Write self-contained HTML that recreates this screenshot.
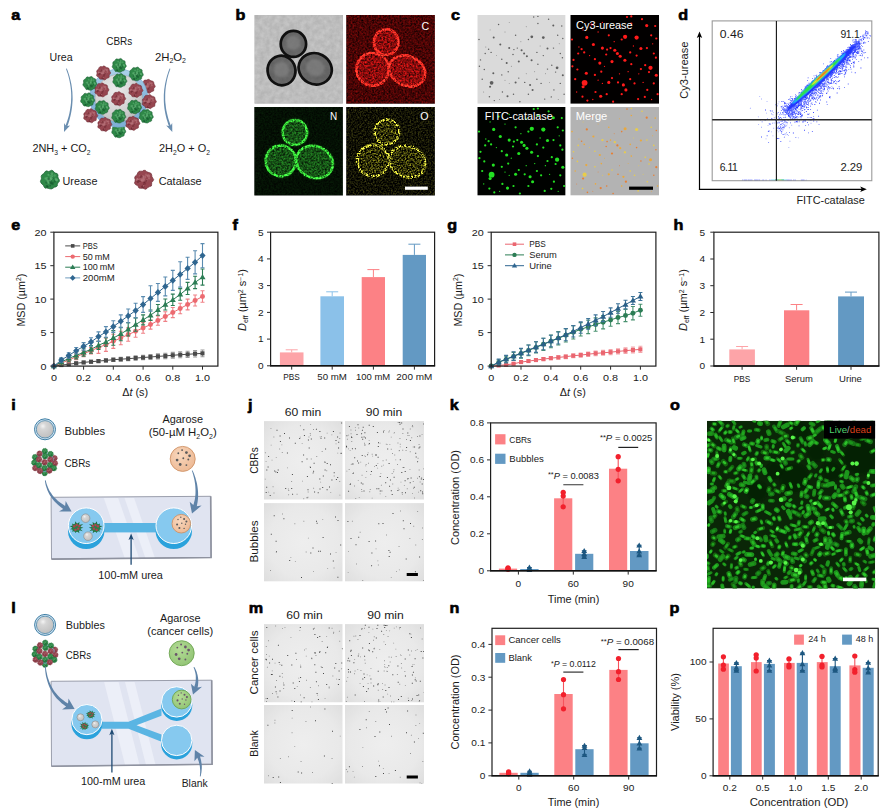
<!DOCTYPE html>
<html lang="en"><head><meta charset="utf-8"><title>Figure</title>
<style>
html,body{margin:0;padding:0;background:#fff}
svg{display:block}
text{font-family:'Liberation Sans', sans-serif}
</style></head>
<body>
<svg width="889" height="810" viewBox="0 0 889 810">
<defs><g id="ur"><path d="M9.7 0.0L9.8 1.7L8.5 3.1L7.7 4.5L7.6 6.4L6.2 7.4L4.5 7.8L3.2 8.7L1.7 9.5L0.0 9.4L-1.6 9.0L-3.1 8.5L-5.0 8.7L-6.1 7.2L-6.8 5.7L-8.0 4.6L-9.2 3.3L-9.8 1.7L-9.1 0.0L-8.7 -1.5L-9.0 -3.3L-8.4 -4.9L-7.0 -5.9L-5.8 -6.9L-4.9 -8.4L-3.3 -9.1L-1.5 -8.5L-0.0 -8.9L1.7 -9.7L3.3 -9.1L4.4 -7.6L5.7 -6.8L7.5 -6.3L8.4 -4.8L8.2 -3.0L8.7 -1.5Z" fill="#2f8848" stroke="#175a30" stroke-width="0.7" stroke-linejoin="round"/><circle cx="2.3" cy="-3.7" r="0.9" fill="#62b476" opacity="0.80"/><circle cx="0.6" cy="-0.7" r="1.4" fill="#62b476" opacity="0.70"/><circle cx="3.0" cy="-1.3" r="1.0" fill="#175a30" opacity="0.66"/><circle cx="4.9" cy="-4.4" r="1.3" fill="#62b476" opacity="0.46"/><circle cx="0.3" cy="6.2" r="0.9" fill="#175a30" opacity="0.64"/><circle cx="-1.5" cy="-5.0" r="1.1" fill="#62b476" opacity="0.63"/><circle cx="0.7" cy="-4.0" r="1.2" fill="#62b476" opacity="0.46"/><circle cx="5.3" cy="1.5" r="1.3" fill="#175a30" opacity="0.59"/><circle cx="1.9" cy="3.4" r="1.5" fill="#175a30" opacity="0.64"/><circle cx="1.2" cy="-1.4" r="1.7" fill="#62b476" opacity="0.65"/><circle cx="-2.0" cy="0.5" r="1.7" fill="#62b476" opacity="0.45"/><circle cx="1.3" cy="-6.3" r="1.5" fill="#175a30" opacity="0.63"/><circle cx="-3.1" cy="-1.2" r="1.6" fill="#62b476" opacity="0.65"/><circle cx="1.2" cy="3.7" r="1.1" fill="#175a30" opacity="0.57"/><circle cx="-4.7" cy="-1.2" r="1.2" fill="#62b476" opacity="0.46"/><circle cx="0.2" cy="1.4" r="1.6" fill="#175a30" opacity="0.73"/><circle cx="1.9" cy="-6.1" r="1.5" fill="#62b476" opacity="0.69"/><circle cx="0.1" cy="0.1" r="1.5" fill="#62b476" opacity="0.54"/><circle cx="3.8" cy="3.1" r="0.8" fill="#175a30" opacity="0.51"/><circle cx="-1.3" cy="-0.2" r="1.4" fill="#62b476" opacity="0.61"/><circle cx="-1.6" cy="3.3" r="1.1" fill="#62b476" opacity="0.60"/><circle cx="0.3" cy="0.8" r="0.9" fill="#175a30" opacity="0.66"/><circle cx="0.1" cy="-0.1" r="0.8" fill="#62b476" opacity="0.70"/><circle cx="2.9" cy="4.6" r="1.2" fill="#175a30" opacity="0.53"/><circle cx="6.1" cy="-1.0" r="0.9" fill="#62b476" opacity="0.68"/><circle cx="-3.5" cy="2.8" r="1.3" fill="#175a30" opacity="0.47"/><circle cx="-2.3" cy="7.2" r="1.0" fill="#175a30" opacity="0.75"/><circle cx="-2.7" cy="6.8" r="1.1" fill="#175a30" opacity="0.54"/><circle cx="6.8" cy="0.4" r="1.5" fill="#62b476" opacity="0.79"/><circle cx="-1.2" cy="-0.6" r="1.4" fill="#175a30" opacity="0.63"/><circle cx="-1.9" cy="1.9" r="1.4" fill="#62b476" opacity="0.60"/><circle cx="0.3" cy="0.8" r="1.0" fill="#62b476" opacity="0.62"/><circle cx="-3.1" cy="6.1" r="0.7" fill="#175a30" opacity="0.52"/><circle cx="-3.6" cy="6.8" r="1.0" fill="#175a30" opacity="0.52"/></g><g id="ca"><path d="M10.2 0.0L9.3 1.6L8.1 2.9L8.1 4.7L7.8 6.5L6.0 7.1L4.5 7.8L3.3 9.0L1.7 9.9L0.0 9.2L-1.5 8.8L-3.2 8.9L-5.0 8.6L-5.8 7.0L-6.9 5.8L-8.6 5.0L-9.6 3.5L-9.0 1.6L-8.8 0.0L-9.4 -1.7L-9.1 -3.3L-7.7 -4.4L-6.8 -5.7L-6.1 -7.3L-4.9 -8.6L-3.2 -8.8L-1.5 -8.7L-0.0 -9.7L1.7 -9.6L3.0 -8.3L4.4 -7.6L6.1 -7.2L7.6 -6.4L8.2 -4.7L8.4 -3.1L9.3 -1.6Z" fill="#964650" stroke="#6d2832" stroke-width="0.7" stroke-linejoin="round"/><circle cx="4.9" cy="-3.9" r="1.6" fill="#b8747b" opacity="0.72"/><circle cx="0.7" cy="-2.7" r="0.9" fill="#6d2832" opacity="0.71"/><circle cx="-0.8" cy="-3.5" r="1.2" fill="#b8747b" opacity="0.77"/><circle cx="-6.5" cy="-0.0" r="1.6" fill="#b8747b" opacity="0.76"/><circle cx="-4.3" cy="1.1" r="1.4" fill="#6d2832" opacity="0.62"/><circle cx="0.4" cy="2.5" r="0.9" fill="#6d2832" opacity="0.77"/><circle cx="-0.8" cy="7.1" r="1.7" fill="#6d2832" opacity="0.70"/><circle cx="-4.0" cy="-0.1" r="1.3" fill="#b8747b" opacity="0.56"/><circle cx="1.0" cy="3.9" r="1.3" fill="#6d2832" opacity="0.48"/><circle cx="2.4" cy="-5.1" r="1.4" fill="#b8747b" opacity="0.47"/><circle cx="-1.2" cy="-1.7" r="1.6" fill="#b8747b" opacity="0.49"/><circle cx="-6.6" cy="-0.9" r="0.9" fill="#b8747b" opacity="0.76"/><circle cx="-4.9" cy="2.6" r="1.1" fill="#b8747b" opacity="0.51"/><circle cx="-0.3" cy="-0.6" r="1.4" fill="#b8747b" opacity="0.46"/><circle cx="-0.2" cy="6.3" r="0.9" fill="#b8747b" opacity="0.69"/><circle cx="-0.3" cy="0.2" r="0.7" fill="#b8747b" opacity="0.57"/><circle cx="-4.3" cy="-3.8" r="1.0" fill="#b8747b" opacity="0.46"/><circle cx="-5.7" cy="1.9" r="1.6" fill="#6d2832" opacity="0.71"/><circle cx="3.6" cy="-4.2" r="0.9" fill="#b8747b" opacity="0.68"/><circle cx="-0.3" cy="0.7" r="1.6" fill="#b8747b" opacity="0.49"/><circle cx="-2.6" cy="-1.6" r="0.8" fill="#b8747b" opacity="0.79"/><circle cx="-0.3" cy="4.7" r="0.7" fill="#6d2832" opacity="0.65"/><circle cx="0.3" cy="0.3" r="0.9" fill="#b8747b" opacity="0.48"/><circle cx="-2.6" cy="-3.0" r="1.7" fill="#6d2832" opacity="0.53"/><circle cx="-1.8" cy="0.7" r="1.3" fill="#b8747b" opacity="0.73"/><circle cx="-0.5" cy="-1.9" r="1.2" fill="#b8747b" opacity="0.45"/><circle cx="3.1" cy="0.7" r="1.4" fill="#b8747b" opacity="0.53"/><circle cx="1.1" cy="0.8" r="0.9" fill="#b8747b" opacity="0.63"/><circle cx="-2.4" cy="0.5" r="0.9" fill="#b8747b" opacity="0.77"/><circle cx="5.5" cy="-1.3" r="1.2" fill="#b8747b" opacity="0.65"/><circle cx="3.1" cy="1.0" r="0.9" fill="#6d2832" opacity="0.48"/><circle cx="0.9" cy="-2.7" r="1.6" fill="#b8747b" opacity="0.66"/><circle cx="-1.9" cy="7.4" r="0.7" fill="#6d2832" opacity="0.69"/><circle cx="1.9" cy="1.4" r="1.4" fill="#6d2832" opacity="0.46"/></g><radialGradient id="gsph" cx="0.42" cy="0.35" r="0.7"><stop offset="0" stop-color="#ececec"/><stop offset="0.6" stop-color="#d2d2d2"/><stop offset="1" stop-color="#b4b4b4"/></radialGradient>
<radialGradient id="gbub" cx="0.38" cy="0.32" r="0.75"><stop offset="0" stop-color="#f4f4f4"/><stop offset="0.25" stop-color="#d6d6d6"/><stop offset="1" stop-color="#bdbdbd"/></radialGradient>
<linearGradient id="gring" x1="0" y1="0" x2="0" y2="1"><stop offset="0" stop-color="#a9cfe9"/><stop offset="0.5" stop-color="#86b6da"/><stop offset="1" stop-color="#7fb0d6"/></linearGradient>
<radialGradient id="gaga" cx="0.4" cy="0.35" r="0.75"><stop offset="0" stop-color="#f8d7bd"/><stop offset="1" stop-color="#ecb690"/></radialGradient>
<radialGradient id="ggrn" cx="0.4" cy="0.35" r="0.75"><stop offset="0" stop-color="#b4dc96"/><stop offset="1" stop-color="#8fc272"/></radialGradient>
<g id="cbr"><use href="#ca" transform="translate(29.3 -11.8) scale(0.92)"/><use href="#ur" transform="translate(0.0 32.8) scale(0.92)"/><circle cx="0" cy="0" r="26.4" fill="url(#gsph)" stroke="url(#gring)" stroke-width="5.4"/><circle cx="0" cy="0" r="29.1" fill="none" stroke="#6d9fc6" stroke-width="0.5"/><circle cx="0" cy="0" r="23.6" fill="none" stroke="#9a9a9a" stroke-width="0.6" opacity="0.7"/><use href="#ur" transform="translate(-28.8 -14.7) scale(0.92)"/><use href="#ur" transform="translate(-31.1 1.7) scale(0.92)"/><use href="#ca" transform="translate(-28.2 17.6) scale(0.92)"/><use href="#ur" transform="translate(0.5 -32.7) scale(0.92)"/><use href="#ca" transform="translate(-15.3 -25.2) scale(0.92)"/><use href="#ur" transform="translate(17.5 -24.1) scale(0.92)"/><use href="#ur" transform="translate(1.1 -17.6) scale(0.92)"/><use href="#ca" transform="translate(-17.0 -8.2) scale(0.92)"/><use href="#ca" transform="translate(17.0 -7.7) scale(0.92)"/><use href="#ca" transform="translate(-0.3 0.6) scale(0.92)"/><use href="#ca" transform="translate(30.4 3.5) scale(0.92)"/><use href="#ur" transform="translate(-16.5 9.3) scale(0.92)"/><use href="#ur" transform="translate(15.8 8.8) scale(0.92)"/><use href="#ur" transform="translate(0.0 18.1) scale(0.92)"/><use href="#ur" transform="translate(27.5 18.1) scale(0.92)"/><use href="#ca" transform="translate(-14.1 26.3) scale(0.92)"/><use href="#ca" transform="translate(14.0 25.2) scale(0.92)"/></g>
<g id="swim"><path d="M5.8 0.0L3.1 0.8L5.3 2.9L2.0 2.0L2.5 4.7L0.5 2.9L-0.8 4.5L-1.5 2.7L-3.5 3.4L-2.9 1.6L-5.2 1.3L-3.1 0.0L-5.7 -1.4L-3.2 -1.7L-3.6 -3.5L-1.4 -2.5L-0.9 -5.3L0.6 -3.3L2.6 -4.8L2.2 -2.2L5.7 -3.1L3.0 -0.7Z" fill="#1f6b3b"/><circle r="3.6" fill="#2c7e49"/><circle cx="-1.8" cy="-1.2" r="1.0" fill="#b0424e"/><circle cx="1.5" cy="0.8" r="1.0" fill="#b0424e"/><circle cx="0.2" cy="-2.3" r="1.0" fill="#b0424e"/><circle cx="-0.8" cy="1.8" r="1.0" fill="#b0424e"/><circle cx="2.4" cy="-1.4" r="1.0" fill="#b0424e"/></g>
<filter id="grain" x="0" y="0" width="1" height="1" color-interpolation-filters="sRGB">
<feTurbulence type="fractalNoise" baseFrequency="0.55" numOctaves="2" seed="4" result="n"/>
<feColorMatrix in="n" type="matrix" values="1 0 0 0 0  1 0 0 0 0  1 0 0 0 0  0 0 0 0 1" result="g"/>
<feComposite in="SourceGraphic" in2="g" operator="arithmetic" k1="2.4" k2="-0.2" k3="0" k4="0"/>
</filter>
<filter id="grainY" x="0" y="0" width="1" height="1" color-interpolation-filters="sRGB">
<feTurbulence type="fractalNoise" baseFrequency="0.6" numOctaves="2" seed="9" result="n"/>
<feColorMatrix in="n" type="matrix" values="1 0 0 0 0  1 0 0 0 0  1 0 0 0 0  0 0 0 0 1" result="g"/>
<feComposite in="SourceGraphic" in2="g" operator="arithmetic" k1="5.2" k2="-1.95" k3="0" k4="0"/>
</filter>
<filter id="mottle" x="0" y="0" width="1" height="1" color-interpolation-filters="sRGB">
<feTurbulence type="fractalNoise" baseFrequency="0.2" numOctaves="3" seed="2" result="n"/>
<feColorMatrix in="n" type="matrix" values="1 0 0 0 0  1 0 0 0 0  1 0 0 0 0  0 0 0 0 1" result="g"/>
<feComposite in="SourceGraphic" in2="g" operator="arithmetic" k1="0.16" k2="0.92" k3="0" k4="0"/>
</filter>
<filter id="b08"><feGaussianBlur stdDeviation="0.7"/></filter>
<radialGradient id="vig" cx="0.5" cy="0.5" r="0.75"><stop offset="0" stop-color="#eeeeee"/><stop offset="0.6" stop-color="#e9e9e9"/><stop offset="1" stop-color="#dcdcdc"/></radialGradient>
<filter id="b06"><feGaussianBlur stdDeviation="0.6"/></filter>
<filter id="b10"><feGaussianBlur stdDeviation="1.0"/></filter>
<filter id="b04"><feGaussianBlur stdDeviation="0.4"/></filter>
<filter id="b03"><feGaussianBlur stdDeviation="0.3"/></filter>
<clipPath id="cl0"><rect x="254.3" y="14.9" width="88.6" height="88.9"/></clipPath><clipPath id="cl1"><rect x="346.2" y="14.9" width="88.7" height="88.9"/></clipPath><clipPath id="cl2"><rect x="254.3" y="107.0" width="88.6" height="88.6"/></clipPath><clipPath id="cl3"><rect x="346.2" y="107.0" width="88.7" height="88.6"/></clipPath><clipPath id="cl4"><rect x="477.3" y="14.9" width="88.3" height="88.9"/></clipPath><clipPath id="cl5"><rect x="570.3" y="14.9" width="88.8" height="88.9"/></clipPath><clipPath id="cl6"><rect x="477.3" y="107.0" width="88.3" height="88.6"/></clipPath><clipPath id="cl7"><rect x="570.3" y="107.0" width="88.8" height="88.6"/></clipPath><clipPath id="cl8"><rect x="264.0" y="421.1" width="78.7" height="78.6"/></clipPath><clipPath id="cl9"><rect x="345.0" y="421.1" width="79.0" height="78.6"/></clipPath><clipPath id="cl10"><rect x="264.0" y="503.1" width="78.7" height="78.5"/></clipPath><clipPath id="cl11"><rect x="345.0" y="503.1" width="79.0" height="78.5"/></clipPath><clipPath id="cl12"><rect x="264.0" y="624.1" width="78.7" height="78.4"/></clipPath><clipPath id="cl13"><rect x="345.0" y="624.1" width="79.0" height="78.4"/></clipPath><clipPath id="cl14"><rect x="264.0" y="704.9" width="78.7" height="78.8"/></clipPath><clipPath id="cl15"><rect x="345.0" y="704.9" width="79.0" height="78.8"/></clipPath><clipPath id="cl16"><rect x="707.0" y="420.8" width="168.1" height="167.8"/></clipPath>
</defs>
<rect width="889" height="810" fill="#fff"/>
<g stroke="#000" stroke-width="0.6"><text x="11.2" y="19.7" font-size="15.3" textLength="9.0" lengthAdjust="spacingAndGlyphs" fill="#000" font-weight="bold">a</text>
<text x="235.4" y="19.7" font-size="15.3" textLength="9.9" lengthAdjust="spacingAndGlyphs" fill="#000" font-weight="bold">b</text>
<text x="451.1" y="19.7" font-size="15.3" textLength="9.0" lengthAdjust="spacingAndGlyphs" fill="#000" font-weight="bold">c</text>
<text x="678.2" y="19.7" font-size="15.3" textLength="9.9" lengthAdjust="spacingAndGlyphs" fill="#000" font-weight="bold">d</text>
<text x="11.2" y="229.6" font-size="15.3" textLength="9.0" lengthAdjust="spacingAndGlyphs" fill="#000" font-weight="bold">e</text>
<text x="232.4" y="229.6" font-size="15.3" textLength="5.4" lengthAdjust="spacingAndGlyphs" fill="#000" font-weight="bold">f</text>
<text x="447.3" y="229.6" font-size="15.3" textLength="9.9" lengthAdjust="spacingAndGlyphs" fill="#000" font-weight="bold">g</text>
<text x="673.4" y="229.6" font-size="15.3" textLength="9.9" lengthAdjust="spacingAndGlyphs" fill="#000" font-weight="bold">h</text>
<text x="11.2" y="410.0" font-size="15.3" textLength="4.5" lengthAdjust="spacingAndGlyphs" fill="#000" font-weight="bold">i</text>
<text x="248.1" y="410.0" font-size="15.3" textLength="4.5" lengthAdjust="spacingAndGlyphs" fill="#000" font-weight="bold">j</text>
<text x="449.8" y="410.2" font-size="15.3" textLength="9.0" lengthAdjust="spacingAndGlyphs" fill="#000" font-weight="bold">k</text>
<text x="670.1" y="410.2" font-size="15.3" textLength="9.9" lengthAdjust="spacingAndGlyphs" fill="#000" font-weight="bold">o</text>
<text x="11.2" y="612.7" font-size="15.3" textLength="4.5" lengthAdjust="spacingAndGlyphs" fill="#000" font-weight="bold">l</text>
<text x="248.8" y="612.7" font-size="15.3" textLength="14.4" lengthAdjust="spacingAndGlyphs" fill="#000" font-weight="bold">m</text>
<text x="449.6" y="612.8" font-size="15.3" textLength="9.9" lengthAdjust="spacingAndGlyphs" fill="#000" font-weight="bold">n</text>
<text x="669.6" y="612.8" font-size="15.3" textLength="9.9" lengthAdjust="spacingAndGlyphs" fill="#000" font-weight="bold">p</text>
</g>
<g id="panel_e">
<path d="M61.3 364.3V365.9M59.3 364.3h4M59.3 365.9h4M68.8 363.3V365.2M66.8 363.3h4M66.8 365.2h4M76.2 362.2V364.4M74.2 362.2h4M74.2 364.4h4M83.6 361.2V363.6M81.6 361.2h4M81.6 363.6h4M91.0 360.4V363.1M89.0 360.4h4M89.0 363.1h4M98.5 359.6V362.6M96.5 359.6h4M96.5 362.6h4M105.9 358.8V362.0M103.9 358.8h4M103.9 362.0h4M113.3 358.0V361.5M111.3 358.0h4M111.3 361.5h4M120.8 357.3V361.1M118.8 357.3h4M118.8 361.1h4M128.2 356.7V360.7M126.2 356.7h4M126.2 360.7h4M135.6 355.9V360.2M133.6 355.9h4M133.6 360.2h4M143.1 355.3V359.8M141.1 355.3h4M141.1 359.8h4M150.5 354.6V359.4M148.5 354.6h4M148.5 359.4h4M157.9 353.8V358.9M155.9 353.8h4M155.9 358.9h4M165.3 353.2V358.6M163.3 353.2h4M163.3 358.6h4M172.8 352.4V358.1M170.8 352.4h4M170.8 358.1h4M180.2 351.8V357.7M178.2 351.8h4M178.2 357.7h4M187.6 351.2V357.4M185.6 351.2h4M185.6 357.4h4M195.1 350.6V357.0M193.1 350.6h4M193.1 357.0h4M202.5 350.0V356.7M200.5 350.0h4M200.5 356.7h4" stroke="#9a9a9a" stroke-width="1.1" fill="none"/>
<polyline points="53.9,366.1 61.3,365.1 68.8,364.2 76.2,363.3 83.6,362.4 91.0,361.7 98.5,361.1 105.9,360.4 113.3,359.7 120.8,359.2 128.2,358.7 135.6,358.1 143.1,357.5 150.5,357.0 157.9,356.4 165.3,355.9 172.8,355.3 180.2,354.7 187.6,354.3 195.1,353.8 202.5,353.4" fill="none" stroke="#4a4a4a" stroke-width="1"/>
<rect x="51.8" y="364.0" width="4.1" height="4.1" fill="#4a4a4a" />
<rect x="59.3" y="363.0" width="4.1" height="4.1" fill="#4a4a4a" />
<rect x="66.7" y="362.2" width="4.1" height="4.1" fill="#4a4a4a" />
<rect x="74.1" y="361.2" width="4.1" height="4.1" fill="#4a4a4a" />
<rect x="81.6" y="360.4" width="4.1" height="4.1" fill="#4a4a4a" />
<rect x="89.0" y="359.7" width="4.1" height="4.1" fill="#4a4a4a" />
<rect x="96.4" y="359.0" width="4.1" height="4.1" fill="#4a4a4a" />
<rect x="103.9" y="358.4" width="4.1" height="4.1" fill="#4a4a4a" />
<rect x="111.3" y="357.7" width="4.1" height="4.1" fill="#4a4a4a" />
<rect x="118.7" y="357.2" width="4.1" height="4.1" fill="#4a4a4a" />
<rect x="126.1" y="356.7" width="4.1" height="4.1" fill="#4a4a4a" />
<rect x="133.6" y="356.0" width="4.1" height="4.1" fill="#4a4a4a" />
<rect x="141.0" y="355.5" width="4.1" height="4.1" fill="#4a4a4a" />
<rect x="148.4" y="354.9" width="4.1" height="4.1" fill="#4a4a4a" />
<rect x="155.9" y="354.3" width="4.1" height="4.1" fill="#4a4a4a" />
<rect x="163.3" y="353.9" width="4.1" height="4.1" fill="#4a4a4a" />
<rect x="170.7" y="353.2" width="4.1" height="4.1" fill="#4a4a4a" />
<rect x="178.2" y="352.7" width="4.1" height="4.1" fill="#4a4a4a" />
<rect x="185.6" y="352.3" width="4.1" height="4.1" fill="#4a4a4a" />
<rect x="193.0" y="351.7" width="4.1" height="4.1" fill="#4a4a4a" />
<rect x="200.4" y="351.3" width="4.1" height="4.1" fill="#4a4a4a" />
<path d="M61.3 360.6V365.6M59.3 360.6h4M59.3 365.6h4M68.8 357.4V362.8M66.8 357.4h4M66.8 362.8h4M76.2 353.9V359.6M74.2 353.9h4M74.2 359.6h4M83.6 350.7V356.7M81.6 350.7h4M81.6 356.7h4M91.0 347.5V353.9M89.0 347.5h4M89.0 353.9h4M98.5 341.3V353.4M96.5 341.3h4M96.5 353.4h4M105.9 338.0V351.4M103.9 338.0h4M103.9 351.4h4M113.3 334.3V348.4M111.3 334.3h4M111.3 348.4h4M120.8 331.3V344.7M118.8 331.3h4M118.8 344.7h4M128.2 327.9V341.3M126.2 327.9h4M126.2 341.3h4M135.6 325.3V337.3M133.6 325.3h4M133.6 337.3h4M143.1 322.6V333.3M141.1 322.6h4M141.1 333.3h4M150.5 320.1V329.1M148.5 320.1h4M148.5 329.1h4M157.9 315.9V325.3M155.9 315.9h4M155.9 325.3h4M165.3 311.7V321.4M163.3 311.7h4M163.3 321.4h4M172.8 307.5V317.6M170.8 307.5h4M170.8 317.6h4M180.2 303.3V313.7M178.2 303.3h4M178.2 313.7h4M187.6 299.1V309.9M185.6 299.1h4M185.6 309.9h4M195.1 295.0V306.0M193.1 295.0h4M193.1 306.0h4M202.5 290.8V302.2M200.5 290.8h4M200.5 302.2h4" stroke="#ef8187" stroke-width="1.1" fill="none"/>
<polyline points="53.9,366.1 61.3,363.1 68.8,360.1 76.2,356.7 83.6,353.7 91.0,350.7 98.5,347.4 105.9,344.7 113.3,341.3 120.8,338.0 128.2,334.6 135.6,331.3 143.1,327.9 150.5,324.6 157.9,320.6 165.3,316.6 172.8,312.5 180.2,308.5 187.6,304.5 195.1,300.5 202.5,296.5" fill="none" stroke="#ec6a70" stroke-width="1"/>
<circle cx="53.9" cy="366.1" r="2.48" fill="#ec6a70" />
<circle cx="61.3" cy="363.1" r="2.48" fill="#ec6a70" />
<circle cx="68.8" cy="360.1" r="2.48" fill="#ec6a70" />
<circle cx="76.2" cy="356.7" r="2.48" fill="#ec6a70" />
<circle cx="83.6" cy="353.7" r="2.48" fill="#ec6a70" />
<circle cx="91.0" cy="350.7" r="2.48" fill="#ec6a70" />
<circle cx="98.5" cy="347.4" r="2.48" fill="#ec6a70" />
<circle cx="105.9" cy="344.7" r="2.48" fill="#ec6a70" />
<circle cx="113.3" cy="341.3" r="2.48" fill="#ec6a70" />
<circle cx="120.8" cy="338.0" r="2.48" fill="#ec6a70" />
<circle cx="128.2" cy="334.6" r="2.48" fill="#ec6a70" />
<circle cx="135.6" cy="331.3" r="2.48" fill="#ec6a70" />
<circle cx="143.1" cy="327.9" r="2.48" fill="#ec6a70" />
<circle cx="150.5" cy="324.6" r="2.48" fill="#ec6a70" />
<circle cx="157.9" cy="320.6" r="2.48" fill="#ec6a70" />
<circle cx="165.3" cy="316.6" r="2.48" fill="#ec6a70" />
<circle cx="172.8" cy="312.5" r="2.48" fill="#ec6a70" />
<circle cx="180.2" cy="308.5" r="2.48" fill="#ec6a70" />
<circle cx="187.6" cy="304.5" r="2.48" fill="#ec6a70" />
<circle cx="195.1" cy="300.5" r="2.48" fill="#ec6a70" />
<circle cx="202.5" cy="296.5" r="2.48" fill="#ec6a70" />
<path d="M61.3 358.9V365.3M59.3 358.9h4M59.3 365.3h4M68.8 355.1V361.7M66.8 355.1h4M66.8 361.7h4M76.2 351.9V358.9M74.2 351.9h4M74.2 358.9h4M83.6 348.7V356.1M81.6 348.7h4M81.6 356.1h4M91.0 345.5V353.2M89.0 345.5h4M89.0 353.2h4M98.5 341.3V349.4M96.5 341.3h4M96.5 349.4h4M105.9 337.8V346.2M103.9 337.8h4M103.9 346.2h4M113.3 330.6V345.3M111.3 330.6h4M111.3 345.3h4M120.8 327.3V340.7M118.8 327.3h4M118.8 340.7h4M128.2 322.6V336.0M126.2 322.6h4M126.2 336.0h4M135.6 317.9V331.3M133.6 317.9h4M133.6 331.3h4M143.1 314.9V324.9M141.1 314.9h4M141.1 324.9h4M150.5 310.0V320.4M148.5 310.0h4M148.5 320.4h4M157.9 304.5V315.2M155.9 304.5h4M155.9 315.2h4M165.3 299.0V310.0M163.3 299.0h4M163.3 310.0h4M172.8 294.1V305.5M170.8 294.1h4M170.8 305.5h4M180.2 288.6V300.3M178.2 288.6h4M178.2 300.3h4M187.6 282.4V294.5M185.6 282.4h4M185.6 294.5h4M195.1 276.2V288.6M193.1 276.2h4M193.1 288.6h4M202.5 269.0V285.1M200.5 269.0h4M200.5 285.1h4" stroke="#2c7d55" stroke-width="1.1" fill="none"/>
<polyline points="53.9,366.1 61.3,362.1 68.8,358.4 76.2,355.4 83.6,352.4 91.0,349.4 98.5,345.3 105.9,342.0 113.3,338.0 120.8,334.0 128.2,329.3 135.6,324.6 143.1,319.9 150.5,315.2 157.9,309.9 165.3,304.5 172.8,299.8 180.2,294.5 187.6,288.4 195.1,282.4 202.5,277.1" fill="none" stroke="#2c7d55" stroke-width="1"/>
<path d="M53.9 363.0L56.9 368.3H50.9Z" fill="#2c7d55"/>
<path d="M61.3 359.0L64.4 364.2H58.3Z" fill="#2c7d55"/>
<path d="M68.8 355.3L71.8 360.6H65.7Z" fill="#2c7d55"/>
<path d="M76.2 352.3L79.2 357.5H73.2Z" fill="#2c7d55"/>
<path d="M83.6 349.2L86.6 354.5H80.6Z" fill="#2c7d55"/>
<path d="M91.0 346.2L94.1 351.5H88.0Z" fill="#2c7d55"/>
<path d="M98.5 342.2L101.5 347.5H95.5Z" fill="#2c7d55"/>
<path d="M105.9 338.9L108.9 344.2H102.9Z" fill="#2c7d55"/>
<path d="M113.3 334.8L116.4 340.1H110.3Z" fill="#2c7d55"/>
<path d="M120.8 330.8L123.8 336.1H117.7Z" fill="#2c7d55"/>
<path d="M128.2 326.1L131.2 331.4H125.2Z" fill="#2c7d55"/>
<path d="M135.6 321.5L138.7 326.8H132.6Z" fill="#2c7d55"/>
<path d="M143.1 316.8L146.1 322.1H140.0Z" fill="#2c7d55"/>
<path d="M150.5 312.1L153.5 317.4H147.5Z" fill="#2c7d55"/>
<path d="M157.9 306.7L160.9 312.0H154.9Z" fill="#2c7d55"/>
<path d="M165.3 301.4L168.4 306.7H162.3Z" fill="#2c7d55"/>
<path d="M172.8 296.7L175.8 302.0H169.8Z" fill="#2c7d55"/>
<path d="M180.2 291.3L183.2 296.6H177.2Z" fill="#2c7d55"/>
<path d="M187.6 285.3L190.7 290.6H184.6Z" fill="#2c7d55"/>
<path d="M195.1 279.3L198.1 284.6H192.0Z" fill="#2c7d55"/>
<path d="M202.5 273.9L205.5 279.2H199.5Z" fill="#2c7d55"/>
<path d="M61.3 357.9V362.3M59.3 357.9h4M59.3 362.3h4M68.8 352.7V358.1M66.8 352.7h4M66.8 358.1h4M76.2 347.5V353.9M74.2 347.5h4M74.2 353.9h4M83.6 342.6V350.1M81.6 342.6h4M81.6 350.1h4M91.0 337.7V346.3M89.0 337.7h4M89.0 346.3h4M98.5 331.9V341.4M96.5 331.9h4M96.5 341.4h4M105.9 326.6V337.3M103.9 326.6h4M103.9 337.3h4M113.3 320.8V332.4M111.3 320.8h4M111.3 332.4h4M120.8 314.9V327.6M118.8 314.9h4M118.8 327.6h4M128.2 309.0V322.7M126.2 309.0h4M126.2 322.7h4M135.6 303.2V317.9M133.6 303.2h4M133.6 317.9h4M143.1 296.6V312.4M141.1 296.6h4M141.1 312.4h4M150.5 285.8V311.2M148.5 285.8h4M148.5 311.2h4M157.9 283.5V301.4M155.9 283.5h4M155.9 301.4h4M165.3 277.0V295.9M163.3 277.0h4M163.3 295.9h4M172.8 270.4V290.4M170.8 270.4h4M170.8 290.4h4M180.2 261.7V287.1M178.2 261.7h4M178.2 287.1h4M187.6 257.3V279.4M185.6 257.3h4M185.6 279.4h4M195.1 250.8V273.9M193.1 250.8h4M193.1 273.9h4M202.5 243.6V267.7M200.5 243.6h4M200.5 267.7h4" stroke="#5a8bb0" stroke-width="1.1" fill="none"/>
<polyline points="53.9,366.1 61.3,360.1 68.8,355.4 76.2,350.7 83.6,346.3 91.0,342.0 98.5,336.6 105.9,332.0 113.3,326.6 120.8,321.2 128.2,315.9 135.6,310.5 143.1,304.5 150.5,298.5 157.9,292.5 165.3,286.4 172.8,280.4 180.2,274.4 187.6,268.4 195.1,262.3 202.5,255.6" fill="none" stroke="#2f6690" stroke-width="1"/>
<path d="M53.9 362.8L57.0 366.1L53.9 369.4L50.8 366.1Z" fill="#2f6690"/>
<path d="M61.3 356.7L64.5 360.1L61.3 363.4L58.2 360.1Z" fill="#2f6690"/>
<path d="M68.8 352.0L71.9 355.4L68.8 358.7L65.6 355.4Z" fill="#2f6690"/>
<path d="M76.2 347.4L79.3 350.7L76.2 354.0L73.1 350.7Z" fill="#2f6690"/>
<path d="M83.6 343.0L86.8 346.3L83.6 349.7L80.5 346.3Z" fill="#2f6690"/>
<path d="M91.0 338.6L94.2 342.0L91.0 345.3L87.9 342.0Z" fill="#2f6690"/>
<path d="M98.5 333.3L101.6 336.6L98.5 340.0L95.3 336.6Z" fill="#2f6690"/>
<path d="M105.9 328.6L109.0 332.0L105.9 335.3L102.8 332.0Z" fill="#2f6690"/>
<path d="M113.3 323.3L116.5 326.6L113.3 329.9L110.2 326.6Z" fill="#2f6690"/>
<path d="M120.8 317.9L123.9 321.2L120.8 324.6L117.6 321.2Z" fill="#2f6690"/>
<path d="M128.2 312.5L131.3 315.9L128.2 319.2L125.1 315.9Z" fill="#2f6690"/>
<path d="M135.6 307.2L138.8 310.5L135.6 313.9L132.5 310.5Z" fill="#2f6690"/>
<path d="M143.1 301.2L146.2 304.5L143.1 307.9L139.9 304.5Z" fill="#2f6690"/>
<path d="M150.5 295.1L153.6 298.5L150.5 301.8L147.4 298.5Z" fill="#2f6690"/>
<path d="M157.9 289.1L161.1 292.5L157.9 295.8L154.8 292.5Z" fill="#2f6690"/>
<path d="M165.3 283.1L168.5 286.4L165.3 289.8L162.2 286.4Z" fill="#2f6690"/>
<path d="M172.8 277.1L175.9 280.4L172.8 283.8L169.6 280.4Z" fill="#2f6690"/>
<path d="M180.2 271.0L183.3 274.4L180.2 277.7L177.1 274.4Z" fill="#2f6690"/>
<path d="M187.6 265.0L190.8 268.4L187.6 271.7L184.5 268.4Z" fill="#2f6690"/>
<path d="M195.1 259.0L198.2 262.3L195.1 265.7L191.9 262.3Z" fill="#2f6690"/>
<path d="M202.5 252.3L205.6 255.6L202.5 259.0L199.4 255.6Z" fill="#2f6690"/>
<rect x="53.9" y="232.2" width="164.0" height="133.9" fill="none" stroke="#1e1e1e" stroke-width="1.2" />
<path d="M50.3 366.1H53.9M50.3 332.6H53.9M50.3 299.1H53.9M50.3 265.7H53.9M50.3 232.2H53.9M53.9 366.1v3.6M83.6 366.1v3.6M113.3 366.1v3.6M143.1 366.1v3.6M172.8 366.1v3.6M202.5 366.1v3.6" stroke="#2a2a2a" stroke-width="1" fill="none"/>
<text x="46.5" y="369.6" font-size="9.8" text-anchor="end" textLength="6.0" lengthAdjust="spacingAndGlyphs" fill="#1a1a1a">0</text>
<text x="46.5" y="336.1" font-size="9.8" text-anchor="end" textLength="6.0" lengthAdjust="spacingAndGlyphs" fill="#1a1a1a">5</text>
<text x="46.5" y="302.6" font-size="9.8" text-anchor="end" textLength="12.0" lengthAdjust="spacingAndGlyphs" fill="#1a1a1a">10</text>
<text x="46.5" y="269.2" font-size="9.8" text-anchor="end" textLength="12.0" lengthAdjust="spacingAndGlyphs" fill="#1a1a1a">15</text>
<text x="46.5" y="235.7" font-size="9.8" text-anchor="end" textLength="12.0" lengthAdjust="spacingAndGlyphs" fill="#1a1a1a">20</text>
<text x="53.9" y="380.9" font-size="9.8" text-anchor="middle" textLength="6.0" lengthAdjust="spacingAndGlyphs" fill="#1a1a1a">0</text>
<text x="83.6" y="380.9" font-size="9.8" text-anchor="middle" textLength="15.0" lengthAdjust="spacingAndGlyphs" fill="#1a1a1a">0.2</text>
<text x="113.3" y="380.9" font-size="9.8" text-anchor="middle" textLength="15.0" lengthAdjust="spacingAndGlyphs" fill="#1a1a1a">0.4</text>
<text x="143.1" y="380.9" font-size="9.8" text-anchor="middle" textLength="15.0" lengthAdjust="spacingAndGlyphs" fill="#1a1a1a">0.6</text>
<text x="172.8" y="380.9" font-size="9.8" text-anchor="middle" textLength="15.0" lengthAdjust="spacingAndGlyphs" fill="#1a1a1a">0.8</text>
<text x="202.5" y="380.9" font-size="9.8" text-anchor="middle" textLength="15.0" lengthAdjust="spacingAndGlyphs" fill="#1a1a1a">1.0</text>
<text x="135.2" y="396.3" font-size="10.3" text-anchor="middle" textLength="25.9" lengthAdjust="spacingAndGlyphs" fill="#1a1a1a">&#916;<tspan font-style="italic">t</tspan> (s)</text>
<text fill="#1a1a1a" font-size="10.3" text-anchor="middle" textLength="53" lengthAdjust="spacingAndGlyphs" transform="translate(24.8 300.1) rotate(-90)">MSD (&#181;m<tspan dy="-3.5" font-size="6.5">2</tspan><tspan dy="3.5">)</tspan></text>
<line x1="65.2" y1="245.9" x2="80.2" y2="245.9" stroke="#4a4a4a" stroke-width="1" />
<rect x="70.9" y="244.1" width="3.6" height="3.6" fill="#4a4a4a" />
<text x="82.8" y="249.0" font-size="8.6" textLength="14.9" lengthAdjust="spacingAndGlyphs" fill="#1a1a1a">PBS</text>
<line x1="65.2" y1="256.6" x2="80.2" y2="256.6" stroke="#ec6a70" stroke-width="1" />
<circle cx="72.7" cy="256.6" r="2.18" fill="#ec6a70" />
<text x="82.8" y="259.7" font-size="8.6" textLength="26.9" lengthAdjust="spacingAndGlyphs" fill="#1a1a1a">50&#8201;mM</text>
<line x1="65.2" y1="267.2" x2="80.2" y2="267.2" stroke="#2c7d55" stroke-width="1" />
<path d="M72.7 264.4L75.4 269.1H70.0Z" fill="#2c7d55"/>
<text x="82.8" y="270.3" font-size="8.6" textLength="31.9" lengthAdjust="spacingAndGlyphs" fill="#1a1a1a">100&#8201;mM</text>
<line x1="65.2" y1="277.9" x2="80.2" y2="277.9" stroke="#6f9bbd" stroke-width="1" />
<path d="M72.7 274.9L75.5 277.9L72.7 280.8L69.9 277.9Z" fill="#2f6690"/>
<text x="82.8" y="281.0" font-size="8.6" textLength="31.9" lengthAdjust="spacingAndGlyphs" fill="#1a1a1a">200mM</text>
</g>
<g id="panel_f">
<path d="M291.7 352.4V349.8M285.7 349.8h12" stroke="#fda4a8" stroke-width="1" fill="none"/>
<rect x="279.9" y="352.4" width="23.6" height="13.4" fill="#fda4a8" />
<path d="M332.2 296.3V291.8M326.2 291.8h12" stroke="#8bc1e9" stroke-width="1" fill="none"/>
<rect x="320.4" y="296.3" width="23.6" height="69.5" fill="#8bc1e9" />
<path d="M373.4 277.1V269.6M367.4 269.6h12" stroke="#fc8185" stroke-width="1" fill="none"/>
<rect x="361.7" y="277.1" width="23.3" height="88.7" fill="#fc8185" />
<path d="M414.4 254.9V244.2M408.4 244.2h12" stroke="#6399c3" stroke-width="1" fill="none"/>
<rect x="402.7" y="254.9" width="23.3" height="110.9" fill="#6399c3" />
<rect x="270.6" y="232.2" width="164.0" height="133.6" fill="none" stroke="#1e1e1e" stroke-width="1.2" />
<line x1="270.1" y1="365.8" x2="435.1" y2="365.8" stroke="#111" stroke-width="1.5" />
<path d="M267.0 365.8H270.6M267.0 339.1H270.6M267.0 312.4H270.6M267.0 285.6H270.6M267.0 258.9H270.6M267.0 232.2H270.6M291.7 365.8v3.8M332.2 365.8v3.8M373.4 365.8v3.8M414.4 365.8v3.8" stroke="#2a2a2a" stroke-width="1" fill="none"/>
<text x="263.5" y="369.1" font-size="9.3" text-anchor="end" textLength="5.6" lengthAdjust="spacingAndGlyphs" fill="#1a1a1a">0</text>
<text x="263.5" y="342.4" font-size="9.3" text-anchor="end" textLength="5.6" lengthAdjust="spacingAndGlyphs" fill="#1a1a1a">1</text>
<text x="263.5" y="315.7" font-size="9.3" text-anchor="end" textLength="5.6" lengthAdjust="spacingAndGlyphs" fill="#1a1a1a">2</text>
<text x="263.5" y="288.9" font-size="9.3" text-anchor="end" textLength="5.6" lengthAdjust="spacingAndGlyphs" fill="#1a1a1a">3</text>
<text x="263.5" y="262.2" font-size="9.3" text-anchor="end" textLength="5.6" lengthAdjust="spacingAndGlyphs" fill="#1a1a1a">4</text>
<text x="263.5" y="235.5" font-size="9.3" text-anchor="end" textLength="5.6" lengthAdjust="spacingAndGlyphs" fill="#1a1a1a">5</text>
<text x="291.6" y="379.8" font-size="9.0" text-anchor="middle" textLength="16.5" lengthAdjust="spacingAndGlyphs" fill="#1a1a1a">PBS</text>
<text x="332.1" y="379.8" font-size="9.0" text-anchor="middle" textLength="29.6" lengthAdjust="spacingAndGlyphs" fill="#1a1a1a">50 mM</text>
<text x="373.1" y="379.8" font-size="9.0" text-anchor="middle" textLength="34.2" lengthAdjust="spacingAndGlyphs" fill="#1a1a1a">100 mM</text>
<text x="414.3" y="379.8" font-size="9.0" text-anchor="middle" textLength="35.9" lengthAdjust="spacingAndGlyphs" fill="#1a1a1a">200 mM</text>
<text fill="#1a1a1a" font-size="10.3" text-anchor="middle" textLength="62" lengthAdjust="spacingAndGlyphs" transform="translate(246.2 300.0) rotate(-90)"><tspan font-style="italic">D</tspan><tspan dy="2" font-size="6.5">eff</tspan><tspan dy="-2"> (&#181;m</tspan><tspan dy="-3.5" font-size="6.5">2</tspan><tspan dy="3.5"> s</tspan><tspan dy="-3.5" font-size="6.5">&#8722;1</tspan><tspan dy="3.5">)</tspan></text>
</g>
<g id="panel_g">
<path d="M498.7 364.6V366.2M496.7 364.6h4M496.7 366.2h4M506.1 363.9V365.7M504.1 363.9h4M504.1 365.7h4M513.6 362.7V364.8M511.6 362.7h4M511.6 364.8h4M521.0 360.9V363.2M519.0 360.9h4M519.0 363.2h4M528.5 359.8V362.3M526.5 359.8h4M526.5 362.3h4M536.0 358.7V361.4M534.0 358.7h4M534.0 361.4h4M543.4 357.6V360.6M541.4 357.6h4M541.4 360.6h4M550.9 356.6V359.8M548.9 356.6h4M548.9 359.8h4M558.3 355.7V359.1M556.3 355.7h4M556.3 359.1h4M565.8 354.9V358.6M563.8 354.9h4M563.8 358.6h4M573.3 353.8V357.7M571.3 353.8h4M571.3 357.7h4M580.7 353.0V357.1M578.7 353.0h4M578.7 357.1h4M588.2 352.0V356.4M586.2 352.0h4M586.2 356.4h4M595.6 351.1V355.7M593.6 351.1h4M593.6 355.7h4M603.1 350.4V355.3M601.1 350.4h4M601.1 355.3h4M610.6 349.6V354.7M608.6 349.6h4M608.6 354.7h4M618.0 348.7V354.0M616.0 348.7h4M616.0 354.0h4M625.5 347.9V353.5M623.5 347.9h4M623.5 353.5h4M632.9 347.1V352.9M630.9 347.1h4M630.9 352.9h4M640.4 346.3V352.4M638.4 346.3h4M638.4 352.4h4" stroke="#f3a6ab" stroke-width="1.1" fill="none"/>
<polyline points="491.2,366.1 498.7,365.4 506.1,364.8 513.6,363.8 521.0,362.1 528.5,361.1 536.0,360.1 543.4,359.1 550.9,358.2 558.3,357.4 565.8,356.7 573.3,355.7 580.7,355.1 588.2,354.2 595.6,353.4 603.1,352.8 610.6,352.2 618.0,351.4 625.5,350.7 632.9,350.0 640.4,349.4" fill="none" stroke="#ea6670" stroke-width="1"/>
<rect x="489.1" y="364.0" width="4.1" height="4.1" fill="#ea6670" />
<rect x="496.6" y="363.4" width="4.1" height="4.1" fill="#ea6670" />
<rect x="504.1" y="362.7" width="4.1" height="4.1" fill="#ea6670" />
<rect x="511.5" y="361.7" width="4.1" height="4.1" fill="#ea6670" />
<rect x="519.0" y="360.0" width="4.1" height="4.1" fill="#ea6670" />
<rect x="526.4" y="359.0" width="4.1" height="4.1" fill="#ea6670" />
<rect x="533.9" y="358.0" width="4.1" height="4.1" fill="#ea6670" />
<rect x="541.4" y="357.0" width="4.1" height="4.1" fill="#ea6670" />
<rect x="548.8" y="356.1" width="4.1" height="4.1" fill="#ea6670" />
<rect x="556.3" y="355.3" width="4.1" height="4.1" fill="#ea6670" />
<rect x="563.7" y="354.7" width="4.1" height="4.1" fill="#ea6670" />
<rect x="571.2" y="353.7" width="4.1" height="4.1" fill="#ea6670" />
<rect x="578.7" y="353.0" width="4.1" height="4.1" fill="#ea6670" />
<rect x="586.1" y="352.1" width="4.1" height="4.1" fill="#ea6670" />
<rect x="593.6" y="351.3" width="4.1" height="4.1" fill="#ea6670" />
<rect x="601.0" y="350.8" width="4.1" height="4.1" fill="#ea6670" />
<rect x="608.5" y="350.1" width="4.1" height="4.1" fill="#ea6670" />
<rect x="616.0" y="349.3" width="4.1" height="4.1" fill="#ea6670" />
<rect x="623.4" y="348.6" width="4.1" height="4.1" fill="#ea6670" />
<rect x="630.9" y="348.0" width="4.1" height="4.1" fill="#ea6670" />
<rect x="638.3" y="347.3" width="4.1" height="4.1" fill="#ea6670" />
<path d="M498.7 359.7V365.1M496.7 359.7h4M496.7 365.1h4M506.1 356.1V362.8M504.1 356.1h4M504.1 362.8h4M513.6 352.4V360.4M511.6 352.4h4M511.6 360.4h4M521.0 348.7V358.1M519.0 348.7h4M519.0 358.1h4M528.5 345.0V355.7M526.5 345.0h4M526.5 355.7h4M536.0 341.7V353.0M534.0 341.7h4M534.0 353.0h4M543.4 338.3V350.4M541.4 338.3h4M541.4 350.4h4M550.9 335.0V347.7M548.9 335.0h4M548.9 347.7h4M558.3 331.6V345.0M556.3 331.6h4M556.3 345.0h4M565.8 328.6V342.0M563.8 328.6h4M563.8 342.0h4M573.3 325.6V339.0M571.3 325.6h4M571.3 339.0h4M580.7 322.6V336.0M578.7 322.6h4M578.7 336.0h4M588.2 320.2V333.6M586.2 320.2h4M586.2 333.6h4M595.6 317.9V331.3M593.6 317.9h4M593.6 331.3h4M603.1 315.6V328.9M601.1 315.6h4M601.1 328.9h4M610.6 313.5V326.3M608.6 313.5h4M608.6 326.3h4M618.0 311.5V323.6M616.0 311.5h4M616.0 323.6h4M625.5 309.5V321.6M623.5 309.5h4M623.5 321.6h4M632.9 306.5V319.9M630.9 306.5h4M630.9 319.9h4M640.4 304.2V316.2M638.4 304.2h4M638.4 316.2h4" stroke="#4a9270" stroke-width="1.1" fill="none"/>
<polyline points="491.2,366.1 498.7,362.4 506.1,359.4 513.6,356.4 521.0,353.4 528.5,350.4 536.0,347.4 543.4,344.3 550.9,341.3 558.3,338.3 565.8,335.3 573.3,332.3 580.7,329.3 588.2,326.9 595.6,324.6 603.1,322.2 610.6,319.9 618.0,317.6 625.5,315.6 632.9,313.2 640.4,310.2" fill="none" stroke="#2c7d55" stroke-width="1"/>
<circle cx="491.2" cy="366.1" r="2.48" fill="#2c7d55" />
<circle cx="498.7" cy="362.4" r="2.48" fill="#2c7d55" />
<circle cx="506.1" cy="359.4" r="2.48" fill="#2c7d55" />
<circle cx="513.6" cy="356.4" r="2.48" fill="#2c7d55" />
<circle cx="521.0" cy="353.4" r="2.48" fill="#2c7d55" />
<circle cx="528.5" cy="350.4" r="2.48" fill="#2c7d55" />
<circle cx="536.0" cy="347.4" r="2.48" fill="#2c7d55" />
<circle cx="543.4" cy="344.3" r="2.48" fill="#2c7d55" />
<circle cx="550.9" cy="341.3" r="2.48" fill="#2c7d55" />
<circle cx="558.3" cy="338.3" r="2.48" fill="#2c7d55" />
<circle cx="565.8" cy="335.3" r="2.48" fill="#2c7d55" />
<circle cx="573.3" cy="332.3" r="2.48" fill="#2c7d55" />
<circle cx="580.7" cy="329.3" r="2.48" fill="#2c7d55" />
<circle cx="588.2" cy="326.9" r="2.48" fill="#2c7d55" />
<circle cx="595.6" cy="324.6" r="2.48" fill="#2c7d55" />
<circle cx="603.1" cy="322.2" r="2.48" fill="#2c7d55" />
<circle cx="610.6" cy="319.9" r="2.48" fill="#2c7d55" />
<circle cx="618.0" cy="317.6" r="2.48" fill="#2c7d55" />
<circle cx="625.5" cy="315.6" r="2.48" fill="#2c7d55" />
<circle cx="632.9" cy="313.2" r="2.48" fill="#2c7d55" />
<circle cx="640.4" cy="310.2" r="2.48" fill="#2c7d55" />
<path d="M498.7 359.1V365.1M496.7 359.1h4M496.7 365.1h4M506.1 355.4V362.8M504.1 355.4h4M504.1 362.8h4M513.6 351.7V360.4M511.6 351.7h4M511.6 360.4h4M521.0 348.4V357.7M519.0 348.4h4M519.0 357.7h4M528.5 345.0V355.1M526.5 345.0h4M526.5 355.1h4M536.0 341.7V352.4M534.0 341.7h4M534.0 352.4h4M543.4 338.3V349.7M541.4 338.3h4M541.4 349.7h4M550.9 335.3V346.7M548.9 335.3h4M548.9 346.7h4M558.3 332.0V344.0M556.3 332.0h4M556.3 344.0h4M565.8 328.6V340.7M563.8 328.6h4M563.8 340.7h4M573.3 325.6V337.0M571.3 325.6h4M571.3 337.0h4M580.7 321.9V333.3M578.7 321.9h4M578.7 333.3h4M588.2 318.6V329.3M586.2 318.6h4M586.2 329.3h4M595.6 314.9V325.6M593.6 314.9h4M593.6 325.6h4M603.1 311.5V321.6M601.1 311.5h4M601.1 321.6h4M610.6 307.9V317.2M608.6 307.9h4M608.6 317.2h4M618.0 303.8V313.2M616.0 303.8h4M616.0 313.2h4M625.5 300.2V308.9M623.5 300.2h4M623.5 308.9h4M632.9 296.5V304.5M630.9 296.5h4M630.9 304.5h4M640.4 292.5V300.5M638.4 292.5h4M638.4 300.5h4" stroke="#3f7499" stroke-width="1.1" fill="none"/>
<polyline points="491.2,366.1 498.7,362.1 506.1,359.1 513.6,356.1 521.0,353.0 528.5,350.0 536.0,347.0 543.4,344.0 550.9,341.0 558.3,338.0 565.8,334.6 573.3,331.3 580.7,327.6 588.2,323.9 595.6,320.2 603.1,316.6 610.6,312.5 618.0,308.5 625.5,304.5 632.9,300.5 640.4,296.5" fill="none" stroke="#2b6088" stroke-width="1"/>
<path d="M491.2 363.0L494.2 368.3H488.2Z" fill="#2b6088"/>
<path d="M498.7 359.0L501.7 364.2H495.6Z" fill="#2b6088"/>
<path d="M506.1 355.9L509.1 361.2H503.1Z" fill="#2b6088"/>
<path d="M513.6 352.9L516.6 358.2H510.6Z" fill="#2b6088"/>
<path d="M521.0 349.9L524.1 355.2H518.0Z" fill="#2b6088"/>
<path d="M528.5 346.9L531.5 352.2H525.5Z" fill="#2b6088"/>
<path d="M536.0 343.9L539.0 349.2H532.9Z" fill="#2b6088"/>
<path d="M543.4 340.9L546.4 346.2H540.4Z" fill="#2b6088"/>
<path d="M550.9 337.9L553.9 343.2H547.9Z" fill="#2b6088"/>
<path d="M558.3 334.8L561.4 340.1H555.3Z" fill="#2b6088"/>
<path d="M565.8 331.5L568.8 336.8H562.8Z" fill="#2b6088"/>
<path d="M573.3 328.2L576.3 333.4H570.2Z" fill="#2b6088"/>
<path d="M580.7 324.5L583.7 329.8H577.7Z" fill="#2b6088"/>
<path d="M588.2 320.8L591.2 326.1H585.2Z" fill="#2b6088"/>
<path d="M595.6 317.1L598.7 322.4H592.6Z" fill="#2b6088"/>
<path d="M603.1 313.4L606.1 318.7H600.1Z" fill="#2b6088"/>
<path d="M610.6 309.4L613.6 314.7H607.5Z" fill="#2b6088"/>
<path d="M618.0 305.4L621.0 310.7H615.0Z" fill="#2b6088"/>
<path d="M625.5 301.4L628.5 306.7H622.5Z" fill="#2b6088"/>
<path d="M632.9 297.4L636.0 302.6H629.9Z" fill="#2b6088"/>
<path d="M640.4 293.3L643.4 298.6H637.4Z" fill="#2b6088"/>
<rect x="491.2" y="232.2" width="164.7" height="133.9" fill="none" stroke="#1e1e1e" stroke-width="1.2" />
<path d="M487.6 366.1H491.2M487.6 332.6H491.2M487.6 299.1H491.2M487.6 265.7H491.2M487.6 232.2H491.2M491.2 366.1v3.6M521.0 366.1v3.6M550.9 366.1v3.6M580.7 366.1v3.6M610.6 366.1v3.6M640.4 366.1v3.6" stroke="#2a2a2a" stroke-width="1" fill="none"/>
<text x="483.8" y="369.6" font-size="9.8" text-anchor="end" textLength="6.0" lengthAdjust="spacingAndGlyphs" fill="#1a1a1a">0</text>
<text x="483.8" y="336.1" font-size="9.8" text-anchor="end" textLength="6.0" lengthAdjust="spacingAndGlyphs" fill="#1a1a1a">5</text>
<text x="483.8" y="302.6" font-size="9.8" text-anchor="end" textLength="12.0" lengthAdjust="spacingAndGlyphs" fill="#1a1a1a">10</text>
<text x="483.8" y="269.2" font-size="9.8" text-anchor="end" textLength="12.0" lengthAdjust="spacingAndGlyphs" fill="#1a1a1a">15</text>
<text x="483.8" y="235.7" font-size="9.8" text-anchor="end" textLength="12.0" lengthAdjust="spacingAndGlyphs" fill="#1a1a1a">20</text>
<text x="491.2" y="380.9" font-size="9.8" text-anchor="middle" textLength="6.0" lengthAdjust="spacingAndGlyphs" fill="#1a1a1a">0</text>
<text x="521.0" y="380.9" font-size="9.8" text-anchor="middle" textLength="15.0" lengthAdjust="spacingAndGlyphs" fill="#1a1a1a">0.2</text>
<text x="550.9" y="380.9" font-size="9.8" text-anchor="middle" textLength="15.0" lengthAdjust="spacingAndGlyphs" fill="#1a1a1a">0.4</text>
<text x="580.7" y="380.9" font-size="9.8" text-anchor="middle" textLength="15.0" lengthAdjust="spacingAndGlyphs" fill="#1a1a1a">0.6</text>
<text x="610.6" y="380.9" font-size="9.8" text-anchor="middle" textLength="15.0" lengthAdjust="spacingAndGlyphs" fill="#1a1a1a">0.8</text>
<text x="640.4" y="380.9" font-size="9.8" text-anchor="middle" textLength="15.0" lengthAdjust="spacingAndGlyphs" fill="#1a1a1a">1.0</text>
<text x="572.8" y="396.3" font-size="10.3" text-anchor="middle" textLength="25.9" lengthAdjust="spacingAndGlyphs" fill="#1a1a1a">&#916;<tspan font-style="italic">t</tspan> (s)</text>
<text fill="#1a1a1a" font-size="10.3" text-anchor="middle" textLength="53" lengthAdjust="spacingAndGlyphs" transform="translate(461.9 300.1) rotate(-90)">MSD (&#181;m<tspan dy="-3.5" font-size="6.5">2</tspan><tspan dy="3.5">)</tspan></text>
<line x1="505.0" y1="244.2" x2="524.0" y2="244.2" stroke="#ea6670" stroke-width="1" />
<rect x="512.7" y="242.4" width="3.6" height="3.6" fill="#ea6670" />
<text x="529.3" y="247.3" font-size="9.0" textLength="16.5" lengthAdjust="spacingAndGlyphs" fill="#1a1a1a">PBS</text>
<line x1="505.0" y1="254.9" x2="524.0" y2="254.9" stroke="#2c7d55" stroke-width="1" />
<circle cx="514.5" cy="254.9" r="2.18" fill="#2c7d55" />
<text x="529.3" y="258.1" font-size="9.0" textLength="27.5" lengthAdjust="spacingAndGlyphs" fill="#1a1a1a">Serum</text>
<line x1="505.0" y1="265.7" x2="524.0" y2="265.7" stroke="#2f6690" stroke-width="1" />
<path d="M514.5 262.9L517.2 267.6H511.8Z" fill="#2f6690"/>
<text x="529.3" y="268.8" font-size="9.0" textLength="22.5" lengthAdjust="spacingAndGlyphs" fill="#1a1a1a">Urine</text>
</g>
<g id="panel_h">
<path d="M742.1 349.4V346.5M736.1 346.5h12" stroke="#fda4a8" stroke-width="1" fill="none"/>
<rect x="729.3" y="349.4" width="25.6" height="16.6" fill="#fda4a8" />
<path d="M796.6 310.3V304.5M790.6 304.5h12" stroke="#fc8185" stroke-width="1" fill="none"/>
<rect x="784.0" y="310.3" width="25.3" height="55.7" fill="#fc8185" />
<path d="M851.0 296.4V292.1M845.0 292.1h12" stroke="#6399c3" stroke-width="1" fill="none"/>
<rect x="838.1" y="296.4" width="25.9" height="69.6" fill="#6399c3" />
<rect x="713.9" y="232.2" width="165.0" height="133.8" fill="none" stroke="#1e1e1e" stroke-width="1.2" />
<line x1="713.4" y1="366.0" x2="879.4" y2="366.0" stroke="#111" stroke-width="1.5" />
<path d="M710.3 366.0H713.9M710.3 339.2H713.9M710.3 312.5H713.9M710.3 285.7H713.9M710.3 259.0H713.9M710.3 232.2H713.9M742.1 366.0v3.8M796.6 366.0v3.8M851.0 366.0v3.8" stroke="#2a2a2a" stroke-width="1" fill="none"/>
<text x="705.0" y="369.3" font-size="9.3" text-anchor="end" textLength="5.6" lengthAdjust="spacingAndGlyphs" fill="#1a1a1a">0</text>
<text x="705.0" y="342.5" font-size="9.3" text-anchor="end" textLength="5.6" lengthAdjust="spacingAndGlyphs" fill="#1a1a1a">1</text>
<text x="705.0" y="315.8" font-size="9.3" text-anchor="end" textLength="5.6" lengthAdjust="spacingAndGlyphs" fill="#1a1a1a">2</text>
<text x="705.0" y="289.0" font-size="9.3" text-anchor="end" textLength="5.6" lengthAdjust="spacingAndGlyphs" fill="#1a1a1a">3</text>
<text x="705.0" y="262.3" font-size="9.3" text-anchor="end" textLength="5.6" lengthAdjust="spacingAndGlyphs" fill="#1a1a1a">4</text>
<text x="705.0" y="235.5" font-size="9.3" text-anchor="end" textLength="5.6" lengthAdjust="spacingAndGlyphs" fill="#1a1a1a">5</text>
<text x="742.0" y="381.8" font-size="9.0" text-anchor="middle" textLength="16.5" lengthAdjust="spacingAndGlyphs" fill="#1a1a1a">PBS</text>
<text x="798.9" y="381.8" font-size="9.0" text-anchor="middle" textLength="27.8" lengthAdjust="spacingAndGlyphs" fill="#1a1a1a">Serum</text>
<text x="850.5" y="381.8" font-size="9.0" text-anchor="middle" textLength="22.8" lengthAdjust="spacingAndGlyphs" fill="#1a1a1a">Urine</text>
<text fill="#1a1a1a" font-size="10.3" text-anchor="middle" textLength="62" lengthAdjust="spacingAndGlyphs" transform="translate(687.4 300.1) rotate(-90)"><tspan font-style="italic">D</tspan><tspan dy="2" font-size="6.5">eff</tspan><tspan dy="-2"> (&#181;m</tspan><tspan dy="-3.5" font-size="6.5">2</tspan><tspan dy="3.5"> s</tspan><tspan dy="-3.5" font-size="6.5">&#8722;1</tspan><tspan dy="3.5">)</tspan></text>
</g>
<g id="panel_k">
<rect x="498.9" y="568.6" width="18.2" height="2.2" fill="#fc8185" />
<rect x="520.2" y="569.0" width="18.4" height="1.8" fill="#6399c3" />
<rect x="554.1" y="498.3" width="18.2" height="72.5" fill="#fc8185" />
<rect x="575.1" y="553.8" width="18.2" height="17.0" fill="#6399c3" />
<rect x="609.0" y="468.7" width="18.2" height="102.1" fill="#fc8185" />
<rect x="630.0" y="551.0" width="18.5" height="19.8" fill="#6399c3" />
<path d="M508.0 567.8V569.3M505.6 567.8h4.8M505.6 569.3h4.8" stroke="#f5535c" stroke-width="1.1" fill="none"/>
<circle cx="508.0" cy="569.3" r="2.60" fill="#f2202c" />
<circle cx="508.0" cy="568.6" r="2.60" fill="#f2202c" />
<circle cx="508.0" cy="567.8" r="2.60" fill="#f2202c" />
<path d="M529.4 567.5V569.7M527.0 567.5h4.8M527.0 569.7h4.8" stroke="#1d5780" stroke-width="1.1" fill="none"/>
<path d="M529.4 566.8L532.3 571.9H526.5Z" fill="#1d5780"/>
<path d="M529.4 565.7L532.3 570.8H526.5Z" fill="#1d5780"/>
<path d="M529.4 564.6L532.3 569.7H526.5Z" fill="#1d5780"/>
<path d="M563.2 492.4V506.8M560.8 492.4h4.8M560.8 506.8h4.8" stroke="#f5535c" stroke-width="1.1" fill="none"/>
<circle cx="563.2" cy="492.4" r="2.60" fill="#f2202c" />
<circle cx="563.2" cy="496.1" r="2.60" fill="#f2202c" />
<circle cx="563.2" cy="506.8" r="2.60" fill="#f2202c" />
<path d="M584.2 550.8V556.7M581.8 550.8h4.8M581.8 556.7h4.8" stroke="#1d5780" stroke-width="1.1" fill="none"/>
<path d="M584.2 547.9L587.1 553.0H581.3Z" fill="#1d5780"/>
<path d="M584.2 550.9L587.1 556.0H581.3Z" fill="#1d5780"/>
<path d="M584.2 553.8L587.1 558.9H581.3Z" fill="#1d5780"/>
<path d="M618.2 456.7V480.8M615.8 456.7h4.8M615.8 480.8h4.8" stroke="#f5535c" stroke-width="1.1" fill="none"/>
<circle cx="618.2" cy="456.7" r="2.60" fill="#f2202c" />
<circle cx="618.2" cy="469.3" r="2.60" fill="#f2202c" />
<circle cx="618.2" cy="480.8" r="2.60" fill="#f2202c" />
<path d="M639.2 545.3V555.1M636.8 545.3h4.8M636.8 555.1h4.8" stroke="#1d5780" stroke-width="1.1" fill="none"/>
<path d="M639.2 542.4L642.1 547.5H636.3Z" fill="#1d5780"/>
<path d="M639.2 548.3L642.1 553.4H636.3Z" fill="#1d5780"/>
<path d="M639.2 552.2L642.1 557.3H636.3Z" fill="#1d5780"/>
<rect x="490.6" y="422.9" width="165.5" height="147.9" fill="none" stroke="#1e1e1e" stroke-width="1.2" />
<line x1="490.1" y1="570.8" x2="656.6" y2="570.8" stroke="#111" stroke-width="1.5" />
<path d="M487.0 570.8H490.6M487.0 533.8H490.6M487.0 496.8H490.6M487.0 459.9H490.6M487.0 422.9H490.6M518.4 570.8v3.8M573.3 570.8v3.8M628.2 570.8v3.8" stroke="#2a2a2a" stroke-width="1" fill="none"/>
<text x="484.0" y="574.1" font-size="9.3" text-anchor="end" textLength="5.6" lengthAdjust="spacingAndGlyphs" fill="#1a1a1a">0</text>
<text x="484.0" y="537.1" font-size="9.3" text-anchor="end" textLength="14.0" lengthAdjust="spacingAndGlyphs" fill="#1a1a1a">0.2</text>
<text x="484.0" y="500.1" font-size="9.3" text-anchor="end" textLength="14.0" lengthAdjust="spacingAndGlyphs" fill="#1a1a1a">0.4</text>
<text x="484.0" y="463.2" font-size="9.3" text-anchor="end" textLength="14.0" lengthAdjust="spacingAndGlyphs" fill="#1a1a1a">0.6</text>
<text x="484.0" y="426.2" font-size="9.3" text-anchor="end" textLength="14.0" lengthAdjust="spacingAndGlyphs" fill="#1a1a1a">0.8</text>
<text x="518.4" y="587.0" font-size="9.3" text-anchor="middle" textLength="5.6" lengthAdjust="spacingAndGlyphs" fill="#1a1a1a">0</text>
<text x="573.3" y="587.0" font-size="9.3" text-anchor="middle" textLength="11.2" lengthAdjust="spacingAndGlyphs" fill="#1a1a1a">60</text>
<text x="628.2" y="587.0" font-size="9.3" text-anchor="middle" textLength="11.2" lengthAdjust="spacingAndGlyphs" fill="#1a1a1a">90</text>
<text x="573.5" y="602.5" font-size="10.3" text-anchor="middle" textLength="51.5" lengthAdjust="spacingAndGlyphs" fill="#1a1a1a">Time (min)</text>
<text fill="#1a1a1a" font-size="10.3" text-anchor="middle" textLength="95" lengthAdjust="spacingAndGlyphs" transform="translate(458.5 497.5) rotate(-90)">Concentration (OD)</text>
<rect x="495.1" y="434.2" width="10.4" height="10.2" fill="#fc8185" />
<text x="509.3" y="442.8" font-size="9.0" textLength="22.0" lengthAdjust="spacingAndGlyphs" fill="#1a1a1a">CBRs</text>
<rect x="495.1" y="453.7" width="10.4" height="10.2" fill="#6399c3" />
<text x="509.3" y="462.0" font-size="9.0" textLength="34.5" lengthAdjust="spacingAndGlyphs" fill="#1a1a1a">Bubbles</text>
<text x="573.4" y="478.6" font-size="8.8" text-anchor="middle" textLength="51.0" lengthAdjust="spacingAndGlyphs" fill="#222"><tspan font-size="7" dy="-1.2">**</tspan><tspan dy="1.2" font-style="italic">P</tspan> = 0.0083</text>
<line x1="563.3" y1="484.7" x2="583.4" y2="484.7" stroke="#555" stroke-width="1.2" />
<text x="626.2" y="441.3" font-size="8.8" text-anchor="middle" textLength="52.5" lengthAdjust="spacingAndGlyphs" fill="#222"><tspan font-size="7" dy="-1.2">**</tspan><tspan dy="1.2" font-style="italic">P</tspan> = 0.0025</text>
<line x1="618.3" y1="447.4" x2="638.2" y2="447.4" stroke="#222" stroke-width="1.2" />
</g>
<g id="panel_n">
<rect x="499.4" y="772.8" width="18.3" height="3.0" fill="#fc8185" />
<rect x="520.4" y="772.8" width="18.3" height="3.0" fill="#6399c3" />
<rect x="554.3" y="694.0" width="18.4" height="81.8" fill="#fc8185" />
<rect x="575.3" y="749.2" width="18.3" height="26.6" fill="#6399c3" />
<rect x="609.3" y="669.9" width="18.3" height="105.9" fill="#fc8185" />
<rect x="630.2" y="743.3" width="18.4" height="32.5" fill="#6399c3" />
<path d="M508.6 771.9V773.8M506.2 771.9h4.8M506.2 773.8h4.8" stroke="#f5535c" stroke-width="1.1" fill="none"/>
<circle cx="508.6" cy="773.8" r="2.60" fill="#f2202c" />
<circle cx="508.6" cy="772.8" r="2.60" fill="#f2202c" />
<circle cx="508.6" cy="771.9" r="2.60" fill="#f2202c" />
<path d="M529.6 771.2V774.5M527.2 771.2h4.8M527.2 774.5h4.8" stroke="#1d5780" stroke-width="1.1" fill="none"/>
<path d="M529.6 771.6L532.5 776.7H526.7Z" fill="#1d5780"/>
<path d="M529.6 769.9L532.5 775.0H526.7Z" fill="#1d5780"/>
<path d="M529.6 768.3L532.5 773.4H526.7Z" fill="#1d5780"/>
<path d="M563.5 679.5V708.8M561.1 679.5h4.8M561.1 708.8h4.8" stroke="#f5535c" stroke-width="1.1" fill="none"/>
<circle cx="563.5" cy="679.5" r="2.60" fill="#f2202c" />
<circle cx="563.5" cy="694.7" r="2.60" fill="#f2202c" />
<circle cx="563.5" cy="708.8" r="2.60" fill="#f2202c" />
<path d="M584.5 745.6V754.8M582.1 745.6h4.8M582.1 754.8h4.8" stroke="#1d5780" stroke-width="1.1" fill="none"/>
<path d="M584.5 742.7L587.4 747.8H581.6Z" fill="#1d5780"/>
<path d="M584.5 745.0L587.4 750.1H581.6Z" fill="#1d5780"/>
<path d="M584.5 751.9L587.4 757.0H581.6Z" fill="#1d5780"/>
<path d="M618.5 658.5V679.5M616.1 658.5h4.8M616.1 679.5h4.8" stroke="#f5535c" stroke-width="1.1" fill="none"/>
<circle cx="618.5" cy="658.5" r="2.60" fill="#f2202c" />
<circle cx="618.5" cy="671.7" r="2.60" fill="#f2202c" />
<circle cx="618.5" cy="679.5" r="2.60" fill="#f2202c" />
<path d="M639.4 737.7V748.2M637.0 737.7h4.8M637.0 748.2h4.8" stroke="#1d5780" stroke-width="1.1" fill="none"/>
<path d="M639.4 734.8L642.3 739.9H636.5Z" fill="#1d5780"/>
<path d="M639.4 740.4L642.3 745.5H636.5Z" fill="#1d5780"/>
<path d="M639.4 745.3L642.3 750.4H636.5Z" fill="#1d5780"/>
<rect x="492.0" y="628.3" width="164.5" height="147.5" fill="none" stroke="#1e1e1e" stroke-width="1.2" />
<line x1="491.5" y1="775.8" x2="657.0" y2="775.8" stroke="#111" stroke-width="1.5" />
<path d="M488.4 775.8H492.0M488.4 742.9H492.0M488.4 710.1H492.0M488.4 677.2H492.0M488.4 644.4H492.0M518.8 775.8v3.8M573.7 775.8v3.8M628.7 775.8v3.8" stroke="#2a2a2a" stroke-width="1" fill="none"/>
<text x="485.3" y="779.1" font-size="9.3" text-anchor="end" textLength="5.6" lengthAdjust="spacingAndGlyphs" fill="#1a1a1a">0</text>
<text x="485.3" y="746.2" font-size="9.3" text-anchor="end" textLength="14.0" lengthAdjust="spacingAndGlyphs" fill="#1a1a1a">0.1</text>
<text x="485.3" y="713.4" font-size="9.3" text-anchor="end" textLength="14.0" lengthAdjust="spacingAndGlyphs" fill="#1a1a1a">0.2</text>
<text x="485.3" y="680.5" font-size="9.3" text-anchor="end" textLength="14.0" lengthAdjust="spacingAndGlyphs" fill="#1a1a1a">0.3</text>
<text x="485.3" y="647.7" font-size="9.3" text-anchor="end" textLength="14.0" lengthAdjust="spacingAndGlyphs" fill="#1a1a1a">0.4</text>
<text x="518.8" y="790.5" font-size="9.3" text-anchor="middle" textLength="5.6" lengthAdjust="spacingAndGlyphs" fill="#1a1a1a">0</text>
<text x="573.7" y="790.5" font-size="9.3" text-anchor="middle" textLength="11.2" lengthAdjust="spacingAndGlyphs" fill="#1a1a1a">60</text>
<text x="628.7" y="790.5" font-size="9.3" text-anchor="middle" textLength="11.2" lengthAdjust="spacingAndGlyphs" fill="#1a1a1a">90</text>
<text x="573.5" y="806.3" font-size="10.3" text-anchor="middle" textLength="51.5" lengthAdjust="spacingAndGlyphs" fill="#1a1a1a">Time (min)</text>
<text fill="#1a1a1a" font-size="10.3" text-anchor="middle" textLength="95" lengthAdjust="spacingAndGlyphs" transform="translate(458.5 702) rotate(-90)">Concentration (OD)</text>
<rect x="495.2" y="635.3" width="10.0" height="9.8" fill="#fc8185" />
<text x="508.4" y="643.0" font-size="9.0" textLength="52.5" lengthAdjust="spacingAndGlyphs" fill="#1a1a1a">Cancer cells</text>
<rect x="495.2" y="653.0" width="10.0" height="9.8" fill="#6399c3" />
<text x="508.4" y="661.0" font-size="9.0" textLength="23.5" lengthAdjust="spacingAndGlyphs" fill="#1a1a1a">Blank</text>
<text x="573.4" y="666.8" font-size="8.8" text-anchor="middle" textLength="45.0" lengthAdjust="spacingAndGlyphs" fill="#222"><tspan font-size="7" dy="-1.2">*</tspan><tspan dy="1.2" font-style="italic">P</tspan> = 0.0112</text>
<line x1="563.3" y1="672.1" x2="583.4" y2="672.1" stroke="#333" stroke-width="1.2" />
<text x="627.4" y="644.7" font-size="8.8" text-anchor="middle" textLength="53.3" lengthAdjust="spacingAndGlyphs" fill="#222"><tspan font-size="7" dy="-1.2">**</tspan><tspan dy="1.2" font-style="italic">P</tspan> = 0.0068</text>
<line x1="618.4" y1="649.6" x2="638.7" y2="649.6" stroke="#222" stroke-width="1.2" />
</g>
<g id="panel_p">
<rect x="718.2" y="663.5" width="10.7" height="112.3" fill="#fc8185" />
<rect x="751.0" y="662.1" width="10.7" height="113.7" fill="#fc8185" />
<rect x="784.0" y="662.9" width="10.7" height="112.9" fill="#fc8185" />
<rect x="816.8" y="662.1" width="10.9" height="113.7" fill="#fc8185" />
<rect x="849.4" y="665.4" width="11.1" height="110.4" fill="#fc8185" />
<rect x="730.9" y="666.2" width="10.9" height="109.6" fill="#6399c3" />
<rect x="763.9" y="663.9" width="11.0" height="111.9" fill="#6399c3" />
<rect x="796.7" y="662.9" width="11.2" height="112.9" fill="#6399c3" />
<rect x="829.7" y="666.2" width="11.0" height="109.6" fill="#6399c3" />
<rect x="862.7" y="667.8" width="11.0" height="108.0" fill="#6399c3" />
<path d="M723.4 656.8V669.2M721.0 656.8h4.8M721.0 669.2h4.8" stroke="#f5535c" stroke-width="1.1" fill="none"/>
<circle cx="723.4" cy="656.8" r="2.60" fill="#f2202c" />
<circle cx="723.4" cy="665.0" r="2.60" fill="#f2202c" />
<circle cx="723.4" cy="669.2" r="2.60" fill="#f2202c" />
<path d="M756.2 654.8V671.0M753.8 654.8h4.8M753.8 671.0h4.8" stroke="#f5535c" stroke-width="1.1" fill="none"/>
<circle cx="756.2" cy="654.8" r="2.60" fill="#f2202c" />
<circle cx="756.2" cy="658.1" r="2.60" fill="#f2202c" />
<circle cx="756.2" cy="671.0" r="2.60" fill="#f2202c" />
<path d="M789.0 658.9V667.0M786.6 658.9h4.8M786.6 667.0h4.8" stroke="#f5535c" stroke-width="1.1" fill="none"/>
<circle cx="789.0" cy="658.9" r="2.60" fill="#f2202c" />
<circle cx="789.0" cy="665.0" r="2.60" fill="#f2202c" />
<circle cx="789.0" cy="667.0" r="2.60" fill="#f2202c" />
<path d="M822.0 656.4V667.0M819.6 656.4h4.8M819.6 667.0h4.8" stroke="#f5535c" stroke-width="1.1" fill="none"/>
<circle cx="822.0" cy="656.4" r="2.60" fill="#f2202c" />
<circle cx="822.0" cy="665.0" r="2.60" fill="#f2202c" />
<circle cx="822.0" cy="667.0" r="2.60" fill="#f2202c" />
<path d="M854.8 656.0V672.2M852.4 656.0h4.8M852.4 672.2h4.8" stroke="#f5535c" stroke-width="1.1" fill="none"/>
<circle cx="854.8" cy="656.0" r="2.60" fill="#f2202c" />
<circle cx="854.8" cy="669.6" r="2.60" fill="#f2202c" />
<circle cx="854.8" cy="672.2" r="2.60" fill="#f2202c" />
<path d="M736.4 662.9V670.6M734.0 662.9h4.8M734.0 670.6h4.8" stroke="#1d5780" stroke-width="1.1" fill="none"/>
<path d="M736.4 660.0L739.3 665.1H733.5Z" fill="#1d5780"/>
<path d="M736.4 664.7L739.3 669.8H733.5Z" fill="#1d5780"/>
<path d="M736.4 667.7L739.3 672.8H733.5Z" fill="#1d5780"/>
<path d="M769.4 660.5V670.6M767.0 660.5h4.8M767.0 670.6h4.8" stroke="#1d5780" stroke-width="1.1" fill="none"/>
<path d="M769.4 657.6L772.3 662.7H766.5Z" fill="#1d5780"/>
<path d="M769.4 662.5L772.3 667.6H766.5Z" fill="#1d5780"/>
<path d="M769.4 667.7L772.3 672.8H766.5Z" fill="#1d5780"/>
<path d="M802.4 653.0V670.6M800.0 653.0h4.8M800.0 670.6h4.8" stroke="#1d5780" stroke-width="1.1" fill="none"/>
<path d="M802.4 650.1L805.3 655.2H799.5Z" fill="#1d5780"/>
<path d="M802.4 661.1L805.3 666.2H799.5Z" fill="#1d5780"/>
<path d="M802.4 667.7L805.3 672.8H799.5Z" fill="#1d5780"/>
<path d="M835.2 658.5V670.6M832.8 658.5h4.8M832.8 670.6h4.8" stroke="#1d5780" stroke-width="1.1" fill="none"/>
<path d="M835.2 655.6L838.1 660.7H832.3Z" fill="#1d5780"/>
<path d="M835.2 665.2L838.1 670.3H832.3Z" fill="#1d5780"/>
<path d="M835.2 667.7L838.1 672.8H832.3Z" fill="#1d5780"/>
<path d="M868.2 662.5V672.2M865.8 662.5h4.8M865.8 672.2h4.8" stroke="#1d5780" stroke-width="1.1" fill="none"/>
<path d="M868.2 659.6L871.1 664.7H865.3Z" fill="#1d5780"/>
<path d="M868.2 665.2L871.1 670.3H865.3Z" fill="#1d5780"/>
<path d="M868.2 669.3L871.1 674.4H865.3Z" fill="#1d5780"/>
<rect x="713.1" y="628.3" width="165.1" height="147.5" fill="none" stroke="#1e1e1e" stroke-width="1.2" />
<line x1="712.6" y1="775.8" x2="878.7" y2="775.8" stroke="#111" stroke-width="1.5" />
<path d="M709.5 775.8H713.1M709.5 718.9H713.1M709.5 662.0H713.1M729.8 775.8v3.8M762.7 775.8v3.8M795.4 775.8v3.8M828.3 775.8v3.8M861.2 775.8v3.8" stroke="#2a2a2a" stroke-width="1" fill="none"/>
<text x="706.5" y="779.1" font-size="9.3" text-anchor="end" textLength="5.6" lengthAdjust="spacingAndGlyphs" fill="#1a1a1a">0</text>
<text x="706.5" y="722.2" font-size="9.3" text-anchor="end" textLength="11.2" lengthAdjust="spacingAndGlyphs" fill="#1a1a1a">50</text>
<text x="706.5" y="665.3" font-size="9.3" text-anchor="end" textLength="16.8" lengthAdjust="spacingAndGlyphs" fill="#1a1a1a">100</text>
<text x="729.8" y="790.5" font-size="9.3" text-anchor="middle" textLength="14.0" lengthAdjust="spacingAndGlyphs" fill="#1a1a1a">0.2</text>
<text x="762.7" y="790.5" font-size="9.3" text-anchor="middle" textLength="14.0" lengthAdjust="spacingAndGlyphs" fill="#1a1a1a">0.5</text>
<text x="795.4" y="790.5" font-size="9.3" text-anchor="middle" textLength="14.0" lengthAdjust="spacingAndGlyphs" fill="#1a1a1a">1.0</text>
<text x="828.3" y="790.5" font-size="9.3" text-anchor="middle" textLength="14.0" lengthAdjust="spacingAndGlyphs" fill="#1a1a1a">1.5</text>
<text x="861.2" y="790.5" font-size="9.3" text-anchor="middle" textLength="14.0" lengthAdjust="spacingAndGlyphs" fill="#1a1a1a">2.0</text>
<text x="799.0" y="806.3" font-size="10.3" text-anchor="middle" textLength="98.7" lengthAdjust="spacingAndGlyphs" fill="#1a1a1a">Concentration (OD)</text>
<text fill="#1a1a1a" font-size="10.3" text-anchor="middle" textLength="58" lengthAdjust="spacingAndGlyphs" transform="translate(678.5 702) rotate(-90)">Viability (%)</text>
<rect x="794.1" y="634.6" width="9.8" height="10.1" fill="#fc8185" />
<text x="808.3" y="641.9" font-size="8.8" textLength="17.6" lengthAdjust="spacingAndGlyphs" fill="#1a1a1a">24 h</text>
<rect x="842.1" y="634.6" width="9.8" height="10.1" fill="#6399c3" />
<text x="855.8" y="641.9" font-size="8.8" textLength="17.6" lengthAdjust="spacingAndGlyphs" fill="#1a1a1a">48 h</text>
</g>
<g id="panel_a"><use href="#ca" transform="translate(148.0 86.3) scale(0.72)"/><use href="#ur" transform="translate(118.7 130.9) scale(0.72)"/><circle cx="118.7" cy="98.1" r="26.4" fill="url(#gsph)" stroke="url(#gring)" stroke-width="5.4"/><circle cx="118.7" cy="98.1" r="29.1" fill="none" stroke="#6d9fc6" stroke-width="0.5"/><circle cx="118.7" cy="98.1" r="23.6" fill="none" stroke="#9a9a9a" stroke-width="0.6" opacity="0.7"/><use href="#ur" transform="translate(89.9 83.4) scale(0.72)"/><use href="#ur" transform="translate(87.6 99.8) scale(0.72)"/><use href="#ca" transform="translate(90.5 115.7) scale(0.72)"/><use href="#ur" transform="translate(119.2 65.4) scale(0.72)"/><use href="#ca" transform="translate(103.4 72.9) scale(0.72)"/><use href="#ur" transform="translate(136.2 74.0) scale(0.72)"/><use href="#ur" transform="translate(119.8 80.5) scale(0.72)"/><use href="#ca" transform="translate(101.7 89.9) scale(0.72)"/><use href="#ca" transform="translate(135.7 90.4) scale(0.72)"/><use href="#ca" transform="translate(118.4 98.7) scale(0.72)"/><use href="#ca" transform="translate(149.1 101.6) scale(0.72)"/><use href="#ur" transform="translate(102.2 107.4) scale(0.72)"/><use href="#ur" transform="translate(134.5 106.9) scale(0.72)"/><use href="#ur" transform="translate(118.7 116.2) scale(0.72)"/><use href="#ur" transform="translate(146.2 116.2) scale(0.72)"/><use href="#ca" transform="translate(104.6 124.4) scale(0.72)"/><use href="#ca" transform="translate(132.7 123.3) scale(0.72)"/><path d="M66.0 68.8L66.9 71.4L67.8 74.0L68.5 76.6L69.2 79.2L69.7 81.8L70.2 84.4L70.6 87.0L70.9 89.7L71.1 92.3L71.2 94.9L71.2 97.5L71.1 100.1L71.0 102.7L70.7 105.3L70.3 107.9L69.9 110.5L69.4 113.2L68.8 115.8L68.0 118.4L67.2 121.0L66.3 123.6L65.6 125.5L64.1 123.1L64.0 131.9L70.1 125.4L67.4 126.1L68.1 124.2L69.0 121.6L69.7 118.9L70.4 116.2L71.0 113.5L71.5 110.8L71.9 108.2L72.2 105.5L72.4 102.8L72.6 100.2L72.6 97.5L72.5 94.8L72.4 92.2L72.1 89.5L71.8 86.9L71.4 84.2L70.8 81.6L70.2 79.0L69.5 76.3L68.7 73.7L67.8 71.1L66.8 68.4Z" fill="#6a8eb0"/>
<path d="M169.6 68.4L168.6 71.1L167.7 73.7L166.9 76.3L166.2 79.0L165.6 81.6L165.0 84.2L164.6 86.9L164.2 89.5L164.0 92.2L163.8 94.8L163.8 97.5L163.8 100.2L163.9 102.8L164.1 105.5L164.4 108.2L164.8 110.8L165.3 113.5L165.9 116.2L166.6 118.9L167.4 121.6L168.2 124.2L168.9 126.1L166.2 125.4L172.3 131.9L172.2 123.1L170.7 125.5L170.0 123.6L169.1 121.0L168.3 118.4L167.6 115.8L167.0 113.2L166.4 110.5L166.0 107.9L165.7 105.3L165.4 102.7L165.2 100.1L165.2 97.5L165.2 94.9L165.3 92.3L165.5 89.7L165.8 87.0L166.2 84.4L166.7 81.8L167.2 79.2L167.9 76.6L168.6 74.0L169.5 71.4L170.4 68.8Z" fill="#6a8eb0"/>
<text x="119.2" y="44.5" font-size="10.4" text-anchor="middle" textLength="26.0" lengthAdjust="spacingAndGlyphs" fill="#1a1a1a">CBRs</text>
<text x="49.6" y="60.7" font-size="10.4" textLength="23.0" lengthAdjust="spacingAndGlyphs" fill="#1a1a1a">Urea</text>
<text fill="#1a1a1a" x="154.9" y="60.7" font-size="10.4" textLength="31.1" lengthAdjust="spacingAndGlyphs"><tspan>2H</tspan><tspan dy="2.6" font-size="6.4">2</tspan><tspan dy="-2.6" font-size="10.4">&#8203;</tspan><tspan>O</tspan><tspan dy="2.6" font-size="6.4">2</tspan><tspan dy="-2.6" font-size="10.4">&#8203;</tspan></text>
<text fill="#1a1a1a" x="32.4" y="151.9" font-size="10.4" textLength="58.2" lengthAdjust="spacingAndGlyphs"><tspan>2NH</tspan><tspan dy="2.6" font-size="6.4">3</tspan><tspan dy="-2.6" font-size="10.4">&#8203;</tspan><tspan> + CO</tspan><tspan dy="2.6" font-size="6.4">2</tspan><tspan dy="-2.6" font-size="10.4">&#8203;</tspan></text>
<text fill="#1a1a1a" x="158.9" y="151.9" font-size="10.4" textLength="51.1" lengthAdjust="spacingAndGlyphs"><tspan>2H</tspan><tspan dy="2.6" font-size="6.4">2</tspan><tspan dy="-2.6" font-size="10.4">&#8203;</tspan><tspan>O + O</tspan><tspan dy="2.6" font-size="6.4">2</tspan><tspan dy="-2.6" font-size="10.4">&#8203;</tspan></text>
<use href="#ur" transform="translate(49.9 179.7) scale(0.97)"/><use href="#ca" transform="translate(143.8 179.7) scale(0.97)"/><text x="62.5" y="185.0" font-size="10.4" textLength="34.9" lengthAdjust="spacingAndGlyphs" fill="#1a1a1a">Urease</text>
<text x="158.7" y="185.0" font-size="10.4" textLength="43.0" lengthAdjust="spacingAndGlyphs" fill="#1a1a1a">Catalase</text>
</g>
<g id="panel_i"><circle cx="45.0" cy="429.3" r="10.50" fill="#cfe2f1" stroke="#3f7fa5" stroke-width="1.0" />
<circle cx="45.0" cy="429.3" r="8.70" fill="url(#gbub)" stroke="#4c88aa" stroke-width="0.8" />
<text x="64.4" y="434.8" font-size="10.4" textLength="40.7" lengthAdjust="spacingAndGlyphs" fill="#1a1a1a">Bubbles</text>
<use href="#cbr" transform="translate(44.7 462.1) scale(0.335)"/><text x="64.4" y="466.6" font-size="10.4" textLength="25.9" lengthAdjust="spacingAndGlyphs" fill="#1a1a1a">CBRs</text>
<text x="182.7" y="422.8" font-size="10.4" text-anchor="middle" textLength="40.5" lengthAdjust="spacingAndGlyphs" fill="#1a1a1a">Agarose</text>
<text fill="#1a1a1a" x="182.7" y="436.0" font-size="10.4" text-anchor="middle" textLength="68.0" lengthAdjust="spacingAndGlyphs"><tspan>(50-&#181;M H</tspan><tspan dy="2.6" font-size="6.4">2</tspan><tspan dy="-2.6" font-size="10.4">&#8203;</tspan><tspan>O</tspan><tspan dy="2.6" font-size="6.4">2</tspan><tspan dy="-2.6" font-size="10.4">&#8203;</tspan><tspan>)</tspan></text>
<circle cx="182.7" cy="458.9" r="12.50" fill="url(#gaga)" stroke="#cf9366" stroke-width="0.9" />
<circle cx="178.3" cy="453.3" r="0.94" fill="#5c5c5c" />
<circle cx="186.4" cy="452.6" r="1.38" fill="#5c5c5c" />
<circle cx="183.3" cy="458.3" r="0.94" fill="#5c5c5c" />
<circle cx="177.1" cy="460.1" r="1.38" fill="#5c5c5c" />
<circle cx="188.3" cy="459.5" r="0.94" fill="#5c5c5c" />
<circle cx="180.2" cy="464.5" r="1.38" fill="#5c5c5c" />
<circle cx="186.4" cy="465.1" r="0.94" fill="#5c5c5c" />
<circle cx="189.6" cy="455.8" r="1.38" fill="#5c5c5c" />
<circle cx="182.1" cy="450.1" r="0.94" fill="#5c5c5c" />
<path d="M51.1 497.3L210.7 496.3L211.1 557.5L51.5 559.1Z" fill="#e0e4f1" stroke="#9a9eac" stroke-width="1"/><path d="M103.8 498.1l14.4 0l20.7 59.3l-14.4 0Z" fill="#edf0f8" opacity="0.9"/><path d="M124.5 498.1l9.6 0l20.7 59.3l-9.6 0Z" fill="#edf0f8" opacity="0.9"/><path d="M51.5 559.1L211.1 557.5L210.7 496.3" fill="none" stroke="#8e929f" stroke-width="1.6"/><rect x="103.5" y="523.0" width="53.0" height="9.4" fill="#5ab5e3" />
<circle cx="86.2" cy="530.9" r="18.20" fill="#2aa2dc" />
<circle cx="86.2" cy="525.7" r="17.80" fill="#86c9ef" stroke="#ffffff" stroke-width="1.0" />
<circle cx="173.8" cy="530.9" r="18.20" fill="#2aa2dc" />
<circle cx="173.8" cy="525.7" r="17.80" fill="#86c9ef" stroke="#ffffff" stroke-width="1.0" />
<circle cx="181.3" cy="523.7" r="9.30" fill="url(#gaga)" stroke="#cf9366" stroke-width="0.9" />
<circle cx="178.0" cy="519.5" r="0.70" fill="#5c5c5c" />
<circle cx="184.1" cy="519.1" r="1.02" fill="#5c5c5c" />
<circle cx="181.8" cy="523.2" r="0.70" fill="#5c5c5c" />
<circle cx="177.1" cy="524.6" r="1.02" fill="#5c5c5c" />
<circle cx="185.5" cy="524.2" r="0.70" fill="#5c5c5c" />
<circle cx="179.4" cy="527.9" r="1.02" fill="#5c5c5c" />
<circle cx="184.1" cy="528.4" r="0.70" fill="#5c5c5c" />
<circle cx="186.4" cy="521.4" r="1.02" fill="#5c5c5c" />
<circle cx="180.8" cy="517.2" r="0.70" fill="#5c5c5c" />
<circle cx="85.6" cy="518.2" r="4.30" fill="url(#gbub)" stroke="#8a8a8a" stroke-width="0.6" />
<circle cx="88.0" cy="536.2" r="4.30" fill="url(#gbub)" stroke="#8a8a8a" stroke-width="0.6" />
<use href="#swim" transform="translate(76.4 527.7) scale(1.2)"/><use href="#swim" transform="translate(95.7 527.7) scale(-1.2 1.2)"/><line x1="131.1" y1="564.8" x2="131.1" y2="537.6" stroke="#1f4a73" stroke-width="1.3" />
<path d="M131.1 533.6l2.6 6.4l-2.6 -1.6l-2.6 1.6Z" fill="#1f4a73"/>
<text x="130.6" y="578.7" font-size="10.4" text-anchor="middle" textLength="64.6" lengthAdjust="spacingAndGlyphs" fill="#1a1a1a">100-mM urea</text>
<path d="M44.9 480.4L45.1 482.1L45.4 483.7L45.8 485.4L46.3 487.0L46.8 488.6L47.4 490.2L48.1 491.7L48.8 493.2L49.6 494.7L50.5 496.2L51.5 497.6L52.5 499.0L53.7 500.4L54.8 501.7L56.1 503.0L57.4 504.3L58.8 505.6L60.3 506.8L61.9 508.0L63.2 509.0L59.0 511.6L71.6 511.6L65.7 501.1L65.1 505.9L63.8 505.1L62.3 504.1L60.8 503.1L59.4 502.0L58.0 500.9L56.8 499.8L55.6 498.6L54.4 497.4L53.3 496.2L52.3 494.9L51.4 493.6L50.5 492.3L49.6 490.9L48.9 489.5L48.2 488.0L47.6 486.6L47.0 485.0L46.5 483.5L46.1 481.9L45.7 480.2Z" fill="#5f83a8"/>
<path d="M191.8 470.6L192.5 472.6L193.1 474.6L193.6 476.5L194.1 478.4L194.5 480.3L194.8 482.2L195.1 484.0L195.3 485.9L195.4 487.7L195.5 489.5L195.5 491.3L195.5 493.0L195.4 494.8L195.2 496.5L195.0 498.2L194.7 499.9L194.3 501.5L193.9 503.2L193.4 504.8L193.3 505.1L189.7 501.8L192.0 513.6L201.6 505.5L196.7 506.2L196.9 505.7L197.2 503.9L197.6 502.1L197.8 500.3L198.0 498.5L198.1 496.7L198.1 494.9L198.1 493.0L198.0 491.2L197.8 489.3L197.6 487.5L197.3 485.6L197.0 483.7L196.5 481.8L196.0 479.9L195.5 478.0L194.8 476.1L194.2 474.2L193.4 472.3L192.6 470.4Z" fill="#5f83a8"/>
</g>
<g id="panel_l"><circle cx="45.1" cy="624.9" r="10.50" fill="#cfe2f1" stroke="#3f7fa5" stroke-width="1.0" />
<circle cx="45.1" cy="624.9" r="8.70" fill="url(#gbub)" stroke="#4c88aa" stroke-width="0.8" />
<text x="65.8" y="629.0" font-size="10.4" textLength="39.0" lengthAdjust="spacingAndGlyphs" fill="#1a1a1a">Bubbles</text>
<use href="#cbr" transform="translate(45.1 653.7) scale(0.335)"/><text x="65.8" y="658.9" font-size="10.4" textLength="25.3" lengthAdjust="spacingAndGlyphs" fill="#1a1a1a">CBRs</text>
<text x="180.2" y="621.6" font-size="10.4" text-anchor="middle" textLength="40.5" lengthAdjust="spacingAndGlyphs" fill="#1a1a1a">Agarose</text>
<text x="180.2" y="634.7" font-size="10.4" text-anchor="middle" textLength="66.0" lengthAdjust="spacingAndGlyphs" fill="#1a1a1a">(cancer cells)</text>
<circle cx="181.7" cy="653.2" r="12.50" fill="url(#ggrn)" stroke="#6ea552" stroke-width="0.9" />
<circle cx="177.3" cy="647.6" r="0.94" fill="#6b566b" />
<circle cx="185.4" cy="647.0" r="1.38" fill="#6b566b" />
<circle cx="182.3" cy="652.6" r="0.94" fill="#6b566b" />
<circle cx="176.1" cy="654.5" r="1.38" fill="#6b566b" />
<circle cx="187.3" cy="653.8" r="0.94" fill="#6b566b" />
<circle cx="179.2" cy="658.8" r="1.38" fill="#6b566b" />
<circle cx="185.4" cy="659.5" r="0.94" fill="#6b566b" />
<circle cx="188.6" cy="650.1" r="1.38" fill="#6b566b" />
<circle cx="181.1" cy="644.5" r="0.94" fill="#6b566b" />
<path d="M51.1 681.3L211.7 680.2L212.1 764.3L51.5 766.3Z" fill="#e0e4f1" stroke="#9a9eac" stroke-width="1"/><path d="M104.1 682.1l14.5 0l20.9 82.5l-14.5 0Z" fill="#edf0f8" opacity="0.9"/><path d="M125.0 682.1l9.6 0l20.9 82.5l-9.6 0Z" fill="#edf0f8" opacity="0.9"/><path d="M51.5 766.3L212.1 764.3L211.7 680.2" fill="none" stroke="#8e929f" stroke-width="1.6"/><path d="M102 721.8H128.5L161.5 708.4V715.8L136.5 725.3L161.5 734.4V741.8L128.5 728.8H102Z" fill="#5ab5e3"/><circle cx="86.9" cy="723.8" r="15.50" fill="#2aa2dc" />
<circle cx="86.9" cy="719.6" r="15.10" fill="#86c9ef" stroke="#ffffff" stroke-width="1.0" />
<circle cx="176.7" cy="705.3" r="15.60" fill="#2aa2dc" />
<circle cx="176.7" cy="701.9" r="15.20" fill="#86c9ef" stroke="#ffffff" stroke-width="1.0" />
<circle cx="176.7" cy="743.8" r="15.60" fill="#2aa2dc" />
<circle cx="176.7" cy="740.4" r="15.20" fill="#86c9ef" stroke="#ffffff" stroke-width="1.0" />
<circle cx="181.7" cy="699.5" r="9.40" fill="url(#ggrn)" stroke="#6ea552" stroke-width="0.9" />
<circle cx="178.4" cy="695.3" r="0.70" fill="#6b566b" />
<circle cx="184.5" cy="694.8" r="1.03" fill="#6b566b" />
<circle cx="182.2" cy="699.0" r="0.70" fill="#6b566b" />
<circle cx="177.5" cy="700.4" r="1.03" fill="#6b566b" />
<circle cx="185.9" cy="700.0" r="0.70" fill="#6b566b" />
<circle cx="179.8" cy="703.7" r="1.03" fill="#6b566b" />
<circle cx="184.5" cy="704.2" r="0.70" fill="#6b566b" />
<circle cx="186.9" cy="697.1" r="1.03" fill="#6b566b" />
<circle cx="181.2" cy="692.9" r="0.70" fill="#6b566b" />
<circle cx="80.5" cy="717.3" r="3.50" fill="url(#gbub)" stroke="#8a8a8a" stroke-width="0.6" />
<circle cx="95.3" cy="724.4" r="3.50" fill="url(#gbub)" stroke="#8a8a8a" stroke-width="0.6" />
<use href="#swim" transform="translate(90.6 714.7) scale(0.85)"/><use href="#swim" transform="translate(84.5 726.2) scale(-0.85 0.85)"/><line x1="111.9" y1="772.4" x2="111.9" y2="732.8" stroke="#1f4a73" stroke-width="1.3" />
<path d="M111.9 728.8l2.6 6.4l-2.6 -1.6l-2.6 1.6Z" fill="#1f4a73"/>
<text x="113.2" y="785.0" font-size="10.4" text-anchor="middle" textLength="64.2" lengthAdjust="spacingAndGlyphs" fill="#1a1a1a">100-mM urea</text>
<text x="181.7" y="787.0" font-size="10.4" textLength="25.9" lengthAdjust="spacingAndGlyphs" fill="#1a1a1a">Blank</text>
<path d="M44.9 666.3L45.1 668.9L45.3 671.4L45.6 673.8L46.0 676.2L46.6 678.5L47.2 680.7L47.9 682.9L48.6 685.1L49.5 687.2L50.5 689.2L51.5 691.1L52.7 693.0L54.0 694.9L55.3 696.7L56.7 698.4L58.3 700.0L59.9 701.6L61.6 703.2L63.4 704.6L65.3 706.0L66.2 706.6L62.1 709.4L74.6 709.1L68.5 698.6L68.0 703.5L67.2 703.1L65.4 701.9L63.6 700.6L61.9 699.3L60.3 697.9L58.8 696.4L57.4 694.9L56.0 693.3L54.7 691.7L53.5 689.9L52.4 688.1L51.4 686.3L50.4 684.3L49.5 682.3L48.8 680.2L48.0 678.1L47.4 675.9L46.9 673.6L46.4 671.2L46.0 668.8L45.7 666.3Z" fill="#5f83a8"/>
<path d="M193.5 667.3L194.0 668.4L194.4 669.5L194.7 670.6L195.0 671.7L195.3 672.8L195.5 673.8L195.7 674.9L195.8 676.0L195.8 677.1L195.8 678.2L195.8 679.3L195.7 680.4L195.6 681.5L195.4 682.6L195.2 683.7L194.9 684.7L194.6 685.8L194.3 686.7L190.9 683.7L193.0 694.6L202.0 686.8L197.6 687.6L197.8 686.6L198.0 685.4L198.1 684.1L198.2 682.9L198.3 681.7L198.2 680.5L198.2 679.3L198.1 678.1L197.9 676.9L197.7 675.8L197.4 674.6L197.1 673.5L196.8 672.3L196.4 671.2L195.9 670.1L195.4 669.1L194.9 668.0L194.3 666.9Z" fill="#5f83a8"/>
<path d="M200.6 776.5L200.9 775.3L201.1 774.1L201.3 772.9L201.5 771.7L201.6 770.5L201.7 769.4L201.8 768.2L201.8 767.0L201.8 765.9L201.7 764.7L201.6 763.5L201.4 762.4L201.2 761.2L201.0 760.1L200.7 759.0L200.4 757.8L200.1 756.7L200.0 756.6L204.5 756.8L194.9 750.1L194.4 761.2L197.3 757.7L197.3 757.8L197.7 758.8L198.1 759.8L198.5 760.8L198.8 761.8L199.1 762.9L199.4 763.9L199.6 765.0L199.8 766.0L199.9 767.1L200.0 768.2L200.1 769.4L200.2 770.5L200.2 771.6L200.1 772.8L200.1 773.9L200.0 775.1L199.8 776.3Z" fill="#5f83a8"/>
</g>
<g id="panel_b"><g clip-path="url(#cl0)"><g filter="url(#mottle)"><rect x="254.3" y="14.9" width="88.6" height="88.9" fill="#bdbdbd" />
<ellipse cx="293.4" cy="43.9" rx="12.7" ry="13.0" fill="#666666" stroke="#101010" stroke-width="2.7" /><ellipse cx="281.5" cy="70.5" rx="13.9" ry="14.8" fill="#666666" stroke="#101010" stroke-width="2.7" transform="rotate(-15 281.5 70.5)" /><ellipse cx="315.2" cy="68.8" rx="16.9" ry="15.4" fill="#666666" stroke="#101010" stroke-width="2.7" transform="rotate(28 315.2 68.8)" /></g><ellipse cx="293.4" cy="42.9" rx="7.0" ry="7.2" fill="#868686" opacity="0.6" filter="url(#b10)"/><ellipse cx="281.5" cy="69.5" rx="7.6" ry="8.1" fill="#868686" transform="rotate(-15 281.5 69.5)" opacity="0.6" filter="url(#b10)"/><ellipse cx="315.2" cy="67.8" rx="9.3" ry="8.5" fill="#868686" transform="rotate(28 315.2 67.8)" opacity="0.6" filter="url(#b10)"/></g><g clip-path="url(#cl1)"><g filter="url(#grain)"><rect x="346.2" y="14.9" width="88.7" height="88.9" fill="#480505" />
<g filter="url(#b10)"><ellipse cx="386.2" cy="42.1" rx="13.4" ry="13.9" fill="#8a0c0c" /><ellipse cx="372.7" cy="69.3" rx="17.3" ry="17.6" fill="#8a0c0c" transform="rotate(-10 372.7 69.3)" /><ellipse cx="407.1" cy="70.9" rx="19.8" ry="15.8" fill="#8a0c0c" transform="rotate(25 407.1 70.9)" /></g><g filter="url(#b08)" opacity="0.95"><ellipse cx="386.2" cy="42.1" rx="12.3" ry="12.8" fill="none" stroke="#ff3028" stroke-width="2.5" /><ellipse cx="372.7" cy="69.3" rx="16.2" ry="16.5" fill="none" stroke="#ff3028" stroke-width="2.5" transform="rotate(-10 372.7 69.3)" /><ellipse cx="407.1" cy="70.9" rx="18.7" ry="14.7" fill="none" stroke="#ff3028" stroke-width="2.5" transform="rotate(25 407.1 70.9)" /></g></g></g><g clip-path="url(#cl2)"><g filter="url(#grain)"><rect x="254.3" y="107.0" width="88.6" height="88.6" fill="#041004" />
<g filter="url(#b10)"><ellipse cx="294.9" cy="132.4" rx="13.3" ry="13.6" fill="#195219" /><ellipse cx="280.8" cy="160.9" rx="16.2" ry="16.5" fill="#195219" transform="rotate(-10 280.8 160.9)" /><ellipse cx="314.5" cy="162.0" rx="19.8" ry="16.8" fill="#195219" transform="rotate(22 314.5 162.0)" /></g><g filter="url(#b08)" opacity="0.95"><ellipse cx="294.9" cy="132.4" rx="12.2" ry="12.5" fill="none" stroke="#38dc38" stroke-width="2.5" /><ellipse cx="280.8" cy="160.9" rx="15.1" ry="15.4" fill="none" stroke="#38dc38" stroke-width="2.5" transform="rotate(-10 280.8 160.9)" /><ellipse cx="314.5" cy="162.0" rx="18.7" ry="15.7" fill="none" stroke="#38dc38" stroke-width="2.5" transform="rotate(22 314.5 162.0)" /></g></g></g><g clip-path="url(#cl3)"><g filter="url(#grainY)"><rect x="346.2" y="107.0" width="88.7" height="88.6" fill="#1a1a07" />
<g filter="url(#b10)"><ellipse cx="386.9" cy="132.1" rx="13.4" ry="13.4" fill="#4a4a10" /><ellipse cx="373.1" cy="160.6" rx="16.9" ry="16.9" fill="#4a4a10" transform="rotate(-10 373.1 160.6)" /><ellipse cx="407.4" cy="161.6" rx="19.5" ry="16.3" fill="#4a4a10" transform="rotate(22 407.4 161.6)" /></g><g filter="url(#b08)" opacity="0.95"><ellipse cx="386.9" cy="132.1" rx="12.3" ry="12.3" fill="none" stroke="#c8c834" stroke-width="2.5" /><ellipse cx="373.1" cy="160.6" rx="15.8" ry="15.8" fill="none" stroke="#c8c834" stroke-width="2.5" transform="rotate(-10 373.1 160.6)" /><ellipse cx="407.4" cy="161.6" rx="18.4" ry="15.2" fill="none" stroke="#c8c834" stroke-width="2.5" transform="rotate(22 407.4 161.6)" /></g></g></g><text x="421.4" y="29.9" font-size="10.6" textLength="7.7" lengthAdjust="spacingAndGlyphs" fill="#fff">C</text>
<text x="330.1" y="119.9" font-size="10.6" textLength="7.2" lengthAdjust="spacingAndGlyphs" fill="#fff">N</text>
<text x="420.2" y="119.9" font-size="10.6" textLength="8.3" lengthAdjust="spacingAndGlyphs" fill="#fff">O</text>
<rect x="405.0" y="186.6" width="22.8" height="3.2" fill="#fff" />
</g>
<g id="panel_c"><g clip-path="url(#cl4)"><rect x="477.3" y="14.9" width="88.3" height="88.9" fill="#dadada" />
<g filter="url(#b03)"><g fill="#404040" opacity="0.8"><circle cx="493.7" cy="37.4" r="1.01"/><circle cx="500.3" cy="44.5" r="1.01"/><circle cx="485.2" cy="53.5" r="0.72"/><circle cx="488.6" cy="49.2" r="0.72"/><circle cx="491.1" cy="52.4" r="0.72"/><circle cx="509.2" cy="48.1" r="1.01"/><circle cx="513.9" cy="49.6" r="0.72"/><circle cx="517.3" cy="48.1" r="0.72"/><circle cx="521.6" cy="50.2" r="1.01"/><circle cx="524.1" cy="53.5" r="1.01"/><circle cx="526.9" cy="56.2" r="1.01"/><circle cx="531.6" cy="60.3" r="1.01"/><circle cx="518.8" cy="61.6" r="1.01"/><circle cx="506.7" cy="63.1" r="1.01"/><circle cx="501.8" cy="59.2" r="0.72"/><circle cx="513.0" cy="54.5" r="0.72"/><circle cx="531.8" cy="36.8" r="1.37"/><circle cx="543.3" cy="37.6" r="1.37"/><circle cx="528.4" cy="39.5" r="0.72"/><circle cx="537.9" cy="23.5" r="0.72"/><circle cx="548.6" cy="19.2" r="0.72"/><circle cx="553.3" cy="25.6" r="1.01"/><circle cx="561.8" cy="26.0" r="0.72"/><circle cx="557.7" cy="35.3" r="0.72"/><circle cx="562.8" cy="38.5" r="0.72"/><circle cx="547.5" cy="48.5" r="1.01"/><circle cx="553.5" cy="48.1" r="0.72"/><circle cx="543.3" cy="55.6" r="0.72"/><circle cx="536.9" cy="52.4" r="0.72"/><circle cx="560.3" cy="53.5" r="0.72"/><circle cx="562.4" cy="57.7" r="0.72"/><circle cx="557.1" cy="67.8" r="1.37"/><circle cx="551.8" cy="65.2" r="0.72"/><circle cx="547.5" cy="69.1" r="0.72"/><circle cx="537.9" cy="64.2" r="0.72"/><circle cx="555.6" cy="72.1" r="0.72"/><circle cx="562.8" cy="75.3" r="1.01"/><circle cx="493.3" cy="73.2" r="1.01"/><circle cx="484.3" cy="69.5" r="0.72"/><circle cx="479.4" cy="66.3" r="0.72"/><circle cx="482.2" cy="79.2" r="0.72"/><circle cx="491.6" cy="82.8" r="1.87"/><circle cx="490.1" cy="86.7" r="1.01"/><circle cx="515.6" cy="82.4" r="1.01"/><circle cx="518.8" cy="78.1" r="0.72"/><circle cx="524.7" cy="82.4" r="0.72"/><circle cx="530.1" cy="84.9" r="1.01"/><circle cx="536.9" cy="79.2" r="0.72"/><circle cx="532.6" cy="89.9" r="1.01"/><circle cx="528.4" cy="94.2" r="0.72"/><circle cx="541.1" cy="83.4" r="0.72"/><circle cx="507.5" cy="96.3" r="1.01"/><circle cx="502.4" cy="92.0" r="0.72"/><circle cx="489.4" cy="96.7" r="0.72"/><circle cx="494.3" cy="100.6" r="0.72"/><circle cx="508.2" cy="71.7" r="0.72"/><circle cx="501.8" cy="74.9" r="0.72"/><circle cx="513.5" cy="94.2" r="0.72"/><circle cx="551.3" cy="96.9" r="0.72"/><circle cx="553.9" cy="89.9" r="0.72"/><circle cx="560.3" cy="83.4" r="0.72"/><circle cx="564.1" cy="94.2" r="0.72"/><circle cx="544.7" cy="99.1" r="0.72"/><circle cx="519.9" cy="101.7" r="0.72"/><circle cx="479.0" cy="39.5" r="0.72"/><circle cx="480.5" cy="59.9" r="0.72"/><circle cx="498.6" cy="24.5" r="0.72"/><circle cx="515.6" cy="35.3" r="0.72"/><circle cx="537.9" cy="16.4" r="0.72"/><circle cx="533.7" cy="17.0" r="0.72"/><circle cx="485.8" cy="47.0" r="0.43"/><circle cx="496.4" cy="55.6" r="0.43"/><circle cx="505.0" cy="80.2" r="0.43"/><circle cx="511.3" cy="66.3" r="0.43"/><circle cx="545.4" cy="73.8" r="0.43"/><circle cx="526.2" cy="73.8" r="0.43"/><circle cx="534.7" cy="71.7" r="0.43"/><circle cx="509.2" cy="83.4" r="0.43"/><circle cx="499.6" cy="99.5" r="0.43"/><circle cx="558.2" cy="99.5" r="0.43"/><circle cx="549.6" cy="82.4" r="0.43"/><circle cx="483.7" cy="92.0" r="0.43"/><circle cx="559.2" cy="43.8" r="0.43"/><circle cx="540.1" cy="46.0" r="0.43"/><circle cx="520.9" cy="41.7" r="0.43"/><circle cx="505.0" cy="32.0" r="0.43"/><circle cx="490.1" cy="29.9" r="0.43"/><circle cx="509.2" cy="22.4" r="0.43"/><circle cx="526.2" cy="26.7" r="0.43"/></g></g></g><g clip-path="url(#cl5)"><rect x="570.3" y="14.9" width="88.8" height="88.9" fill="#020000" />
<g filter="url(#b03)"><g fill="#ff1a1a" opacity="1"><circle cx="586.8" cy="37.4" r="1.57"/><circle cx="593.4" cy="44.5" r="1.57"/><circle cx="578.2" cy="53.5" r="1.12"/><circle cx="581.6" cy="49.2" r="1.12"/><circle cx="584.2" cy="52.4" r="1.12"/><circle cx="602.4" cy="48.1" r="1.57"/><circle cx="607.1" cy="49.6" r="1.12"/><circle cx="610.5" cy="48.1" r="1.12"/><circle cx="614.8" cy="50.2" r="1.57"/><circle cx="617.4" cy="53.5" r="1.57"/><circle cx="620.2" cy="56.2" r="1.57"/><circle cx="624.9" cy="60.3" r="1.57"/><circle cx="612.0" cy="61.6" r="1.57"/><circle cx="599.8" cy="63.1" r="1.57"/><circle cx="594.9" cy="59.2" r="1.12"/><circle cx="606.2" cy="54.5" r="1.12"/><circle cx="625.1" cy="36.8" r="2.13"/><circle cx="636.6" cy="37.6" r="2.13"/><circle cx="621.7" cy="39.5" r="1.12"/><circle cx="631.3" cy="23.5" r="1.12"/><circle cx="642.0" cy="19.2" r="1.12"/><circle cx="646.7" cy="25.6" r="1.57"/><circle cx="655.2" cy="26.0" r="1.12"/><circle cx="651.2" cy="35.3" r="1.12"/><circle cx="656.3" cy="38.5" r="1.12"/><circle cx="640.9" cy="48.5" r="1.57"/><circle cx="646.9" cy="48.1" r="1.12"/><circle cx="636.6" cy="55.6" r="1.12"/><circle cx="630.2" cy="52.4" r="1.12"/><circle cx="653.8" cy="53.5" r="1.12"/><circle cx="655.9" cy="57.7" r="1.12"/><circle cx="650.5" cy="67.8" r="2.13"/><circle cx="645.2" cy="65.2" r="1.12"/><circle cx="640.9" cy="69.1" r="1.12"/><circle cx="631.3" cy="64.2" r="1.12"/><circle cx="649.0" cy="72.1" r="1.12"/><circle cx="656.3" cy="75.3" r="1.57"/><circle cx="586.3" cy="73.2" r="1.57"/><circle cx="577.4" cy="69.5" r="1.12"/><circle cx="572.4" cy="66.3" r="1.12"/><circle cx="575.2" cy="79.2" r="1.12"/><circle cx="584.6" cy="82.8" r="2.91"/><circle cx="583.1" cy="86.7" r="1.57"/><circle cx="608.8" cy="82.4" r="1.57"/><circle cx="612.0" cy="78.1" r="1.12"/><circle cx="618.0" cy="82.4" r="1.12"/><circle cx="623.4" cy="84.9" r="1.57"/><circle cx="630.2" cy="79.2" r="1.12"/><circle cx="625.9" cy="89.9" r="1.57"/><circle cx="621.7" cy="94.2" r="1.12"/><circle cx="634.5" cy="83.4" r="1.12"/><circle cx="600.7" cy="96.3" r="1.57"/><circle cx="595.5" cy="92.0" r="1.12"/><circle cx="582.5" cy="96.7" r="1.12"/><circle cx="587.4" cy="100.6" r="1.12"/><circle cx="601.3" cy="71.7" r="1.12"/><circle cx="594.9" cy="74.9" r="1.12"/><circle cx="606.7" cy="94.2" r="1.12"/><circle cx="644.8" cy="96.9" r="1.12"/><circle cx="647.3" cy="89.9" r="1.12"/><circle cx="653.8" cy="83.4" r="1.12"/><circle cx="657.6" cy="94.2" r="1.12"/><circle cx="638.1" cy="99.1" r="1.12"/><circle cx="613.1" cy="101.7" r="1.12"/><circle cx="572.0" cy="39.5" r="1.12"/><circle cx="573.5" cy="59.9" r="1.12"/><circle cx="591.7" cy="24.5" r="1.12"/><circle cx="608.8" cy="35.3" r="1.12"/><circle cx="631.3" cy="16.4" r="1.12"/><circle cx="627.0" cy="17.0" r="1.12"/><circle cx="578.9" cy="47.0" r="0.67"/><circle cx="589.6" cy="55.6" r="0.67"/><circle cx="598.1" cy="80.2" r="0.67"/><circle cx="604.5" cy="66.3" r="0.67"/><circle cx="638.8" cy="73.8" r="0.67"/><circle cx="619.5" cy="73.8" r="0.67"/><circle cx="628.1" cy="71.7" r="0.67"/><circle cx="602.4" cy="83.4" r="0.67"/><circle cx="592.8" cy="99.5" r="0.67"/><circle cx="651.6" cy="99.5" r="0.67"/><circle cx="643.1" cy="82.4" r="0.67"/><circle cx="576.7" cy="92.0" r="0.67"/><circle cx="652.7" cy="43.8" r="0.67"/><circle cx="633.4" cy="46.0" r="0.67"/><circle cx="614.2" cy="41.7" r="0.67"/><circle cx="598.1" cy="32.0" r="0.67"/><circle cx="583.1" cy="29.9" r="0.67"/><circle cx="602.4" cy="22.4" r="0.67"/><circle cx="619.5" cy="26.7" r="0.67"/></g></g></g><g clip-path="url(#cl6)"><rect x="477.3" y="107.0" width="88.3" height="88.6" fill="#000200" />
<g filter="url(#b03)"><g fill="#22e022" opacity="1"><circle cx="493.7" cy="129.4" r="1.57"/><circle cx="500.3" cy="136.5" r="1.57"/><circle cx="485.2" cy="145.4" r="1.12"/><circle cx="488.6" cy="141.2" r="1.12"/><circle cx="491.1" cy="144.4" r="1.12"/><circle cx="509.2" cy="140.1" r="1.57"/><circle cx="513.9" cy="141.6" r="1.12"/><circle cx="517.3" cy="140.1" r="1.12"/><circle cx="521.6" cy="142.2" r="1.57"/><circle cx="524.1" cy="145.4" r="1.57"/><circle cx="526.9" cy="148.2" r="1.57"/><circle cx="531.6" cy="152.3" r="1.57"/><circle cx="518.8" cy="153.5" r="1.57"/><circle cx="506.7" cy="155.0" r="1.57"/><circle cx="501.8" cy="151.2" r="1.12"/><circle cx="513.0" cy="146.5" r="1.12"/><circle cx="531.8" cy="128.8" r="2.13"/><circle cx="543.3" cy="129.6" r="2.13"/><circle cx="528.4" cy="131.6" r="1.12"/><circle cx="537.9" cy="115.5" r="1.12"/><circle cx="548.6" cy="111.3" r="1.12"/><circle cx="553.3" cy="117.7" r="1.57"/><circle cx="561.8" cy="118.1" r="1.12"/><circle cx="557.7" cy="127.3" r="1.12"/><circle cx="562.8" cy="130.5" r="1.12"/><circle cx="547.5" cy="140.5" r="1.57"/><circle cx="553.5" cy="140.1" r="1.12"/><circle cx="543.3" cy="147.6" r="1.12"/><circle cx="536.9" cy="144.4" r="1.12"/><circle cx="560.3" cy="145.4" r="1.12"/><circle cx="562.4" cy="149.7" r="1.12"/><circle cx="557.1" cy="159.7" r="2.13"/><circle cx="551.8" cy="157.2" r="1.12"/><circle cx="547.5" cy="161.0" r="1.12"/><circle cx="537.9" cy="156.1" r="1.12"/><circle cx="555.6" cy="164.0" r="1.12"/><circle cx="562.8" cy="167.2" r="1.57"/><circle cx="493.3" cy="165.1" r="1.57"/><circle cx="484.3" cy="161.4" r="1.12"/><circle cx="479.4" cy="158.2" r="1.12"/><circle cx="482.2" cy="171.0" r="1.12"/><circle cx="491.6" cy="174.7" r="2.91"/><circle cx="490.1" cy="178.5" r="1.57"/><circle cx="515.6" cy="174.3" r="1.57"/><circle cx="518.8" cy="170.0" r="1.12"/><circle cx="524.7" cy="174.3" r="1.12"/><circle cx="530.1" cy="176.8" r="1.57"/><circle cx="536.9" cy="171.0" r="1.12"/><circle cx="532.6" cy="181.7" r="1.57"/><circle cx="528.4" cy="186.0" r="1.12"/><circle cx="541.1" cy="175.3" r="1.12"/><circle cx="507.5" cy="188.1" r="1.57"/><circle cx="502.4" cy="183.9" r="1.12"/><circle cx="489.4" cy="188.6" r="1.12"/><circle cx="494.3" cy="192.4" r="1.12"/><circle cx="508.2" cy="163.6" r="1.12"/><circle cx="501.8" cy="166.8" r="1.12"/><circle cx="513.5" cy="186.0" r="1.12"/><circle cx="551.3" cy="188.8" r="1.12"/><circle cx="553.9" cy="181.7" r="1.12"/><circle cx="560.3" cy="175.3" r="1.12"/><circle cx="564.1" cy="186.0" r="1.12"/><circle cx="544.7" cy="190.9" r="1.12"/><circle cx="519.9" cy="193.5" r="1.12"/><circle cx="479.0" cy="131.6" r="1.12"/><circle cx="480.5" cy="151.8" r="1.12"/><circle cx="498.6" cy="116.6" r="1.12"/><circle cx="515.6" cy="127.3" r="1.12"/><circle cx="537.9" cy="108.5" r="1.12"/><circle cx="533.7" cy="109.1" r="1.12"/><circle cx="485.8" cy="139.0" r="0.67"/><circle cx="496.4" cy="147.6" r="0.67"/><circle cx="505.0" cy="172.1" r="0.67"/><circle cx="511.3" cy="158.2" r="0.67"/><circle cx="545.4" cy="165.7" r="0.67"/><circle cx="526.2" cy="165.7" r="0.67"/><circle cx="534.7" cy="163.6" r="0.67"/><circle cx="509.2" cy="175.3" r="0.67"/><circle cx="499.6" cy="191.3" r="0.67"/><circle cx="558.2" cy="191.3" r="0.67"/><circle cx="549.6" cy="174.3" r="0.67"/><circle cx="483.7" cy="183.9" r="0.67"/><circle cx="559.2" cy="135.8" r="0.67"/><circle cx="540.1" cy="138.0" r="0.67"/><circle cx="520.9" cy="133.7" r="0.67"/><circle cx="505.0" cy="124.1" r="0.67"/><circle cx="490.1" cy="121.9" r="0.67"/><circle cx="509.2" cy="114.5" r="0.67"/><circle cx="526.2" cy="118.7" r="0.67"/></g></g></g><g clip-path="url(#cl7)"><rect x="570.3" y="107.0" width="88.8" height="88.6" fill="#b3b3b3" />
<g filter="url(#b03)"><g fill="#ec7a2a" opacity="0.9"><circle cx="586.8" cy="129.4" r="1.12"/><circle cx="581.6" cy="141.2" r="0.80"/><circle cx="607.1" cy="141.6" r="0.80"/><circle cx="617.4" cy="145.4" r="1.12"/><circle cx="612.0" cy="153.5" r="1.12"/><circle cx="606.2" cy="146.5" r="0.80"/><circle cx="621.7" cy="131.6" r="0.80"/><circle cx="646.7" cy="117.7" r="1.12"/><circle cx="656.3" cy="130.5" r="0.80"/><circle cx="636.6" cy="147.6" r="0.80"/><circle cx="655.9" cy="149.7" r="0.80"/><circle cx="640.9" cy="161.0" r="0.80"/><circle cx="656.3" cy="167.2" r="1.12"/><circle cx="572.4" cy="158.2" r="0.80"/><circle cx="583.1" cy="178.5" r="1.12"/><circle cx="618.0" cy="174.3" r="0.80"/><circle cx="625.9" cy="181.7" r="1.12"/><circle cx="600.7" cy="188.1" r="1.12"/><circle cx="587.4" cy="192.4" r="0.80"/><circle cx="606.7" cy="186.0" r="0.80"/><circle cx="653.8" cy="175.3" r="0.80"/><circle cx="613.1" cy="193.5" r="0.80"/><circle cx="591.7" cy="116.6" r="0.80"/><circle cx="627.0" cy="109.1" r="0.80"/><circle cx="598.1" cy="172.1" r="0.48"/><circle cx="619.5" cy="165.7" r="0.48"/><circle cx="592.8" cy="191.3" r="0.48"/><circle cx="576.7" cy="183.9" r="0.48"/><circle cx="614.2" cy="133.7" r="0.48"/><circle cx="602.4" cy="114.5" r="0.48"/></g><g fill="#f0a830" opacity="0.9"><circle cx="593.4" cy="136.5" r="1.12"/><circle cx="584.2" cy="144.4" r="0.80"/><circle cx="610.5" cy="140.1" r="0.80"/><circle cx="620.2" cy="148.2" r="1.12"/><circle cx="599.8" cy="155.0" r="1.12"/><circle cx="625.1" cy="128.8" r="1.52"/><circle cx="631.3" cy="115.5" r="0.80"/><circle cx="655.2" cy="118.1" r="0.80"/><circle cx="640.9" cy="140.5" r="1.12"/><circle cx="630.2" cy="144.4" r="0.80"/><circle cx="650.5" cy="159.7" r="1.52"/><circle cx="631.3" cy="156.1" r="0.80"/><circle cx="586.3" cy="165.1" r="1.12"/><circle cx="575.2" cy="171.0" r="0.80"/><circle cx="608.8" cy="174.3" r="1.12"/><circle cx="623.4" cy="176.8" r="1.12"/><circle cx="621.7" cy="186.0" r="0.80"/><circle cx="595.5" cy="183.9" r="0.80"/><circle cx="601.3" cy="163.6" r="0.80"/><circle cx="644.8" cy="188.8" r="0.80"/><circle cx="657.6" cy="186.0" r="0.80"/><circle cx="572.0" cy="131.6" r="0.80"/><circle cx="608.8" cy="127.3" r="0.80"/><circle cx="578.9" cy="139.0" r="0.48"/><circle cx="604.5" cy="158.2" r="0.48"/><circle cx="628.1" cy="163.6" r="0.48"/><circle cx="651.6" cy="191.3" r="0.48"/><circle cx="652.7" cy="135.8" r="0.48"/><circle cx="598.1" cy="124.1" r="0.48"/><circle cx="619.5" cy="118.7" r="0.48"/></g><g fill="#efd040" opacity="0.9"><circle cx="578.2" cy="145.4" r="0.80"/><circle cx="602.4" cy="140.1" r="1.12"/><circle cx="614.8" cy="142.2" r="1.12"/><circle cx="624.9" cy="152.3" r="1.12"/><circle cx="594.9" cy="151.2" r="0.80"/><circle cx="636.6" cy="129.6" r="1.52"/><circle cx="642.0" cy="111.3" r="0.80"/><circle cx="651.2" cy="127.3" r="0.80"/><circle cx="646.9" cy="140.1" r="0.80"/><circle cx="653.8" cy="145.4" r="0.80"/><circle cx="645.2" cy="157.2" r="0.80"/><circle cx="649.0" cy="164.0" r="0.80"/><circle cx="577.4" cy="161.4" r="0.80"/><circle cx="584.6" cy="174.7" r="2.08"/><circle cx="612.0" cy="170.0" r="0.80"/><circle cx="630.2" cy="171.0" r="0.80"/><circle cx="634.5" cy="175.3" r="0.80"/><circle cx="582.5" cy="188.6" r="0.80"/><circle cx="594.9" cy="166.8" r="0.80"/><circle cx="647.3" cy="181.7" r="0.80"/><circle cx="638.1" cy="190.9" r="0.80"/><circle cx="573.5" cy="151.8" r="0.80"/><circle cx="631.3" cy="108.5" r="0.80"/><circle cx="589.6" cy="147.6" r="0.48"/><circle cx="638.8" cy="165.7" r="0.48"/><circle cx="602.4" cy="175.3" r="0.48"/><circle cx="643.1" cy="174.3" r="0.48"/><circle cx="633.4" cy="138.0" r="0.48"/><circle cx="583.1" cy="121.9" r="0.48"/></g></g></g><text x="576.1" y="28.8" font-size="10.6" textLength="56.6" lengthAdjust="spacingAndGlyphs" fill="#fff">Cy3-urease</text>
<text x="484.8" y="119.9" font-size="10.6" textLength="68.0" lengthAdjust="spacingAndGlyphs" fill="#fff">FITC-catalase</text>
<text x="575.7" y="119.9" font-size="10.6" textLength="31.6" lengthAdjust="spacingAndGlyphs" fill="#fff">Merge</text>
<rect x="629.1" y="186.6" width="23.9" height="3.2" fill="#000" />
</g>
<g id="panel_d"><path d="M832.5 67.7h0.85v0.85h-0.85zM834.2 64.0h0.85v0.85h-0.85zM805.4 101.3h0.85v0.85h-0.85zM836.3 62.6h0.85v0.85h-0.85zM816.4 121.4h0.85v0.85h-0.85zM833.5 62.1h0.85v0.85h-0.85zM818.9 75.1h0.85v0.85h-0.85zM821.6 72.6h0.85v0.85h-0.85zM835.6 64.7h0.85v0.85h-0.85zM847.0 53.1h0.85v0.85h-0.85zM856.1 47.0h0.85v0.85h-0.85zM859.2 43.2h0.85v0.85h-0.85zM802.6 94.2h0.85v0.85h-0.85zM784.9 111.3h0.85v0.85h-0.85zM848.5 52.0h0.85v0.85h-0.85zM822.2 71.7h0.85v0.85h-0.85zM816.3 92.9h0.85v0.85h-0.85zM786.4 105.0h0.85v0.85h-0.85zM799.8 99.9h0.85v0.85h-0.85zM852.8 54.4h0.85v0.85h-0.85zM785.4 105.4h0.85v0.85h-0.85zM797.5 101.0h0.85v0.85h-0.85zM810.9 116.9h0.85v0.85h-0.85zM842.1 61.8h0.85v0.85h-0.85zM796.8 116.5h0.85v0.85h-0.85zM834.5 64.6h0.85v0.85h-0.85zM796.5 105.2h0.85v0.85h-0.85zM788.5 114.8h0.85v0.85h-0.85zM822.9 77.4h0.85v0.85h-0.85zM816.8 91.2h0.85v0.85h-0.85zM841.5 73.1h0.85v0.85h-0.85zM801.5 105.9h0.85v0.85h-0.85zM827.7 71.1h0.85v0.85h-0.85zM854.4 41.3h0.85v0.85h-0.85zM845.4 60.2h0.85v0.85h-0.85zM800.1 95.4h0.85v0.85h-0.85zM802.1 97.5h0.85v0.85h-0.85zM836.4 60.1h0.85v0.85h-0.85zM853.7 44.3h0.85v0.85h-0.85zM833.5 63.2h0.85v0.85h-0.85zM819.3 79.7h0.85v0.85h-0.85zM836.2 68.8h0.85v0.85h-0.85zM844.0 53.3h0.85v0.85h-0.85zM813.3 120.6h0.85v0.85h-0.85zM823.9 80.2h0.85v0.85h-0.85zM823.0 86.5h0.85v0.85h-0.85zM849.9 56.4h0.85v0.85h-0.85zM850.7 49.4h0.85v0.85h-0.85zM788.1 106.5h0.85v0.85h-0.85zM842.2 62.0h0.85v0.85h-0.85zM794.4 102.3h0.85v0.85h-0.85zM810.1 105.7h0.85v0.85h-0.85zM854.5 45.0h0.85v0.85h-0.85zM843.7 60.7h0.85v0.85h-0.85zM826.4 70.7h0.85v0.85h-0.85zM847.4 52.3h0.85v0.85h-0.85zM805.0 97.4h0.85v0.85h-0.85zM808.3 86.5h0.85v0.85h-0.85zM823.2 76.2h0.85v0.85h-0.85zM837.3 65.2h0.85v0.85h-0.85zM811.3 88.0h0.85v0.85h-0.85zM804.8 86.6h0.85v0.85h-0.85zM799.7 101.3h0.85v0.85h-0.85zM806.1 107.5h0.85v0.85h-0.85zM816.7 86.5h0.85v0.85h-0.85zM853.5 50.1h0.85v0.85h-0.85zM826.7 66.0h0.85v0.85h-0.85zM804.5 93.8h0.85v0.85h-0.85zM788.3 115.6h0.85v0.85h-0.85zM811.3 97.5h0.85v0.85h-0.85zM851.9 46.0h0.85v0.85h-0.85zM818.7 85.0h0.85v0.85h-0.85zM838.6 60.1h0.85v0.85h-0.85zM858.9 42.3h0.85v0.85h-0.85zM791.2 105.9h0.85v0.85h-0.85zM824.3 72.5h0.85v0.85h-0.85zM825.2 73.2h0.85v0.85h-0.85zM827.1 81.5h0.85v0.85h-0.85zM818.6 80.2h0.85v0.85h-0.85zM863.6 52.3h0.85v0.85h-0.85zM850.7 52.1h0.85v0.85h-0.85zM857.6 41.2h0.85v0.85h-0.85zM823.9 87.7h0.85v0.85h-0.85zM806.3 91.5h0.85v0.85h-0.85zM802.8 106.0h0.85v0.85h-0.85zM832.3 67.6h0.85v0.85h-0.85zM819.4 90.0h0.85v0.85h-0.85zM850.3 46.4h0.85v0.85h-0.85zM832.1 72.1h0.85v0.85h-0.85zM839.6 70.1h0.85v0.85h-0.85zM824.9 67.9h0.85v0.85h-0.85zM827.5 87.4h0.85v0.85h-0.85zM792.9 103.5h0.85v0.85h-0.85zM829.5 68.1h0.85v0.85h-0.85zM824.1 73.0h0.85v0.85h-0.85zM854.6 42.4h0.85v0.85h-0.85zM831.7 66.6h0.85v0.85h-0.85zM805.5 103.4h0.85v0.85h-0.85zM843.5 57.3h0.85v0.85h-0.85zM824.0 73.6h0.85v0.85h-0.85zM784.9 110.1h0.85v0.85h-0.85zM805.4 94.6h0.85v0.85h-0.85zM818.8 77.5h0.85v0.85h-0.85zM819.4 85.5h0.85v0.85h-0.85zM800.0 113.6h0.85v0.85h-0.85zM856.3 46.3h0.85v0.85h-0.85zM789.6 109.7h0.85v0.85h-0.85zM793.8 104.7h0.85v0.85h-0.85zM837.4 63.6h0.85v0.85h-0.85zM826.5 72.3h0.85v0.85h-0.85zM793.0 107.3h0.85v0.85h-0.85zM810.2 84.2h0.85v0.85h-0.85zM852.9 53.1h0.85v0.85h-0.85zM823.9 75.4h0.85v0.85h-0.85zM807.6 93.4h0.85v0.85h-0.85zM789.4 106.4h0.85v0.85h-0.85zM845.7 53.1h0.85v0.85h-0.85zM809.8 88.3h0.85v0.85h-0.85zM827.9 79.0h0.85v0.85h-0.85zM802.3 95.7h0.85v0.85h-0.85zM830.1 66.4h0.85v0.85h-0.85zM807.3 90.0h0.85v0.85h-0.85zM852.0 48.3h0.85v0.85h-0.85zM794.0 112.2h0.85v0.85h-0.85zM848.6 59.0h0.85v0.85h-0.85zM833.3 67.7h0.85v0.85h-0.85zM858.0 48.5h0.85v0.85h-0.85zM802.5 107.9h0.85v0.85h-0.85zM832.3 64.2h0.85v0.85h-0.85zM794.2 98.1h0.85v0.85h-0.85zM828.0 67.3h0.85v0.85h-0.85zM821.9 76.8h0.85v0.85h-0.85zM850.4 52.0h0.85v0.85h-0.85zM837.2 62.1h0.85v0.85h-0.85zM804.2 92.3h0.85v0.85h-0.85zM836.7 92.6h0.85v0.85h-0.85zM811.4 93.1h0.85v0.85h-0.85zM802.2 110.2h0.85v0.85h-0.85zM843.2 61.3h0.85v0.85h-0.85zM830.5 72.0h0.85v0.85h-0.85zM807.0 92.5h0.85v0.85h-0.85zM844.2 76.4h0.85v0.85h-0.85zM839.7 59.4h0.85v0.85h-0.85zM788.3 110.5h0.85v0.85h-0.85zM840.1 68.0h0.85v0.85h-0.85zM832.2 73.0h0.85v0.85h-0.85zM837.1 59.7h0.85v0.85h-0.85zM817.0 99.6h0.85v0.85h-0.85zM812.2 89.6h0.85v0.85h-0.85zM836.0 60.7h0.85v0.85h-0.85zM793.8 103.7h0.85v0.85h-0.85zM812.7 88.2h0.85v0.85h-0.85zM821.1 79.6h0.85v0.85h-0.85zM792.6 101.4h0.85v0.85h-0.85zM816.1 81.2h0.85v0.85h-0.85zM849.2 54.8h0.85v0.85h-0.85zM830.7 68.0h0.85v0.85h-0.85zM803.7 106.8h0.85v0.85h-0.85zM852.4 51.8h0.85v0.85h-0.85zM844.6 56.0h0.85v0.85h-0.85zM798.6 103.4h0.85v0.85h-0.85zM819.8 75.8h0.85v0.85h-0.85zM796.0 113.2h0.85v0.85h-0.85zM853.5 45.6h0.85v0.85h-0.85zM814.4 104.1h0.85v0.85h-0.85zM795.2 101.3h0.85v0.85h-0.85zM799.9 99.9h0.85v0.85h-0.85zM830.2 69.7h0.85v0.85h-0.85zM798.2 106.1h0.85v0.85h-0.85zM833.0 68.5h0.85v0.85h-0.85zM844.5 74.2h0.85v0.85h-0.85zM812.4 81.0h0.85v0.85h-0.85zM841.1 59.6h0.85v0.85h-0.85zM836.4 70.0h0.85v0.85h-0.85zM856.9 52.9h0.85v0.85h-0.85zM804.5 90.8h0.85v0.85h-0.85zM847.7 52.4h0.85v0.85h-0.85zM845.6 53.8h0.85v0.85h-0.85zM798.8 92.1h0.85v0.85h-0.85zM816.8 84.4h0.85v0.85h-0.85zM830.6 82.3h0.85v0.85h-0.85zM827.7 72.6h0.85v0.85h-0.85zM845.8 56.7h0.85v0.85h-0.85zM792.2 102.5h0.85v0.85h-0.85zM827.7 66.4h0.85v0.85h-0.85zM795.6 108.7h0.85v0.85h-0.85zM804.0 96.2h0.85v0.85h-0.85zM798.6 99.5h0.85v0.85h-0.85zM824.3 75.3h0.85v0.85h-0.85zM852.4 46.8h0.85v0.85h-0.85zM792.1 112.3h0.85v0.85h-0.85zM799.3 96.5h0.85v0.85h-0.85zM854.8 50.5h0.85v0.85h-0.85zM841.2 58.9h0.85v0.85h-0.85zM806.8 91.7h0.85v0.85h-0.85zM857.0 41.6h0.85v0.85h-0.85zM857.6 48.9h0.85v0.85h-0.85zM790.2 107.9h0.85v0.85h-0.85zM843.8 54.9h0.85v0.85h-0.85zM789.2 105.1h0.85v0.85h-0.85zM841.8 59.8h0.85v0.85h-0.85zM848.0 62.7h0.85v0.85h-0.85zM838.5 71.3h0.85v0.85h-0.85zM826.5 69.2h0.85v0.85h-0.85zM853.9 52.2h0.85v0.85h-0.85zM821.2 76.4h0.85v0.85h-0.85zM797.6 113.0h0.85v0.85h-0.85zM849.4 52.3h0.85v0.85h-0.85zM858.7 46.6h0.85v0.85h-0.85zM812.8 93.5h0.85v0.85h-0.85zM857.8 49.4h0.85v0.85h-0.85zM805.8 98.5h0.85v0.85h-0.85zM859.5 47.7h0.85v0.85h-0.85zM805.5 95.7h0.85v0.85h-0.85zM821.5 84.9h0.85v0.85h-0.85zM810.0 87.7h0.85v0.85h-0.85zM832.7 66.7h0.85v0.85h-0.85zM813.6 85.0h0.85v0.85h-0.85zM826.2 70.3h0.85v0.85h-0.85zM828.8 67.1h0.85v0.85h-0.85zM817.7 84.3h0.85v0.85h-0.85zM827.3 65.3h0.85v0.85h-0.85zM814.3 81.8h0.85v0.85h-0.85zM800.6 104.0h0.85v0.85h-0.85zM789.8 102.4h0.85v0.85h-0.85zM822.5 85.3h0.85v0.85h-0.85zM849.3 52.6h0.85v0.85h-0.85zM843.8 53.9h0.85v0.85h-0.85zM809.1 89.9h0.85v0.85h-0.85zM830.9 67.8h0.85v0.85h-0.85zM854.5 44.9h0.85v0.85h-0.85zM841.5 63.7h0.85v0.85h-0.85zM799.5 97.8h0.85v0.85h-0.85zM848.9 50.2h0.85v0.85h-0.85zM837.4 60.1h0.85v0.85h-0.85zM836.3 63.7h0.85v0.85h-0.85zM793.3 106.0h0.85v0.85h-0.85zM831.9 66.8h0.85v0.85h-0.85zM830.5 69.1h0.85v0.85h-0.85zM800.0 97.8h0.85v0.85h-0.85zM842.0 56.3h0.85v0.85h-0.85zM826.5 75.2h0.85v0.85h-0.85zM786.7 111.8h0.85v0.85h-0.85zM818.5 85.0h0.85v0.85h-0.85zM806.8 94.3h0.85v0.85h-0.85zM833.5 68.3h0.85v0.85h-0.85zM790.9 110.1h0.85v0.85h-0.85zM805.8 88.6h0.85v0.85h-0.85zM801.0 104.6h0.85v0.85h-0.85zM846.2 62.6h0.85v0.85h-0.85zM788.0 107.4h0.85v0.85h-0.85zM850.7 49.2h0.85v0.85h-0.85zM808.1 103.5h0.85v0.85h-0.85zM829.8 75.0h0.85v0.85h-0.85zM788.4 114.9h0.85v0.85h-0.85zM820.5 81.1h0.85v0.85h-0.85zM790.4 114.6h0.85v0.85h-0.85zM819.0 102.7h0.85v0.85h-0.85zM857.0 44.2h0.85v0.85h-0.85zM853.5 51.7h0.85v0.85h-0.85zM830.2 74.0h0.85v0.85h-0.85zM804.9 93.2h0.85v0.85h-0.85zM856.5 44.8h0.85v0.85h-0.85zM790.3 104.7h0.85v0.85h-0.85zM814.5 84.9h0.85v0.85h-0.85zM789.1 112.2h0.85v0.85h-0.85zM798.1 112.3h0.85v0.85h-0.85zM834.9 63.3h0.85v0.85h-0.85zM796.1 120.9h0.85v0.85h-0.85zM787.1 110.4h0.85v0.85h-0.85zM805.0 92.8h0.85v0.85h-0.85zM838.4 72.9h0.85v0.85h-0.85zM787.5 106.4h0.85v0.85h-0.85zM858.8 45.9h0.85v0.85h-0.85zM824.4 73.7h0.85v0.85h-0.85zM787.4 112.0h0.85v0.85h-0.85zM814.2 92.7h0.85v0.85h-0.85zM862.0 51.3h0.85v0.85h-0.85zM794.2 101.3h0.85v0.85h-0.85zM800.5 113.8h0.85v0.85h-0.85zM804.7 94.5h0.85v0.85h-0.85zM799.5 98.1h0.85v0.85h-0.85zM847.4 58.4h0.85v0.85h-0.85zM827.6 72.5h0.85v0.85h-0.85zM819.9 74.8h0.85v0.85h-0.85zM792.8 102.8h0.85v0.85h-0.85zM824.4 72.1h0.85v0.85h-0.85zM799.1 105.1h0.85v0.85h-0.85zM805.4 87.9h0.85v0.85h-0.85zM846.4 59.9h0.85v0.85h-0.85zM796.8 99.1h0.85v0.85h-0.85zM809.4 87.1h0.85v0.85h-0.85zM805.8 92.1h0.85v0.85h-0.85zM809.4 93.4h0.85v0.85h-0.85zM859.3 43.0h0.85v0.85h-0.85zM825.8 69.1h0.85v0.85h-0.85zM820.1 74.2h0.85v0.85h-0.85zM809.9 95.2h0.85v0.85h-0.85zM853.5 44.4h0.85v0.85h-0.85zM827.9 70.9h0.85v0.85h-0.85zM848.2 51.3h0.85v0.85h-0.85zM809.1 91.4h0.85v0.85h-0.85zM831.4 75.9h0.85v0.85h-0.85zM840.3 58.5h0.85v0.85h-0.85zM804.1 129.8h0.85v0.85h-0.85zM829.2 71.6h0.85v0.85h-0.85zM816.3 89.8h0.85v0.85h-0.85zM817.9 81.3h0.85v0.85h-0.85zM837.7 61.5h0.85v0.85h-0.85zM836.4 62.4h0.85v0.85h-0.85zM835.9 64.1h0.85v0.85h-0.85zM850.5 47.1h0.85v0.85h-0.85zM800.9 95.0h0.85v0.85h-0.85zM821.3 87.6h0.85v0.85h-0.85zM836.9 64.9h0.85v0.85h-0.85zM792.8 103.9h0.85v0.85h-0.85zM798.9 100.2h0.85v0.85h-0.85zM826.4 84.5h0.85v0.85h-0.85zM807.1 97.0h0.85v0.85h-0.85zM857.6 44.0h0.85v0.85h-0.85zM792.2 98.0h0.85v0.85h-0.85zM837.4 72.3h0.85v0.85h-0.85zM790.9 107.6h0.85v0.85h-0.85zM823.1 77.5h0.85v0.85h-0.85zM839.0 63.2h0.85v0.85h-0.85zM820.1 81.7h0.85v0.85h-0.85zM850.9 44.9h0.85v0.85h-0.85zM833.0 88.3h0.85v0.85h-0.85zM801.2 89.0h0.85v0.85h-0.85zM834.9 63.3h0.85v0.85h-0.85zM795.9 102.4h0.85v0.85h-0.85zM800.5 98.6h0.85v0.85h-0.85zM844.8 52.4h0.85v0.85h-0.85zM841.3 56.8h0.85v0.85h-0.85zM805.3 92.5h0.85v0.85h-0.85zM822.4 74.0h0.85v0.85h-0.85zM815.2 82.7h0.85v0.85h-0.85zM821.9 72.7h0.85v0.85h-0.85zM793.8 104.8h0.85v0.85h-0.85zM856.1 45.3h0.85v0.85h-0.85zM824.2 77.6h0.85v0.85h-0.85zM824.3 74.9h0.85v0.85h-0.85zM818.7 81.1h0.85v0.85h-0.85zM826.6 77.1h0.85v0.85h-0.85zM836.8 77.2h0.85v0.85h-0.85zM832.1 66.1h0.85v0.85h-0.85zM797.3 107.1h0.85v0.85h-0.85zM819.3 80.3h0.85v0.85h-0.85zM807.7 107.2h0.85v0.85h-0.85zM843.8 54.8h0.85v0.85h-0.85zM850.2 51.1h0.85v0.85h-0.85zM802.6 105.0h0.85v0.85h-0.85zM853.3 52.4h0.85v0.85h-0.85zM834.7 63.4h0.85v0.85h-0.85zM828.4 72.5h0.85v0.85h-0.85zM848.4 58.2h0.85v0.85h-0.85zM801.1 98.1h0.85v0.85h-0.85zM822.7 81.2h0.85v0.85h-0.85zM788.1 109.3h0.85v0.85h-0.85zM795.9 98.7h0.85v0.85h-0.85zM829.7 71.2h0.85v0.85h-0.85zM798.5 96.7h0.85v0.85h-0.85zM835.8 76.3h0.85v0.85h-0.85zM801.3 115.9h0.85v0.85h-0.85zM845.3 59.0h0.85v0.85h-0.85zM819.9 86.2h0.85v0.85h-0.85zM804.6 91.2h0.85v0.85h-0.85zM855.6 49.0h0.85v0.85h-0.85zM853.5 44.5h0.85v0.85h-0.85zM846.6 51.4h0.85v0.85h-0.85zM831.0 69.8h0.85v0.85h-0.85zM831.5 74.6h0.85v0.85h-0.85zM828.3 72.9h0.85v0.85h-0.85zM811.9 130.9h0.85v0.85h-0.85zM805.8 97.6h0.85v0.85h-0.85zM795.3 96.2h0.85v0.85h-0.85zM802.4 96.0h0.85v0.85h-0.85zM849.7 56.7h0.85v0.85h-0.85zM837.0 67.1h0.85v0.85h-0.85zM821.6 80.2h0.85v0.85h-0.85zM820.2 81.8h0.85v0.85h-0.85zM812.9 87.8h0.85v0.85h-0.85zM797.5 96.5h0.85v0.85h-0.85zM825.7 76.2h0.85v0.85h-0.85zM825.4 72.0h0.85v0.85h-0.85zM812.9 89.8h0.85v0.85h-0.85zM850.8 50.0h0.85v0.85h-0.85zM854.0 45.8h0.85v0.85h-0.85zM822.9 74.7h0.85v0.85h-0.85zM819.2 82.8h0.85v0.85h-0.85zM812.3 87.0h0.85v0.85h-0.85zM804.9 89.0h0.85v0.85h-0.85zM831.1 79.8h0.85v0.85h-0.85zM803.7 90.0h0.85v0.85h-0.85zM837.2 63.6h0.85v0.85h-0.85zM798.8 99.5h0.85v0.85h-0.85zM843.7 57.9h0.85v0.85h-0.85zM802.2 94.0h0.85v0.85h-0.85zM856.6 49.2h0.85v0.85h-0.85zM803.2 99.4h0.85v0.85h-0.85zM844.5 57.4h0.85v0.85h-0.85zM830.6 74.4h0.85v0.85h-0.85zM806.0 97.7h0.85v0.85h-0.85zM793.9 113.0h0.85v0.85h-0.85zM814.3 89.0h0.85v0.85h-0.85zM792.6 104.1h0.85v0.85h-0.85zM797.7 99.4h0.85v0.85h-0.85zM793.4 114.0h0.85v0.85h-0.85zM831.1 63.9h0.85v0.85h-0.85zM793.1 109.5h0.85v0.85h-0.85zM825.7 76.6h0.85v0.85h-0.85zM835.8 66.0h0.85v0.85h-0.85zM819.8 88.1h0.85v0.85h-0.85zM820.3 96.3h0.85v0.85h-0.85zM854.2 49.2h0.85v0.85h-0.85zM787.6 109.6h0.85v0.85h-0.85zM801.3 95.1h0.85v0.85h-0.85zM837.1 58.6h0.85v0.85h-0.85zM832.1 73.9h0.85v0.85h-0.85zM813.2 80.4h0.85v0.85h-0.85zM826.2 75.9h0.85v0.85h-0.85zM830.9 61.0h0.85v0.85h-0.85zM802.1 97.5h0.85v0.85h-0.85zM821.2 76.2h0.85v0.85h-0.85zM820.9 78.0h0.85v0.85h-0.85zM803.7 96.3h0.85v0.85h-0.85zM844.3 53.2h0.85v0.85h-0.85zM803.1 102.0h0.85v0.85h-0.85zM785.7 111.1h0.85v0.85h-0.85zM839.2 88.3h0.85v0.85h-0.85zM811.4 84.4h0.85v0.85h-0.85zM804.3 90.7h0.85v0.85h-0.85zM852.9 56.0h0.85v0.85h-0.85zM849.3 59.9h0.85v0.85h-0.85zM855.8 43.2h0.85v0.85h-0.85zM835.9 69.4h0.85v0.85h-0.85zM809.2 92.2h0.85v0.85h-0.85zM833.3 66.1h0.85v0.85h-0.85zM831.7 71.9h0.85v0.85h-0.85zM842.5 67.6h0.85v0.85h-0.85zM857.2 47.7h0.85v0.85h-0.85zM833.1 61.3h0.85v0.85h-0.85zM828.0 67.7h0.85v0.85h-0.85zM827.9 80.5h0.85v0.85h-0.85zM826.5 79.3h0.85v0.85h-0.85zM821.1 82.2h0.85v0.85h-0.85zM818.8 79.3h0.85v0.85h-0.85zM809.9 90.7h0.85v0.85h-0.85zM850.5 50.7h0.85v0.85h-0.85zM826.5 72.4h0.85v0.85h-0.85zM812.3 98.4h0.85v0.85h-0.85zM835.2 73.5h0.85v0.85h-0.85zM809.0 88.7h0.85v0.85h-0.85zM837.4 68.1h0.85v0.85h-0.85zM806.5 87.3h0.85v0.85h-0.85zM825.8 77.7h0.85v0.85h-0.85zM823.4 79.9h0.85v0.85h-0.85zM788.6 116.0h0.85v0.85h-0.85zM842.9 55.0h0.85v0.85h-0.85zM808.6 86.7h0.85v0.85h-0.85zM847.5 53.8h0.85v0.85h-0.85zM797.2 99.4h0.85v0.85h-0.85zM819.0 82.5h0.85v0.85h-0.85zM857.8 42.0h0.85v0.85h-0.85zM782.9 109.6h0.85v0.85h-0.85zM784.4 108.5h0.85v0.85h-0.85zM799.5 99.2h0.85v0.85h-0.85zM823.5 76.8h0.85v0.85h-0.85zM818.4 81.5h0.85v0.85h-0.85zM847.8 53.3h0.85v0.85h-0.85zM814.5 83.5h0.85v0.85h-0.85zM844.4 57.6h0.85v0.85h-0.85zM846.8 61.4h0.85v0.85h-0.85zM808.6 88.8h0.85v0.85h-0.85zM849.2 48.6h0.85v0.85h-0.85zM851.3 46.2h0.85v0.85h-0.85zM832.0 69.3h0.85v0.85h-0.85zM860.5 67.6h0.85v0.85h-0.85zM800.9 95.7h0.85v0.85h-0.85zM844.6 69.8h0.85v0.85h-0.85zM844.9 55.7h0.85v0.85h-0.85zM786.0 111.4h0.85v0.85h-0.85zM833.5 65.9h0.85v0.85h-0.85zM818.3 75.7h0.85v0.85h-0.85zM842.9 59.4h0.85v0.85h-0.85zM826.9 71.0h0.85v0.85h-0.85zM790.9 110.9h0.85v0.85h-0.85zM784.2 109.9h0.85v0.85h-0.85zM851.9 46.9h0.85v0.85h-0.85zM804.9 95.6h0.85v0.85h-0.85zM839.2 60.7h0.85v0.85h-0.85zM805.6 96.9h0.85v0.85h-0.85zM857.5 48.0h0.85v0.85h-0.85zM811.0 84.2h0.85v0.85h-0.85zM851.2 49.5h0.85v0.85h-0.85zM794.7 106.6h0.85v0.85h-0.85zM843.8 59.2h0.85v0.85h-0.85zM812.6 81.6h0.85v0.85h-0.85zM819.7 76.9h0.85v0.85h-0.85zM801.1 100.8h0.85v0.85h-0.85zM856.7 44.8h0.85v0.85h-0.85zM817.3 86.4h0.85v0.85h-0.85zM840.0 73.5h0.85v0.85h-0.85zM795.6 121.5h0.85v0.85h-0.85zM820.6 82.4h0.85v0.85h-0.85zM796.8 108.0h0.85v0.85h-0.85zM796.6 106.8h0.85v0.85h-0.85zM842.0 59.2h0.85v0.85h-0.85zM841.6 59.9h0.85v0.85h-0.85zM818.2 91.8h0.85v0.85h-0.85zM834.9 62.3h0.85v0.85h-0.85zM839.1 67.0h0.85v0.85h-0.85zM830.2 67.2h0.85v0.85h-0.85zM795.0 94.5h0.85v0.85h-0.85zM819.2 79.7h0.85v0.85h-0.85zM853.4 66.5h0.85v0.85h-0.85zM795.9 100.3h0.85v0.85h-0.85zM821.2 86.2h0.85v0.85h-0.85zM795.3 107.8h0.85v0.85h-0.85zM813.1 80.0h0.85v0.85h-0.85zM794.0 100.5h0.85v0.85h-0.85zM849.5 52.7h0.85v0.85h-0.85zM838.0 60.1h0.85v0.85h-0.85zM850.6 49.4h0.85v0.85h-0.85zM829.1 97.1h0.85v0.85h-0.85zM820.6 86.9h0.85v0.85h-0.85zM855.3 45.8h0.85v0.85h-0.85zM786.1 111.2h0.85v0.85h-0.85zM856.8 43.5h0.85v0.85h-0.85zM844.5 58.1h0.85v0.85h-0.85zM838.4 65.3h0.85v0.85h-0.85zM814.9 89.7h0.85v0.85h-0.85zM797.8 105.5h0.85v0.85h-0.85zM820.9 83.3h0.85v0.85h-0.85zM798.0 98.2h0.85v0.85h-0.85zM805.4 91.2h0.85v0.85h-0.85zM818.0 81.5h0.85v0.85h-0.85zM801.9 96.7h0.85v0.85h-0.85zM824.4 74.6h0.85v0.85h-0.85zM806.0 89.9h0.85v0.85h-0.85zM811.1 89.8h0.85v0.85h-0.85zM812.4 95.7h0.85v0.85h-0.85zM804.2 103.7h0.85v0.85h-0.85zM858.0 44.8h0.85v0.85h-0.85zM843.4 66.1h0.85v0.85h-0.85zM805.5 103.3h0.85v0.85h-0.85zM818.5 86.3h0.85v0.85h-0.85zM847.9 55.1h0.85v0.85h-0.85zM794.8 104.4h0.85v0.85h-0.85zM833.4 61.8h0.85v0.85h-0.85zM846.9 52.4h0.85v0.85h-0.85zM792.2 112.9h0.85v0.85h-0.85zM813.0 86.7h0.85v0.85h-0.85zM805.5 101.8h0.85v0.85h-0.85zM814.9 82.2h0.85v0.85h-0.85zM822.7 74.7h0.85v0.85h-0.85zM800.5 95.8h0.85v0.85h-0.85zM799.2 96.3h0.85v0.85h-0.85zM788.0 104.1h0.85v0.85h-0.85zM787.4 108.5h0.85v0.85h-0.85zM808.9 85.4h0.85v0.85h-0.85zM791.5 104.6h0.85v0.85h-0.85zM858.9 47.5h0.85v0.85h-0.85zM851.3 45.3h0.85v0.85h-0.85zM816.9 78.4h0.85v0.85h-0.85zM830.9 78.7h0.85v0.85h-0.85zM848.4 46.7h0.85v0.85h-0.85zM858.4 41.8h0.85v0.85h-0.85zM857.7 42.7h0.85v0.85h-0.85zM805.6 97.1h0.85v0.85h-0.85zM838.2 59.2h0.85v0.85h-0.85zM813.0 85.2h0.85v0.85h-0.85zM793.3 106.8h0.85v0.85h-0.85zM805.1 97.0h0.85v0.85h-0.85zM849.0 51.1h0.85v0.85h-0.85zM810.0 91.0h0.85v0.85h-0.85zM813.1 88.2h0.85v0.85h-0.85zM851.2 63.1h0.85v0.85h-0.85zM840.2 71.1h0.85v0.85h-0.85zM804.4 93.4h0.85v0.85h-0.85zM820.2 80.8h0.85v0.85h-0.85zM848.0 50.4h0.85v0.85h-0.85zM811.9 82.0h0.85v0.85h-0.85zM810.0 90.0h0.85v0.85h-0.85zM838.3 65.0h0.85v0.85h-0.85zM853.0 62.5h0.85v0.85h-0.85zM838.4 74.0h0.85v0.85h-0.85zM805.2 89.1h0.85v0.85h-0.85zM824.5 84.3h0.85v0.85h-0.85zM827.6 72.1h0.85v0.85h-0.85zM839.1 73.6h0.85v0.85h-0.85zM794.9 100.8h0.85v0.85h-0.85zM798.9 95.2h0.85v0.85h-0.85zM854.1 50.8h0.85v0.85h-0.85zM815.6 75.2h0.85v0.85h-0.85zM840.9 65.7h0.85v0.85h-0.85zM855.5 39.1h0.85v0.85h-0.85zM797.9 100.9h0.85v0.85h-0.85zM808.1 89.8h0.85v0.85h-0.85zM793.2 104.4h0.85v0.85h-0.85zM826.6 72.8h0.85v0.85h-0.85zM834.3 64.1h0.85v0.85h-0.85zM822.3 93.3h0.85v0.85h-0.85zM791.5 100.2h0.85v0.85h-0.85zM795.5 97.2h0.85v0.85h-0.85zM795.7 99.6h0.85v0.85h-0.85zM807.1 122.0h0.85v0.85h-0.85zM816.0 80.3h0.85v0.85h-0.85zM835.7 64.5h0.85v0.85h-0.85zM807.9 86.0h0.85v0.85h-0.85zM845.5 65.6h0.85v0.85h-0.85zM834.3 62.1h0.85v0.85h-0.85zM793.9 103.3h0.85v0.85h-0.85zM801.4 95.3h0.85v0.85h-0.85zM799.7 97.3h0.85v0.85h-0.85zM815.8 92.0h0.85v0.85h-0.85zM844.2 55.3h0.85v0.85h-0.85zM849.1 47.1h0.85v0.85h-0.85zM836.0 61.5h0.85v0.85h-0.85zM855.7 42.5h0.85v0.85h-0.85zM845.4 54.1h0.85v0.85h-0.85zM841.5 63.4h0.85v0.85h-0.85zM808.7 119.3h0.85v0.85h-0.85zM801.9 93.9h0.85v0.85h-0.85zM805.4 94.6h0.85v0.85h-0.85zM811.4 86.7h0.85v0.85h-0.85zM808.2 124.4h0.85v0.85h-0.85zM820.8 92.0h0.85v0.85h-0.85zM839.2 59.5h0.85v0.85h-0.85zM834.4 61.2h0.85v0.85h-0.85zM851.2 51.7h0.85v0.85h-0.85zM800.8 93.4h0.85v0.85h-0.85zM838.1 59.9h0.85v0.85h-0.85zM788.2 108.8h0.85v0.85h-0.85zM836.1 60.4h0.85v0.85h-0.85zM814.6 91.8h0.85v0.85h-0.85zM837.9 62.4h0.85v0.85h-0.85zM861.7 55.3h0.85v0.85h-0.85zM848.7 51.6h0.85v0.85h-0.85zM793.8 105.4h0.85v0.85h-0.85zM811.3 85.2h0.85v0.85h-0.85zM850.4 47.9h0.85v0.85h-0.85zM828.1 74.8h0.85v0.85h-0.85zM858.3 47.9h0.85v0.85h-0.85zM792.8 102.8h0.85v0.85h-0.85zM799.7 101.2h0.85v0.85h-0.85zM850.0 67.2h0.85v0.85h-0.85zM801.3 115.1h0.85v0.85h-0.85zM855.4 46.0h0.85v0.85h-0.85zM825.5 73.0h0.85v0.85h-0.85zM807.0 90.5h0.85v0.85h-0.85zM844.4 59.1h0.85v0.85h-0.85zM831.1 81.4h0.85v0.85h-0.85zM843.7 53.8h0.85v0.85h-0.85zM812.1 90.4h0.85v0.85h-0.85zM823.1 72.8h0.85v0.85h-0.85zM845.9 54.0h0.85v0.85h-0.85zM794.3 103.8h0.85v0.85h-0.85zM853.3 64.7h0.85v0.85h-0.85zM803.8 90.7h0.85v0.85h-0.85zM800.7 103.8h0.85v0.85h-0.85zM789.3 107.3h0.85v0.85h-0.85zM849.2 49.5h0.85v0.85h-0.85zM821.0 76.9h0.85v0.85h-0.85zM806.5 93.9h0.85v0.85h-0.85zM807.5 86.5h0.85v0.85h-0.85zM856.8 43.2h0.85v0.85h-0.85zM843.3 60.7h0.85v0.85h-0.85zM857.3 52.8h0.85v0.85h-0.85zM832.2 69.7h0.85v0.85h-0.85zM827.7 70.4h0.85v0.85h-0.85zM838.6 61.6h0.85v0.85h-0.85zM839.2 80.2h0.85v0.85h-0.85zM808.7 86.5h0.85v0.85h-0.85zM816.9 84.1h0.85v0.85h-0.85zM845.2 56.2h0.85v0.85h-0.85zM824.0 88.3h0.85v0.85h-0.85zM799.6 98.3h0.85v0.85h-0.85zM854.3 50.5h0.85v0.85h-0.85zM849.6 50.4h0.85v0.85h-0.85zM799.7 99.6h0.85v0.85h-0.85zM842.8 56.4h0.85v0.85h-0.85zM845.7 50.2h0.85v0.85h-0.85zM822.2 81.5h0.85v0.85h-0.85zM798.9 96.4h0.85v0.85h-0.85zM787.3 111.2h0.85v0.85h-0.85zM853.0 46.8h0.85v0.85h-0.85zM843.7 58.3h0.85v0.85h-0.85zM842.3 65.8h0.85v0.85h-0.85zM815.4 81.0h0.85v0.85h-0.85zM812.3 85.7h0.85v0.85h-0.85zM857.9 44.1h0.85v0.85h-0.85zM796.8 121.0h0.85v0.85h-0.85zM801.6 95.4h0.85v0.85h-0.85zM796.4 99.0h0.85v0.85h-0.85zM799.7 108.8h0.85v0.85h-0.85zM808.4 85.7h0.85v0.85h-0.85zM853.6 49.8h0.85v0.85h-0.85zM814.5 82.6h0.85v0.85h-0.85zM821.0 75.7h0.85v0.85h-0.85zM810.6 83.0h0.85v0.85h-0.85zM792.0 99.1h0.85v0.85h-0.85zM829.5 69.4h0.85v0.85h-0.85zM834.3 61.1h0.85v0.85h-0.85zM840.6 57.3h0.85v0.85h-0.85zM840.0 71.3h0.85v0.85h-0.85zM854.8 72.3h0.85v0.85h-0.85zM813.2 85.6h0.85v0.85h-0.85zM839.9 60.7h0.85v0.85h-0.85zM821.8 74.0h0.85v0.85h-0.85zM800.7 95.1h0.85v0.85h-0.85zM852.0 48.7h0.85v0.85h-0.85zM830.3 70.1h0.85v0.85h-0.85zM802.5 121.4h0.85v0.85h-0.85zM854.1 46.2h0.85v0.85h-0.85zM805.4 99.0h0.85v0.85h-0.85zM822.8 89.0h0.85v0.85h-0.85zM849.6 49.4h0.85v0.85h-0.85zM812.9 90.2h0.85v0.85h-0.85zM831.2 64.7h0.85v0.85h-0.85zM855.3 50.0h0.85v0.85h-0.85zM806.9 96.8h0.85v0.85h-0.85zM826.3 69.1h0.85v0.85h-0.85zM839.2 58.6h0.85v0.85h-0.85zM832.5 65.5h0.85v0.85h-0.85zM807.6 106.9h0.85v0.85h-0.85zM856.5 42.2h0.85v0.85h-0.85zM790.1 108.3h0.85v0.85h-0.85zM798.6 125.4h0.85v0.85h-0.85zM848.7 60.1h0.85v0.85h-0.85zM789.4 113.3h0.85v0.85h-0.85zM836.3 66.1h0.85v0.85h-0.85zM807.4 84.4h0.85v0.85h-0.85zM839.2 60.7h0.85v0.85h-0.85zM796.9 100.1h0.85v0.85h-0.85zM810.7 103.5h0.85v0.85h-0.85zM841.8 58.8h0.85v0.85h-0.85zM844.3 55.2h0.85v0.85h-0.85zM808.6 82.8h0.85v0.85h-0.85zM811.2 92.7h0.85v0.85h-0.85zM847.6 54.4h0.85v0.85h-0.85zM788.3 107.2h0.85v0.85h-0.85zM843.0 65.8h0.85v0.85h-0.85zM842.5 60.8h0.85v0.85h-0.85zM836.4 62.7h0.85v0.85h-0.85zM848.5 53.5h0.85v0.85h-0.85zM823.6 87.7h0.85v0.85h-0.85zM842.4 64.0h0.85v0.85h-0.85zM811.0 84.1h0.85v0.85h-0.85zM827.2 69.0h0.85v0.85h-0.85zM794.5 104.9h0.85v0.85h-0.85zM836.0 69.5h0.85v0.85h-0.85zM811.6 86.1h0.85v0.85h-0.85zM789.6 113.9h0.85v0.85h-0.85zM807.4 91.8h0.85v0.85h-0.85zM822.9 80.0h0.85v0.85h-0.85zM843.1 62.1h0.85v0.85h-0.85zM786.2 112.9h0.85v0.85h-0.85zM833.4 66.7h0.85v0.85h-0.85zM832.5 72.7h0.85v0.85h-0.85zM802.7 96.0h0.85v0.85h-0.85zM816.9 78.5h0.85v0.85h-0.85zM834.4 68.9h0.85v0.85h-0.85zM829.7 97.4h0.85v0.85h-0.85zM794.5 100.8h0.85v0.85h-0.85zM819.5 78.1h0.85v0.85h-0.85zM839.3 64.9h0.85v0.85h-0.85zM830.3 83.1h0.85v0.85h-0.85zM855.2 46.1h0.85v0.85h-0.85zM790.2 106.6h0.85v0.85h-0.85zM834.2 63.9h0.85v0.85h-0.85zM835.9 62.0h0.85v0.85h-0.85zM855.8 46.0h0.85v0.85h-0.85zM814.4 93.4h0.85v0.85h-0.85zM808.2 104.7h0.85v0.85h-0.85zM852.1 44.5h0.85v0.85h-0.85zM831.0 69.8h0.85v0.85h-0.85zM815.6 85.1h0.85v0.85h-0.85zM801.9 96.8h0.85v0.85h-0.85zM798.6 102.9h0.85v0.85h-0.85zM796.0 106.4h0.85v0.85h-0.85zM819.9 77.2h0.85v0.85h-0.85zM800.8 92.2h0.85v0.85h-0.85zM835.4 66.8h0.85v0.85h-0.85zM857.1 41.7h0.85v0.85h-0.85zM849.9 52.8h0.85v0.85h-0.85zM800.7 96.2h0.85v0.85h-0.85zM806.9 104.1h0.85v0.85h-0.85zM804.0 95.1h0.85v0.85h-0.85zM806.1 103.6h0.85v0.85h-0.85zM784.3 105.6h0.85v0.85h-0.85zM810.7 94.9h0.85v0.85h-0.85zM853.4 52.0h0.85v0.85h-0.85zM828.9 87.2h0.85v0.85h-0.85zM828.9 70.0h0.85v0.85h-0.85zM847.0 60.1h0.85v0.85h-0.85zM829.1 69.0h0.85v0.85h-0.85zM810.2 94.1h0.85v0.85h-0.85zM856.5 50.5h0.85v0.85h-0.85zM806.2 86.7h0.85v0.85h-0.85zM815.5 84.1h0.85v0.85h-0.85zM853.1 62.2h0.85v0.85h-0.85zM822.6 72.4h0.85v0.85h-0.85zM846.3 70.0h0.85v0.85h-0.85zM792.0 105.9h0.85v0.85h-0.85zM798.4 102.5h0.85v0.85h-0.85zM792.0 105.1h0.85v0.85h-0.85zM791.0 103.6h0.85v0.85h-0.85zM786.6 110.6h0.85v0.85h-0.85zM855.2 49.8h0.85v0.85h-0.85zM811.0 86.9h0.85v0.85h-0.85zM851.0 49.3h0.85v0.85h-0.85zM844.4 54.9h0.85v0.85h-0.85zM845.8 55.8h0.85v0.85h-0.85zM826.3 76.2h0.85v0.85h-0.85zM829.7 73.5h0.85v0.85h-0.85zM836.2 62.3h0.85v0.85h-0.85zM790.0 96.4h0.85v0.85h-0.85zM803.8 101.1h0.85v0.85h-0.85zM822.0 95.5h0.85v0.85h-0.85zM838.6 70.8h0.85v0.85h-0.85zM818.4 78.0h0.85v0.85h-0.85zM811.7 98.1h0.85v0.85h-0.85zM822.9 70.3h0.85v0.85h-0.85zM826.2 93.1h0.85v0.85h-0.85zM839.4 59.6h0.85v0.85h-0.85zM794.9 98.5h0.85v0.85h-0.85zM798.5 111.3h0.85v0.85h-0.85zM805.9 106.6h0.85v0.85h-0.85zM858.5 45.2h0.85v0.85h-0.85zM856.5 43.5h0.85v0.85h-0.85zM803.5 120.3h0.85v0.85h-0.85zM792.2 114.1h0.85v0.85h-0.85zM867.4 57.3h0.85v0.85h-0.85zM793.6 100.4h0.85v0.85h-0.85zM821.6 77.1h0.85v0.85h-0.85zM852.4 56.2h0.85v0.85h-0.85zM819.7 83.7h0.85v0.85h-0.85zM787.2 108.5h0.85v0.85h-0.85zM797.7 102.9h0.85v0.85h-0.85zM831.2 65.9h0.85v0.85h-0.85zM796.1 107.2h0.85v0.85h-0.85zM786.7 104.9h0.85v0.85h-0.85zM803.3 94.3h0.85v0.85h-0.85zM798.7 102.5h0.85v0.85h-0.85zM861.4 49.9h0.85v0.85h-0.85zM825.5 72.0h0.85v0.85h-0.85zM791.8 102.8h0.85v0.85h-0.85zM856.0 40.8h0.85v0.85h-0.85zM786.5 108.7h0.85v0.85h-0.85zM829.3 70.1h0.85v0.85h-0.85zM812.6 86.7h0.85v0.85h-0.85zM854.1 62.6h0.85v0.85h-0.85zM834.0 60.1h0.85v0.85h-0.85zM820.4 75.2h0.85v0.85h-0.85zM804.8 87.7h0.85v0.85h-0.85zM849.6 56.0h0.85v0.85h-0.85zM855.0 44.1h0.85v0.85h-0.85zM847.1 53.8h0.85v0.85h-0.85zM819.2 83.7h0.85v0.85h-0.85zM783.1 107.0h0.85v0.85h-0.85zM846.5 52.2h0.85v0.85h-0.85zM819.0 92.7h0.85v0.85h-0.85zM805.3 89.6h0.85v0.85h-0.85zM828.6 77.5h0.85v0.85h-0.85zM831.2 71.3h0.85v0.85h-0.85zM848.9 51.4h0.85v0.85h-0.85zM790.9 106.3h0.85v0.85h-0.85zM814.2 78.6h0.85v0.85h-0.85zM817.3 82.9h0.85v0.85h-0.85zM818.5 88.8h0.85v0.85h-0.85zM829.0 69.7h0.85v0.85h-0.85zM801.7 95.0h0.85v0.85h-0.85zM856.0 52.2h0.85v0.85h-0.85zM846.9 52.0h0.85v0.85h-0.85zM844.6 54.3h0.85v0.85h-0.85zM803.3 93.2h0.85v0.85h-0.85zM808.3 97.9h0.85v0.85h-0.85zM853.0 47.0h0.85v0.85h-0.85zM842.2 59.2h0.85v0.85h-0.85zM789.7 108.4h0.85v0.85h-0.85zM842.3 60.1h0.85v0.85h-0.85zM822.0 75.3h0.85v0.85h-0.85zM848.9 49.9h0.85v0.85h-0.85zM806.1 95.2h0.85v0.85h-0.85zM825.0 76.2h0.85v0.85h-0.85zM837.9 58.6h0.85v0.85h-0.85zM819.9 78.9h0.85v0.85h-0.85zM828.2 71.5h0.85v0.85h-0.85zM824.5 70.1h0.85v0.85h-0.85zM822.2 79.9h0.85v0.85h-0.85zM791.7 114.9h0.85v0.85h-0.85zM854.5 55.8h0.85v0.85h-0.85zM835.6 64.9h0.85v0.85h-0.85zM811.4 95.3h0.85v0.85h-0.85zM800.1 96.2h0.85v0.85h-0.85zM797.0 102.1h0.85v0.85h-0.85zM804.0 95.6h0.85v0.85h-0.85zM837.0 66.6h0.85v0.85h-0.85zM820.4 80.4h0.85v0.85h-0.85zM855.2 51.2h0.85v0.85h-0.85zM830.5 69.3h0.85v0.85h-0.85zM847.1 53.5h0.85v0.85h-0.85zM850.2 53.2h0.85v0.85h-0.85zM838.6 64.9h0.85v0.85h-0.85zM836.0 59.6h0.85v0.85h-0.85zM796.7 107.8h0.85v0.85h-0.85zM790.5 110.1h0.85v0.85h-0.85zM850.6 56.8h0.85v0.85h-0.85zM858.5 47.3h0.85v0.85h-0.85zM795.0 113.0h0.85v0.85h-0.85zM822.3 77.7h0.85v0.85h-0.85zM853.2 47.6h0.85v0.85h-0.85zM819.8 83.7h0.85v0.85h-0.85zM827.4 74.6h0.85v0.85h-0.85zM804.0 102.7h0.85v0.85h-0.85zM804.7 120.6h0.85v0.85h-0.85zM843.8 54.4h0.85v0.85h-0.85zM791.8 104.7h0.85v0.85h-0.85zM784.5 101.9h0.85v0.85h-0.85zM846.9 51.2h0.85v0.85h-0.85zM834.1 67.5h0.85v0.85h-0.85zM854.6 51.8h0.85v0.85h-0.85zM854.4 45.3h0.85v0.85h-0.85zM833.4 67.1h0.85v0.85h-0.85zM817.6 94.7h0.85v0.85h-0.85zM826.2 71.7h0.85v0.85h-0.85zM819.8 78.2h0.85v0.85h-0.85zM820.4 76.4h0.85v0.85h-0.85zM818.3 81.9h0.85v0.85h-0.85zM826.7 78.3h0.85v0.85h-0.85zM818.7 96.6h0.85v0.85h-0.85zM810.2 108.9h0.85v0.85h-0.85zM791.1 100.7h0.85v0.85h-0.85zM848.2 55.1h0.85v0.85h-0.85zM823.7 74.3h0.85v0.85h-0.85zM846.4 48.9h0.85v0.85h-0.85zM845.7 52.5h0.85v0.85h-0.85zM818.1 78.2h0.85v0.85h-0.85zM804.1 94.1h0.85v0.85h-0.85zM855.8 47.8h0.85v0.85h-0.85zM812.3 84.7h0.85v0.85h-0.85zM825.1 71.0h0.85v0.85h-0.85zM801.7 94.1h0.85v0.85h-0.85zM844.8 72.8h0.85v0.85h-0.85zM817.5 94.5h0.85v0.85h-0.85zM819.9 82.7h0.85v0.85h-0.85zM858.4 52.6h0.85v0.85h-0.85zM814.6 81.2h0.85v0.85h-0.85zM842.7 59.9h0.85v0.85h-0.85zM789.9 99.9h0.85v0.85h-0.85zM834.9 61.2h0.85v0.85h-0.85zM814.3 87.2h0.85v0.85h-0.85zM809.4 96.0h0.85v0.85h-0.85zM827.1 71.5h0.85v0.85h-0.85zM855.6 40.3h0.85v0.85h-0.85zM794.4 108.1h0.85v0.85h-0.85zM859.0 48.3h0.85v0.85h-0.85zM822.4 74.7h0.85v0.85h-0.85zM839.6 61.6h0.85v0.85h-0.85zM840.1 62.8h0.85v0.85h-0.85zM803.6 103.9h0.85v0.85h-0.85zM808.4 100.7h0.85v0.85h-0.85zM794.3 102.7h0.85v0.85h-0.85zM788.0 115.1h0.85v0.85h-0.85zM791.2 113.3h0.85v0.85h-0.85zM816.1 83.0h0.85v0.85h-0.85zM818.9 79.3h0.85v0.85h-0.85zM799.8 95.3h0.85v0.85h-0.85zM855.3 46.1h0.85v0.85h-0.85zM851.1 47.0h0.85v0.85h-0.85zM811.5 86.7h0.85v0.85h-0.85zM807.0 92.7h0.85v0.85h-0.85zM853.8 45.7h0.85v0.85h-0.85zM821.2 76.3h0.85v0.85h-0.85zM800.9 95.1h0.85v0.85h-0.85zM784.6 109.0h0.85v0.85h-0.85zM820.6 79.3h0.85v0.85h-0.85zM800.1 114.2h0.85v0.85h-0.85zM798.4 114.2h0.85v0.85h-0.85zM790.8 109.9h0.85v0.85h-0.85zM856.7 45.8h0.85v0.85h-0.85zM852.6 47.2h0.85v0.85h-0.85zM795.9 99.9h0.85v0.85h-0.85zM793.8 101.0h0.85v0.85h-0.85zM832.8 71.7h0.85v0.85h-0.85zM816.1 76.6h0.85v0.85h-0.85zM799.1 103.0h0.85v0.85h-0.85zM812.0 118.7h0.85v0.85h-0.85zM826.4 72.9h0.85v0.85h-0.85zM800.4 97.7h0.85v0.85h-0.85zM794.7 101.5h0.85v0.85h-0.85zM841.8 67.7h0.85v0.85h-0.85zM836.6 65.3h0.85v0.85h-0.85zM859.6 43.3h0.85v0.85h-0.85zM796.9 119.4h0.85v0.85h-0.85zM849.9 51.9h0.85v0.85h-0.85zM827.5 74.2h0.85v0.85h-0.85zM826.4 72.2h0.85v0.85h-0.85zM807.8 109.1h0.85v0.85h-0.85zM800.5 96.5h0.85v0.85h-0.85zM840.3 58.7h0.85v0.85h-0.85zM790.4 104.7h0.85v0.85h-0.85zM829.0 71.9h0.85v0.85h-0.85zM809.3 90.3h0.85v0.85h-0.85zM832.0 74.0h0.85v0.85h-0.85zM793.5 105.4h0.85v0.85h-0.85zM797.9 101.7h0.85v0.85h-0.85zM855.0 45.2h0.85v0.85h-0.85zM816.6 87.1h0.85v0.85h-0.85zM807.2 91.3h0.85v0.85h-0.85zM840.2 63.3h0.85v0.85h-0.85zM821.4 80.1h0.85v0.85h-0.85zM856.0 52.0h0.85v0.85h-0.85zM827.0 77.6h0.85v0.85h-0.85zM824.0 79.2h0.85v0.85h-0.85zM799.6 101.2h0.85v0.85h-0.85zM808.8 86.3h0.85v0.85h-0.85zM799.2 103.6h0.85v0.85h-0.85zM794.8 106.3h0.85v0.85h-0.85zM807.3 113.7h0.85v0.85h-0.85zM826.6 92.5h0.85v0.85h-0.85zM819.5 80.9h0.85v0.85h-0.85zM807.1 91.0h0.85v0.85h-0.85zM859.7 43.7h0.85v0.85h-0.85zM816.1 89.8h0.85v0.85h-0.85zM805.9 92.3h0.85v0.85h-0.85zM809.1 97.2h0.85v0.85h-0.85zM811.6 89.2h0.85v0.85h-0.85zM825.0 75.8h0.85v0.85h-0.85zM806.1 89.7h0.85v0.85h-0.85zM831.7 69.1h0.85v0.85h-0.85zM854.6 49.3h0.85v0.85h-0.85zM813.8 84.2h0.85v0.85h-0.85zM806.7 92.6h0.85v0.85h-0.85zM817.4 85.8h0.85v0.85h-0.85zM826.0 66.8h0.85v0.85h-0.85zM801.6 105.3h0.85v0.85h-0.85zM838.2 58.5h0.85v0.85h-0.85zM848.2 53.1h0.85v0.85h-0.85zM819.8 79.1h0.85v0.85h-0.85zM854.9 39.4h0.85v0.85h-0.85zM841.8 53.3h0.85v0.85h-0.85zM854.5 43.8h0.85v0.85h-0.85zM816.3 82.0h0.85v0.85h-0.85zM840.8 64.3h0.85v0.85h-0.85zM843.4 56.1h0.85v0.85h-0.85zM828.0 69.7h0.85v0.85h-0.85zM852.3 53.0h0.85v0.85h-0.85zM829.9 75.6h0.85v0.85h-0.85zM808.8 99.4h0.85v0.85h-0.85zM801.3 96.3h0.85v0.85h-0.85zM834.1 67.9h0.85v0.85h-0.85zM845.3 51.5h0.85v0.85h-0.85zM848.7 50.3h0.85v0.85h-0.85zM802.1 94.2h0.85v0.85h-0.85zM825.6 73.5h0.85v0.85h-0.85zM852.1 48.9h0.85v0.85h-0.85zM829.4 72.4h0.85v0.85h-0.85zM808.4 89.9h0.85v0.85h-0.85zM858.9 43.3h0.85v0.85h-0.85zM834.7 72.1h0.85v0.85h-0.85zM807.2 88.6h0.85v0.85h-0.85zM832.0 67.5h0.85v0.85h-0.85zM801.1 97.8h0.85v0.85h-0.85zM824.3 71.4h0.85v0.85h-0.85zM814.4 80.1h0.85v0.85h-0.85zM851.8 47.6h0.85v0.85h-0.85zM830.6 75.4h0.85v0.85h-0.85zM849.9 59.7h0.85v0.85h-0.85zM788.0 112.8h0.85v0.85h-0.85zM826.7 69.9h0.85v0.85h-0.85zM795.1 100.5h0.85v0.85h-0.85zM855.8 45.6h0.85v0.85h-0.85zM813.0 112.1h0.85v0.85h-0.85zM847.6 64.0h0.85v0.85h-0.85zM847.3 54.5h0.85v0.85h-0.85zM838.1 81.0h0.85v0.85h-0.85zM811.1 86.7h0.85v0.85h-0.85zM783.5 108.6h0.85v0.85h-0.85zM798.2 105.6h0.85v0.85h-0.85zM794.7 101.9h0.85v0.85h-0.85zM849.4 52.0h0.85v0.85h-0.85zM817.3 84.4h0.85v0.85h-0.85zM809.8 84.5h0.85v0.85h-0.85zM786.4 109.7h0.85v0.85h-0.85zM852.9 48.7h0.85v0.85h-0.85zM805.9 111.1h0.85v0.85h-0.85zM855.3 44.7h0.85v0.85h-0.85zM800.7 110.4h0.85v0.85h-0.85zM840.2 60.5h0.85v0.85h-0.85zM836.2 67.4h0.85v0.85h-0.85zM808.9 89.0h0.85v0.85h-0.85zM838.7 58.2h0.85v0.85h-0.85zM820.5 82.9h0.85v0.85h-0.85zM841.5 61.6h0.85v0.85h-0.85zM802.4 93.0h0.85v0.85h-0.85zM819.1 103.0h0.85v0.85h-0.85zM807.7 77.5h0.85v0.85h-0.85zM845.7 61.4h0.85v0.85h-0.85zM826.0 72.2h0.85v0.85h-0.85zM835.4 62.7h0.85v0.85h-0.85zM850.7 49.3h0.85v0.85h-0.85zM794.6 111.5h0.85v0.85h-0.85zM789.2 108.1h0.85v0.85h-0.85zM814.7 85.8h0.85v0.85h-0.85zM810.3 94.8h0.85v0.85h-0.85zM848.4 48.9h0.85v0.85h-0.85zM812.3 84.7h0.85v0.85h-0.85zM852.8 54.1h0.85v0.85h-0.85zM857.2 42.9h0.85v0.85h-0.85zM795.3 117.1h0.85v0.85h-0.85zM846.3 66.8h0.85v0.85h-0.85zM785.8 109.7h0.85v0.85h-0.85zM817.8 79.1h0.85v0.85h-0.85zM808.1 84.8h0.85v0.85h-0.85zM834.1 69.1h0.85v0.85h-0.85zM848.3 52.8h0.85v0.85h-0.85zM829.2 68.2h0.85v0.85h-0.85zM816.9 109.7h0.85v0.85h-0.85zM845.7 52.9h0.85v0.85h-0.85zM836.9 62.2h0.85v0.85h-0.85zM840.5 64.3h0.85v0.85h-0.85zM826.8 73.7h0.85v0.85h-0.85zM853.4 44.2h0.85v0.85h-0.85zM814.8 94.9h0.85v0.85h-0.85zM786.9 106.6h0.85v0.85h-0.85zM833.5 72.6h0.85v0.85h-0.85zM853.5 39.4h0.85v0.85h-0.85zM849.7 50.4h0.85v0.85h-0.85zM810.4 87.2h0.85v0.85h-0.85zM825.7 77.7h0.85v0.85h-0.85zM834.7 63.7h0.85v0.85h-0.85zM798.8 100.1h0.85v0.85h-0.85zM835.1 76.4h0.85v0.85h-0.85zM821.2 75.4h0.85v0.85h-0.85zM844.8 55.8h0.85v0.85h-0.85zM828.2 70.5h0.85v0.85h-0.85zM843.7 51.1h0.85v0.85h-0.85zM810.0 88.7h0.85v0.85h-0.85zM843.3 53.8h0.85v0.85h-0.85zM828.2 72.8h0.85v0.85h-0.85zM843.5 59.8h0.85v0.85h-0.85zM839.0 59.9h0.85v0.85h-0.85zM839.4 60.4h0.85v0.85h-0.85zM809.9 91.2h0.85v0.85h-0.85zM791.9 119.1h0.85v0.85h-0.85zM856.9 42.0h0.85v0.85h-0.85zM819.6 88.3h0.85v0.85h-0.85zM787.0 108.4h0.85v0.85h-0.85zM838.2 74.1h0.85v0.85h-0.85zM799.8 112.0h0.85v0.85h-0.85zM819.7 78.1h0.85v0.85h-0.85zM843.2 64.4h0.85v0.85h-0.85zM841.0 57.6h0.85v0.85h-0.85zM807.1 85.2h0.85v0.85h-0.85zM835.2 82.9h0.85v0.85h-0.85zM786.5 113.6h0.85v0.85h-0.85zM819.1 77.4h0.85v0.85h-0.85zM849.5 49.8h0.85v0.85h-0.85zM812.1 92.7h0.85v0.85h-0.85zM849.7 46.6h0.85v0.85h-0.85zM801.0 102.6h0.85v0.85h-0.85zM826.6 71.1h0.85v0.85h-0.85zM854.8 57.4h0.85v0.85h-0.85zM834.2 64.1h0.85v0.85h-0.85zM816.6 96.7h0.85v0.85h-0.85zM806.4 90.1h0.85v0.85h-0.85zM841.6 68.4h0.85v0.85h-0.85zM835.1 66.8h0.85v0.85h-0.85zM790.8 108.4h0.85v0.85h-0.85zM847.9 51.1h0.85v0.85h-0.85zM802.3 94.7h0.85v0.85h-0.85zM834.1 70.7h0.85v0.85h-0.85zM840.4 66.5h0.85v0.85h-0.85zM839.0 63.0h0.85v0.85h-0.85zM811.4 97.6h0.85v0.85h-0.85zM832.5 87.4h0.85v0.85h-0.85zM805.2 92.0h0.85v0.85h-0.85zM807.2 89.4h0.85v0.85h-0.85zM815.7 82.6h0.85v0.85h-0.85zM818.3 88.4h0.85v0.85h-0.85zM816.0 81.0h0.85v0.85h-0.85zM843.6 54.6h0.85v0.85h-0.85zM845.0 59.1h0.85v0.85h-0.85zM849.9 47.2h0.85v0.85h-0.85zM855.1 54.4h0.85v0.85h-0.85zM790.0 107.8h0.85v0.85h-0.85zM810.5 85.4h0.85v0.85h-0.85zM855.9 45.4h0.85v0.85h-0.85zM852.7 61.7h0.85v0.85h-0.85zM820.7 82.5h0.85v0.85h-0.85zM833.2 67.5h0.85v0.85h-0.85zM836.0 70.8h0.85v0.85h-0.85zM839.7 63.0h0.85v0.85h-0.85zM815.4 85.1h0.85v0.85h-0.85zM804.4 99.2h0.85v0.85h-0.85zM823.8 82.4h0.85v0.85h-0.85zM825.4 80.9h0.85v0.85h-0.85zM788.5 115.1h0.85v0.85h-0.85zM800.7 98.7h0.85v0.85h-0.85zM801.1 97.6h0.85v0.85h-0.85zM824.4 82.8h0.85v0.85h-0.85zM789.9 106.1h0.85v0.85h-0.85zM838.0 60.4h0.85v0.85h-0.85zM855.7 43.1h0.85v0.85h-0.85zM851.9 45.1h0.85v0.85h-0.85zM849.2 49.7h0.85v0.85h-0.85zM816.8 78.5h0.85v0.85h-0.85zM840.1 66.4h0.85v0.85h-0.85zM813.9 81.8h0.85v0.85h-0.85zM854.3 43.4h0.85v0.85h-0.85zM844.5 56.3h0.85v0.85h-0.85zM830.2 77.3h0.85v0.85h-0.85zM798.3 102.2h0.85v0.85h-0.85zM850.7 50.6h0.85v0.85h-0.85zM856.0 55.4h0.85v0.85h-0.85zM833.8 75.1h0.85v0.85h-0.85zM848.8 49.2h0.85v0.85h-0.85zM834.9 63.1h0.85v0.85h-0.85zM845.8 52.9h0.85v0.85h-0.85zM809.6 93.5h0.85v0.85h-0.85zM786.4 110.5h0.85v0.85h-0.85zM815.0 84.4h0.85v0.85h-0.85zM814.1 98.1h0.85v0.85h-0.85zM835.6 62.0h0.85v0.85h-0.85zM820.6 77.3h0.85v0.85h-0.85zM819.6 78.5h0.85v0.85h-0.85zM817.6 79.4h0.85v0.85h-0.85zM795.1 109.1h0.85v0.85h-0.85zM847.3 59.4h0.85v0.85h-0.85zM842.7 69.9h0.85v0.85h-0.85zM789.5 111.3h0.85v0.85h-0.85zM798.9 97.6h0.85v0.85h-0.85zM804.6 99.3h0.85v0.85h-0.85zM813.4 118.1h0.85v0.85h-0.85zM811.7 81.2h0.85v0.85h-0.85zM833.8 77.1h0.85v0.85h-0.85zM802.4 99.0h0.85v0.85h-0.85zM798.1 104.6h0.85v0.85h-0.85zM847.0 53.3h0.85v0.85h-0.85zM841.0 60.0h0.85v0.85h-0.85zM833.5 64.0h0.85v0.85h-0.85zM823.7 79.5h0.85v0.85h-0.85zM828.1 82.1h0.85v0.85h-0.85zM820.9 80.7h0.85v0.85h-0.85zM803.7 94.9h0.85v0.85h-0.85zM806.9 96.4h0.85v0.85h-0.85zM836.1 71.6h0.85v0.85h-0.85zM854.2 47.2h0.85v0.85h-0.85zM801.3 92.2h0.85v0.85h-0.85zM858.4 44.3h0.85v0.85h-0.85zM800.8 108.4h0.85v0.85h-0.85zM848.8 54.1h0.85v0.85h-0.85zM850.6 68.7h0.85v0.85h-0.85zM844.8 55.5h0.85v0.85h-0.85zM818.7 79.9h0.85v0.85h-0.85zM857.3 46.3h0.85v0.85h-0.85zM799.7 104.6h0.85v0.85h-0.85zM846.5 51.9h0.85v0.85h-0.85zM804.5 91.8h0.85v0.85h-0.85zM801.5 95.4h0.85v0.85h-0.85zM807.1 93.0h0.85v0.85h-0.85zM846.9 58.0h0.85v0.85h-0.85zM845.7 69.2h0.85v0.85h-0.85zM821.9 76.6h0.85v0.85h-0.85zM822.0 83.0h0.85v0.85h-0.85zM831.5 66.6h0.85v0.85h-0.85zM792.0 102.7h0.85v0.85h-0.85zM807.5 89.5h0.85v0.85h-0.85zM793.4 102.0h0.85v0.85h-0.85zM797.5 114.1h0.85v0.85h-0.85zM852.9 45.6h0.85v0.85h-0.85zM819.5 84.6h0.85v0.85h-0.85zM838.8 60.8h0.85v0.85h-0.85zM787.4 113.2h0.85v0.85h-0.85zM829.5 96.1h0.85v0.85h-0.85zM802.0 106.2h0.85v0.85h-0.85zM816.5 76.3h0.85v0.85h-0.85zM795.1 115.5h0.85v0.85h-0.85zM863.0 39.1h0.85v0.85h-0.85zM860.4 39.0h0.85v0.85h-0.85zM856.2 44.6h0.85v0.85h-0.85zM860.8 40.3h0.85v0.85h-0.85zM858.8 41.2h0.85v0.85h-0.85zM853.1 44.5h0.85v0.85h-0.85zM863.9 37.3h0.85v0.85h-0.85zM856.3 45.6h0.85v0.85h-0.85zM855.6 45.0h0.85v0.85h-0.85zM857.6 41.3h0.85v0.85h-0.85zM867.9 41.0h0.85v0.85h-0.85zM858.4 43.3h0.85v0.85h-0.85zM855.9 46.0h0.85v0.85h-0.85zM866.2 31.3h0.85v0.85h-0.85zM856.2 42.4h0.85v0.85h-0.85zM865.2 32.3h0.85v0.85h-0.85zM867.4 33.4h0.85v0.85h-0.85zM858.5 40.5h0.85v0.85h-0.85zM865.2 30.6h0.85v0.85h-0.85zM860.2 36.4h0.85v0.85h-0.85zM858.0 41.7h0.85v0.85h-0.85zM869.5 35.0h0.85v0.85h-0.85zM857.4 42.8h0.85v0.85h-0.85zM858.8 44.1h0.85v0.85h-0.85zM855.5 45.9h0.85v0.85h-0.85zM870.4 35.7h0.85v0.85h-0.85zM781.2 131.3h0.85v0.85h-0.85zM767.9 130.9h0.85v0.85h-0.85zM779.2 118.3h0.85v0.85h-0.85zM790.6 108.4h0.85v0.85h-0.85zM785.2 105.9h0.85v0.85h-0.85zM782.1 112.0h0.85v0.85h-0.85zM778.1 116.3h0.85v0.85h-0.85zM776.7 113.5h0.85v0.85h-0.85zM794.7 117.6h0.85v0.85h-0.85zM777.8 119.3h0.85v0.85h-0.85zM777.3 138.1h0.85v0.85h-0.85zM790.6 116.0h0.85v0.85h-0.85zM776.7 105.4h0.85v0.85h-0.85zM778.4 138.2h0.85v0.85h-0.85zM778.9 128.1h0.85v0.85h-0.85zM786.7 122.2h0.85v0.85h-0.85zM783.9 136.7h0.85v0.85h-0.85zM781.5 101.1h0.85v0.85h-0.85zM795.7 121.5h0.85v0.85h-0.85zM780.0 117.0h0.85v0.85h-0.85zM769.9 123.7h0.85v0.85h-0.85zM759.9 119.3h0.85v0.85h-0.85zM784.4 106.0h0.85v0.85h-0.85zM783.5 133.9h0.85v0.85h-0.85zM783.6 114.3h0.85v0.85h-0.85zM779.8 127.6h0.85v0.85h-0.85zM765.0 109.6h0.85v0.85h-0.85zM782.4 122.9h0.85v0.85h-0.85zM784.3 121.4h0.85v0.85h-0.85zM777.8 112.2h0.85v0.85h-0.85zM778.6 121.7h0.85v0.85h-0.85zM780.9 110.0h0.85v0.85h-0.85zM768.6 130.6h0.85v0.85h-0.85zM780.1 126.5h0.85v0.85h-0.85zM769.3 123.6h0.85v0.85h-0.85zM783.6 126.4h0.85v0.85h-0.85zM764.7 119.7h0.85v0.85h-0.85zM790.0 122.5h0.85v0.85h-0.85zM781.3 128.3h0.85v0.85h-0.85zM780.7 120.8h0.85v0.85h-0.85zM782.7 127.4h0.85v0.85h-0.85zM785.1 114.4h0.85v0.85h-0.85zM782.2 120.6h0.85v0.85h-0.85zM792.9 132.6h0.85v0.85h-0.85zM761.2 136.6h0.85v0.85h-0.85zM782.5 129.5h0.85v0.85h-0.85zM792.4 108.9h0.85v0.85h-0.85zM778.2 126.6h0.85v0.85h-0.85zM771.4 118.1h0.85v0.85h-0.85zM794.4 121.7h0.85v0.85h-0.85zM785.1 103.0h0.85v0.85h-0.85zM780.5 119.0h0.85v0.85h-0.85zM780.3 126.5h0.85v0.85h-0.85zM781.2 123.7h0.85v0.85h-0.85zM782.6 126.8h0.85v0.85h-0.85z" fill="#1d2dff"/><path d="M795.1 109.3h0.85v0.85h-0.85zM836.4 63.1h0.85v0.85h-0.85zM793.7 106.4h0.85v0.85h-0.85zM843.4 54.4h0.85v0.85h-0.85zM794.3 110.6h0.85v0.85h-0.85zM827.0 71.2h0.85v0.85h-0.85zM855.7 41.0h0.85v0.85h-0.85zM832.6 68.4h0.85v0.85h-0.85zM851.6 52.8h0.85v0.85h-0.85zM800.8 107.9h0.85v0.85h-0.85zM843.0 56.2h0.85v0.85h-0.85zM805.9 91.0h0.85v0.85h-0.85zM855.6 42.9h0.85v0.85h-0.85zM823.4 73.0h0.85v0.85h-0.85zM821.7 78.7h0.85v0.85h-0.85zM804.3 97.4h0.85v0.85h-0.85zM844.1 53.8h0.85v0.85h-0.85zM852.1 45.5h0.85v0.85h-0.85zM842.1 56.3h0.85v0.85h-0.85zM798.5 102.3h0.85v0.85h-0.85zM809.1 95.6h0.85v0.85h-0.85zM827.3 71.2h0.85v0.85h-0.85zM856.4 49.2h0.85v0.85h-0.85zM802.5 91.7h0.85v0.85h-0.85zM829.6 69.9h0.85v0.85h-0.85zM828.6 83.6h0.85v0.85h-0.85zM846.5 54.4h0.85v0.85h-0.85zM786.6 102.9h0.85v0.85h-0.85zM851.4 49.2h0.85v0.85h-0.85zM854.9 41.5h0.85v0.85h-0.85zM803.8 92.7h0.85v0.85h-0.85zM858.2 46.3h0.85v0.85h-0.85zM862.0 54.5h0.85v0.85h-0.85zM788.8 110.8h0.85v0.85h-0.85zM830.5 70.6h0.85v0.85h-0.85zM838.6 62.2h0.85v0.85h-0.85zM836.4 63.3h0.85v0.85h-0.85zM811.2 95.0h0.85v0.85h-0.85zM817.1 78.8h0.85v0.85h-0.85zM846.6 62.1h0.85v0.85h-0.85zM796.2 116.8h0.85v0.85h-0.85zM832.8 63.9h0.85v0.85h-0.85zM805.5 93.3h0.85v0.85h-0.85zM838.0 63.7h0.85v0.85h-0.85zM847.3 51.1h0.85v0.85h-0.85zM805.8 93.9h0.85v0.85h-0.85zM789.8 113.5h0.85v0.85h-0.85zM824.1 86.3h0.85v0.85h-0.85zM802.9 93.9h0.85v0.85h-0.85zM827.9 87.6h0.85v0.85h-0.85zM842.9 58.2h0.85v0.85h-0.85zM794.1 110.8h0.85v0.85h-0.85zM811.2 88.6h0.85v0.85h-0.85zM788.0 113.8h0.85v0.85h-0.85zM830.1 65.8h0.85v0.85h-0.85zM828.4 67.0h0.85v0.85h-0.85zM816.1 97.5h0.85v0.85h-0.85zM822.7 79.0h0.85v0.85h-0.85zM806.7 91.8h0.85v0.85h-0.85zM820.8 80.1h0.85v0.85h-0.85zM826.7 68.0h0.85v0.85h-0.85zM825.5 73.2h0.85v0.85h-0.85zM793.2 105.9h0.85v0.85h-0.85zM844.2 54.6h0.85v0.85h-0.85zM828.8 68.8h0.85v0.85h-0.85zM791.0 108.2h0.85v0.85h-0.85zM817.7 81.9h0.85v0.85h-0.85zM821.5 76.7h0.85v0.85h-0.85zM826.3 86.3h0.85v0.85h-0.85zM831.4 67.3h0.85v0.85h-0.85zM808.4 89.6h0.85v0.85h-0.85zM804.0 89.7h0.85v0.85h-0.85zM834.4 67.1h0.85v0.85h-0.85zM832.0 69.7h0.85v0.85h-0.85zM793.4 117.0h0.85v0.85h-0.85zM823.6 84.8h0.85v0.85h-0.85zM851.8 54.9h0.85v0.85h-0.85zM845.8 54.9h0.85v0.85h-0.85zM849.8 52.5h0.85v0.85h-0.85zM818.5 80.3h0.85v0.85h-0.85zM801.4 95.1h0.85v0.85h-0.85zM817.8 89.8h0.85v0.85h-0.85zM815.0 83.3h0.85v0.85h-0.85zM848.7 52.3h0.85v0.85h-0.85zM848.9 50.6h0.85v0.85h-0.85zM821.8 77.5h0.85v0.85h-0.85zM833.2 82.3h0.85v0.85h-0.85zM858.1 41.4h0.85v0.85h-0.85zM829.7 66.5h0.85v0.85h-0.85zM787.2 109.9h0.85v0.85h-0.85zM839.9 59.6h0.85v0.85h-0.85zM821.9 72.6h0.85v0.85h-0.85zM860.6 48.8h0.85v0.85h-0.85zM845.0 58.5h0.85v0.85h-0.85zM834.0 68.1h0.85v0.85h-0.85zM791.1 104.5h0.85v0.85h-0.85zM825.7 68.3h0.85v0.85h-0.85zM815.2 78.6h0.85v0.85h-0.85zM806.6 90.5h0.85v0.85h-0.85zM808.4 89.4h0.85v0.85h-0.85zM813.4 85.9h0.85v0.85h-0.85zM815.5 80.9h0.85v0.85h-0.85zM816.6 84.1h0.85v0.85h-0.85zM787.5 106.2h0.85v0.85h-0.85zM803.9 109.5h0.85v0.85h-0.85zM832.7 72.5h0.85v0.85h-0.85zM806.2 94.5h0.85v0.85h-0.85zM801.3 97.7h0.85v0.85h-0.85zM785.7 112.1h0.85v0.85h-0.85zM814.3 87.0h0.85v0.85h-0.85zM850.0 53.2h0.85v0.85h-0.85zM815.6 101.8h0.85v0.85h-0.85zM796.6 98.5h0.85v0.85h-0.85zM833.7 62.8h0.85v0.85h-0.85zM848.6 51.4h0.85v0.85h-0.85zM831.8 66.3h0.85v0.85h-0.85zM823.0 84.0h0.85v0.85h-0.85zM790.5 105.8h0.85v0.85h-0.85zM824.3 76.2h0.85v0.85h-0.85zM817.1 85.7h0.85v0.85h-0.85zM809.3 88.6h0.85v0.85h-0.85zM794.1 102.9h0.85v0.85h-0.85zM838.9 62.4h0.85v0.85h-0.85zM806.5 89.2h0.85v0.85h-0.85zM836.1 65.8h0.85v0.85h-0.85zM842.7 52.3h0.85v0.85h-0.85zM802.4 92.8h0.85v0.85h-0.85zM793.9 105.4h0.85v0.85h-0.85zM831.7 67.0h0.85v0.85h-0.85zM816.0 87.3h0.85v0.85h-0.85zM840.9 57.1h0.85v0.85h-0.85zM848.0 58.3h0.85v0.85h-0.85zM830.9 67.2h0.85v0.85h-0.85zM793.8 116.3h0.85v0.85h-0.85zM864.0 57.4h0.85v0.85h-0.85zM848.6 51.2h0.85v0.85h-0.85zM838.8 59.0h0.85v0.85h-0.85zM807.1 92.2h0.85v0.85h-0.85zM804.3 109.2h0.85v0.85h-0.85zM793.4 116.2h0.85v0.85h-0.85zM854.9 45.4h0.85v0.85h-0.85zM810.9 84.7h0.85v0.85h-0.85zM823.5 79.1h0.85v0.85h-0.85zM839.1 65.1h0.85v0.85h-0.85zM799.2 97.7h0.85v0.85h-0.85zM857.6 44.9h0.85v0.85h-0.85zM814.7 98.7h0.85v0.85h-0.85zM845.4 53.8h0.85v0.85h-0.85zM831.9 65.4h0.85v0.85h-0.85zM811.2 93.8h0.85v0.85h-0.85zM797.5 106.2h0.85v0.85h-0.85zM793.9 103.7h0.85v0.85h-0.85zM855.9 59.2h0.85v0.85h-0.85zM853.2 45.9h0.85v0.85h-0.85zM820.6 82.2h0.85v0.85h-0.85zM852.0 57.5h0.85v0.85h-0.85zM813.7 88.5h0.85v0.85h-0.85zM789.3 110.3h0.85v0.85h-0.85zM795.0 100.9h0.85v0.85h-0.85zM794.4 98.2h0.85v0.85h-0.85zM823.7 78.1h0.85v0.85h-0.85zM805.1 88.0h0.85v0.85h-0.85zM838.1 61.6h0.85v0.85h-0.85zM840.2 62.8h0.85v0.85h-0.85zM823.6 75.3h0.85v0.85h-0.85zM830.6 79.6h0.85v0.85h-0.85zM852.8 44.4h0.85v0.85h-0.85zM815.6 97.8h0.85v0.85h-0.85zM807.8 93.8h0.85v0.85h-0.85zM843.6 52.9h0.85v0.85h-0.85zM861.0 51.0h0.85v0.85h-0.85zM799.7 96.2h0.85v0.85h-0.85zM859.6 43.4h0.85v0.85h-0.85zM851.1 52.2h0.85v0.85h-0.85zM842.0 64.3h0.85v0.85h-0.85zM846.9 60.5h0.85v0.85h-0.85zM863.4 49.6h0.85v0.85h-0.85zM804.3 94.0h0.85v0.85h-0.85zM844.2 60.8h0.85v0.85h-0.85zM830.1 68.9h0.85v0.85h-0.85zM843.3 61.0h0.85v0.85h-0.85zM836.5 65.9h0.85v0.85h-0.85zM826.6 73.5h0.85v0.85h-0.85zM844.0 53.7h0.85v0.85h-0.85zM836.2 62.6h0.85v0.85h-0.85zM793.0 116.2h0.85v0.85h-0.85zM811.3 84.7h0.85v0.85h-0.85zM815.2 88.6h0.85v0.85h-0.85zM843.2 50.1h0.85v0.85h-0.85zM823.3 74.0h0.85v0.85h-0.85zM796.8 96.9h0.85v0.85h-0.85zM811.1 92.7h0.85v0.85h-0.85zM848.5 49.6h0.85v0.85h-0.85zM834.6 64.1h0.85v0.85h-0.85zM843.9 58.1h0.85v0.85h-0.85zM796.9 97.1h0.85v0.85h-0.85zM853.5 45.8h0.85v0.85h-0.85zM824.6 72.4h0.85v0.85h-0.85zM813.3 96.6h0.85v0.85h-0.85zM826.3 72.6h0.85v0.85h-0.85zM824.5 80.1h0.85v0.85h-0.85zM857.3 45.5h0.85v0.85h-0.85zM832.7 71.2h0.85v0.85h-0.85zM787.6 112.9h0.85v0.85h-0.85zM825.9 76.2h0.85v0.85h-0.85zM802.8 95.5h0.85v0.85h-0.85zM800.1 94.3h0.85v0.85h-0.85zM806.6 84.7h0.85v0.85h-0.85zM808.0 132.4h0.85v0.85h-0.85zM825.7 73.4h0.85v0.85h-0.85zM808.5 97.5h0.85v0.85h-0.85zM807.6 89.4h0.85v0.85h-0.85zM840.8 58.5h0.85v0.85h-0.85zM795.4 108.1h0.85v0.85h-0.85zM827.9 72.9h0.85v0.85h-0.85zM804.6 93.3h0.85v0.85h-0.85zM820.9 78.5h0.85v0.85h-0.85zM828.5 70.3h0.85v0.85h-0.85zM813.6 93.3h0.85v0.85h-0.85zM815.1 80.4h0.85v0.85h-0.85zM807.7 88.8h0.85v0.85h-0.85zM831.4 73.6h0.85v0.85h-0.85zM844.4 53.7h0.85v0.85h-0.85zM820.0 82.8h0.85v0.85h-0.85zM828.0 69.8h0.85v0.85h-0.85zM800.1 103.8h0.85v0.85h-0.85zM792.5 103.2h0.85v0.85h-0.85zM843.5 57.9h0.85v0.85h-0.85zM812.7 94.4h0.85v0.85h-0.85zM823.5 76.6h0.85v0.85h-0.85zM801.9 95.9h0.85v0.85h-0.85zM811.5 81.8h0.85v0.85h-0.85zM823.9 85.7h0.85v0.85h-0.85zM831.0 72.5h0.85v0.85h-0.85zM834.7 65.3h0.85v0.85h-0.85zM837.1 64.6h0.85v0.85h-0.85zM825.7 73.1h0.85v0.85h-0.85zM844.0 53.9h0.85v0.85h-0.85zM843.2 55.9h0.85v0.85h-0.85zM848.1 57.1h0.85v0.85h-0.85zM846.5 62.4h0.85v0.85h-0.85zM793.5 101.3h0.85v0.85h-0.85zM853.1 55.8h0.85v0.85h-0.85zM844.7 52.6h0.85v0.85h-0.85zM812.9 82.2h0.85v0.85h-0.85zM853.3 66.5h0.85v0.85h-0.85zM803.7 92.3h0.85v0.85h-0.85zM841.3 54.9h0.85v0.85h-0.85zM785.1 110.1h0.85v0.85h-0.85zM811.5 85.3h0.85v0.85h-0.85zM784.8 112.1h0.85v0.85h-0.85zM792.3 118.8h0.85v0.85h-0.85zM815.9 79.8h0.85v0.85h-0.85zM841.3 60.3h0.85v0.85h-0.85zM845.8 59.3h0.85v0.85h-0.85zM847.4 62.8h0.85v0.85h-0.85zM823.4 78.9h0.85v0.85h-0.85zM858.0 51.0h0.85v0.85h-0.85zM855.2 45.9h0.85v0.85h-0.85zM845.1 71.9h0.85v0.85h-0.85zM802.7 92.2h0.85v0.85h-0.85zM787.0 108.0h0.85v0.85h-0.85zM859.9 55.1h0.85v0.85h-0.85zM841.5 52.8h0.85v0.85h-0.85zM848.0 50.6h0.85v0.85h-0.85zM843.1 65.2h0.85v0.85h-0.85zM816.1 80.8h0.85v0.85h-0.85zM857.0 51.1h0.85v0.85h-0.85zM798.4 103.6h0.85v0.85h-0.85zM799.9 96.3h0.85v0.85h-0.85zM845.6 53.2h0.85v0.85h-0.85zM788.7 102.7h0.85v0.85h-0.85zM787.1 107.2h0.85v0.85h-0.85zM801.9 93.3h0.85v0.85h-0.85zM844.4 59.2h0.85v0.85h-0.85zM814.0 85.5h0.85v0.85h-0.85zM840.0 57.2h0.85v0.85h-0.85zM808.7 84.9h0.85v0.85h-0.85zM849.7 61.2h0.85v0.85h-0.85zM856.3 47.2h0.85v0.85h-0.85zM796.8 121.7h0.85v0.85h-0.85zM820.1 99.6h0.85v0.85h-0.85zM841.9 55.0h0.85v0.85h-0.85zM801.2 96.5h0.85v0.85h-0.85zM789.6 98.4h0.85v0.85h-0.85zM846.6 51.3h0.85v0.85h-0.85zM852.2 46.8h0.85v0.85h-0.85zM829.7 65.3h0.85v0.85h-0.85zM818.1 81.1h0.85v0.85h-0.85zM842.4 56.3h0.85v0.85h-0.85zM855.5 43.1h0.85v0.85h-0.85zM804.5 108.9h0.85v0.85h-0.85zM845.1 67.4h0.85v0.85h-0.85zM839.5 65.5h0.85v0.85h-0.85zM796.8 101.6h0.85v0.85h-0.85zM833.4 65.5h0.85v0.85h-0.85zM798.0 103.4h0.85v0.85h-0.85zM823.8 83.1h0.85v0.85h-0.85zM791.8 106.1h0.85v0.85h-0.85zM799.7 100.3h0.85v0.85h-0.85zM829.5 75.7h0.85v0.85h-0.85zM846.0 52.2h0.85v0.85h-0.85zM845.3 56.2h0.85v0.85h-0.85zM798.9 97.2h0.85v0.85h-0.85zM851.6 47.6h0.85v0.85h-0.85zM844.6 58.7h0.85v0.85h-0.85zM852.9 47.0h0.85v0.85h-0.85zM851.7 52.7h0.85v0.85h-0.85zM787.6 109.6h0.85v0.85h-0.85zM786.5 108.2h0.85v0.85h-0.85zM852.3 47.0h0.85v0.85h-0.85zM793.3 101.3h0.85v0.85h-0.85zM838.4 60.7h0.85v0.85h-0.85zM816.9 78.4h0.85v0.85h-0.85zM821.9 76.5h0.85v0.85h-0.85zM829.9 87.4h0.85v0.85h-0.85zM850.3 54.3h0.85v0.85h-0.85zM819.1 72.3h0.85v0.85h-0.85zM853.8 49.9h0.85v0.85h-0.85zM828.1 67.7h0.85v0.85h-0.85zM816.8 83.2h0.85v0.85h-0.85zM827.5 81.5h0.85v0.85h-0.85zM814.5 83.7h0.85v0.85h-0.85zM836.9 65.4h0.85v0.85h-0.85zM843.9 64.2h0.85v0.85h-0.85zM819.5 78.8h0.85v0.85h-0.85zM814.6 82.4h0.85v0.85h-0.85zM821.4 90.3h0.85v0.85h-0.85zM831.2 70.1h0.85v0.85h-0.85zM790.3 117.3h0.85v0.85h-0.85zM800.6 95.3h0.85v0.85h-0.85zM796.2 99.5h0.85v0.85h-0.85zM816.7 81.6h0.85v0.85h-0.85zM819.5 95.6h0.85v0.85h-0.85zM833.2 65.2h0.85v0.85h-0.85zM836.7 63.9h0.85v0.85h-0.85zM827.7 67.2h0.85v0.85h-0.85zM843.0 53.1h0.85v0.85h-0.85zM847.7 52.3h0.85v0.85h-0.85zM858.0 47.9h0.85v0.85h-0.85zM807.4 109.0h0.85v0.85h-0.85zM790.9 103.3h0.85v0.85h-0.85zM815.6 80.6h0.85v0.85h-0.85zM817.6 78.8h0.85v0.85h-0.85zM806.3 88.1h0.85v0.85h-0.85zM814.7 82.6h0.85v0.85h-0.85zM852.6 51.8h0.85v0.85h-0.85zM811.8 86.9h0.85v0.85h-0.85zM788.7 116.1h0.85v0.85h-0.85zM836.7 62.9h0.85v0.85h-0.85zM793.0 105.0h0.85v0.85h-0.85zM799.9 96.2h0.85v0.85h-0.85zM792.5 113.5h0.85v0.85h-0.85zM831.5 82.9h0.85v0.85h-0.85zM839.7 61.9h0.85v0.85h-0.85zM804.0 112.0h0.85v0.85h-0.85zM836.0 60.7h0.85v0.85h-0.85zM822.6 77.4h0.85v0.85h-0.85zM834.2 81.1h0.85v0.85h-0.85zM849.2 50.1h0.85v0.85h-0.85zM857.4 43.0h0.85v0.85h-0.85zM839.9 60.3h0.85v0.85h-0.85zM836.9 64.5h0.85v0.85h-0.85zM858.9 47.2h0.85v0.85h-0.85zM800.1 100.7h0.85v0.85h-0.85zM809.1 88.9h0.85v0.85h-0.85zM827.5 68.8h0.85v0.85h-0.85zM821.8 78.5h0.85v0.85h-0.85zM813.7 85.5h0.85v0.85h-0.85zM848.5 51.2h0.85v0.85h-0.85zM830.8 64.9h0.85v0.85h-0.85zM837.5 61.5h0.85v0.85h-0.85zM826.2 73.2h0.85v0.85h-0.85zM843.8 70.6h0.85v0.85h-0.85zM819.7 78.8h0.85v0.85h-0.85zM804.6 88.0h0.85v0.85h-0.85zM851.1 47.9h0.85v0.85h-0.85zM801.7 115.3h0.85v0.85h-0.85zM811.9 92.2h0.85v0.85h-0.85zM837.9 62.6h0.85v0.85h-0.85zM821.1 90.5h0.85v0.85h-0.85zM840.3 62.1h0.85v0.85h-0.85zM840.0 61.3h0.85v0.85h-0.85zM802.1 96.1h0.85v0.85h-0.85zM811.0 82.3h0.85v0.85h-0.85zM790.4 102.9h0.85v0.85h-0.85zM829.4 82.7h0.85v0.85h-0.85zM821.8 76.9h0.85v0.85h-0.85zM834.3 66.4h0.85v0.85h-0.85zM857.1 46.4h0.85v0.85h-0.85zM856.5 47.5h0.85v0.85h-0.85zM830.8 68.4h0.85v0.85h-0.85zM849.8 47.9h0.85v0.85h-0.85zM850.3 51.6h0.85v0.85h-0.85zM827.0 71.0h0.85v0.85h-0.85zM816.1 84.6h0.85v0.85h-0.85zM848.6 52.7h0.85v0.85h-0.85zM844.6 63.4h0.85v0.85h-0.85zM838.7 86.3h0.85v0.85h-0.85zM837.7 58.9h0.85v0.85h-0.85zM842.1 56.5h0.85v0.85h-0.85zM846.9 59.0h0.85v0.85h-0.85zM855.8 44.2h0.85v0.85h-0.85zM792.7 107.5h0.85v0.85h-0.85zM792.8 107.8h0.85v0.85h-0.85zM824.1 72.2h0.85v0.85h-0.85zM857.7 46.3h0.85v0.85h-0.85zM821.8 76.7h0.85v0.85h-0.85zM848.4 49.5h0.85v0.85h-0.85zM824.6 70.7h0.85v0.85h-0.85zM832.9 61.9h0.85v0.85h-0.85zM844.7 56.8h0.85v0.85h-0.85zM826.3 73.8h0.85v0.85h-0.85zM858.3 61.0h0.85v0.85h-0.85zM813.5 83.5h0.85v0.85h-0.85zM788.8 114.8h0.85v0.85h-0.85zM798.9 99.4h0.85v0.85h-0.85zM811.9 86.6h0.85v0.85h-0.85zM843.3 53.2h0.85v0.85h-0.85zM813.8 83.8h0.85v0.85h-0.85zM849.5 56.1h0.85v0.85h-0.85zM857.6 43.9h0.85v0.85h-0.85zM854.7 57.3h0.85v0.85h-0.85zM847.4 52.5h0.85v0.85h-0.85zM835.3 68.7h0.85v0.85h-0.85zM840.8 55.5h0.85v0.85h-0.85zM814.9 82.6h0.85v0.85h-0.85zM790.3 103.9h0.85v0.85h-0.85zM832.3 65.3h0.85v0.85h-0.85zM832.9 64.7h0.85v0.85h-0.85zM833.5 82.4h0.85v0.85h-0.85zM833.3 69.9h0.85v0.85h-0.85zM852.1 48.5h0.85v0.85h-0.85zM809.6 87.5h0.85v0.85h-0.85zM795.6 99.4h0.85v0.85h-0.85zM793.2 109.4h0.85v0.85h-0.85zM800.6 101.9h0.85v0.85h-0.85zM803.4 97.3h0.85v0.85h-0.85zM805.9 85.5h0.85v0.85h-0.85zM790.4 107.5h0.85v0.85h-0.85zM849.0 57.1h0.85v0.85h-0.85zM822.2 74.4h0.85v0.85h-0.85zM822.7 79.9h0.85v0.85h-0.85zM844.3 55.6h0.85v0.85h-0.85zM837.9 60.9h0.85v0.85h-0.85zM826.8 76.1h0.85v0.85h-0.85zM850.6 50.8h0.85v0.85h-0.85zM839.8 63.4h0.85v0.85h-0.85zM841.9 58.9h0.85v0.85h-0.85zM825.5 70.5h0.85v0.85h-0.85zM791.8 111.0h0.85v0.85h-0.85zM829.6 76.7h0.85v0.85h-0.85zM828.0 76.3h0.85v0.85h-0.85zM852.7 45.5h0.85v0.85h-0.85zM830.1 76.6h0.85v0.85h-0.85zM858.7 44.5h0.85v0.85h-0.85zM784.3 110.7h0.85v0.85h-0.85zM841.6 56.5h0.85v0.85h-0.85zM831.3 67.3h0.85v0.85h-0.85zM818.7 77.4h0.85v0.85h-0.85zM794.5 105.8h0.85v0.85h-0.85zM841.8 62.7h0.85v0.85h-0.85zM808.5 88.0h0.85v0.85h-0.85zM793.9 112.0h0.85v0.85h-0.85zM859.7 46.0h0.85v0.85h-0.85zM848.8 51.3h0.85v0.85h-0.85zM825.8 72.4h0.85v0.85h-0.85zM809.3 88.7h0.85v0.85h-0.85zM826.8 103.9h0.85v0.85h-0.85zM853.9 45.2h0.85v0.85h-0.85zM850.1 51.7h0.85v0.85h-0.85zM797.6 98.5h0.85v0.85h-0.85zM850.6 51.2h0.85v0.85h-0.85zM796.0 101.5h0.85v0.85h-0.85zM812.7 88.4h0.85v0.85h-0.85zM798.6 102.5h0.85v0.85h-0.85zM783.3 100.9h0.85v0.85h-0.85zM804.6 105.0h0.85v0.85h-0.85zM840.8 55.8h0.85v0.85h-0.85zM837.7 61.6h0.85v0.85h-0.85zM855.6 46.2h0.85v0.85h-0.85zM842.2 58.8h0.85v0.85h-0.85zM845.6 56.6h0.85v0.85h-0.85zM820.5 82.6h0.85v0.85h-0.85zM788.9 108.4h0.85v0.85h-0.85zM855.4 43.5h0.85v0.85h-0.85zM809.3 94.7h0.85v0.85h-0.85zM828.0 86.1h0.85v0.85h-0.85zM815.5 81.3h0.85v0.85h-0.85zM854.4 48.3h0.85v0.85h-0.85zM786.4 112.3h0.85v0.85h-0.85zM810.7 95.0h0.85v0.85h-0.85zM796.2 95.5h0.85v0.85h-0.85zM845.1 57.7h0.85v0.85h-0.85zM816.0 76.6h0.85v0.85h-0.85zM828.4 74.5h0.85v0.85h-0.85zM843.0 55.1h0.85v0.85h-0.85zM829.1 74.3h0.85v0.85h-0.85zM836.5 62.2h0.85v0.85h-0.85zM853.3 54.5h0.85v0.85h-0.85zM815.4 94.2h0.85v0.85h-0.85zM808.7 88.1h0.85v0.85h-0.85zM853.4 44.8h0.85v0.85h-0.85zM831.3 70.4h0.85v0.85h-0.85zM852.2 49.4h0.85v0.85h-0.85zM855.8 42.8h0.85v0.85h-0.85zM795.9 109.6h0.85v0.85h-0.85zM807.1 101.5h0.85v0.85h-0.85zM816.4 87.5h0.85v0.85h-0.85zM819.6 81.8h0.85v0.85h-0.85zM824.3 72.7h0.85v0.85h-0.85zM800.9 103.6h0.85v0.85h-0.85zM794.3 105.4h0.85v0.85h-0.85zM797.1 99.1h0.85v0.85h-0.85zM834.1 66.3h0.85v0.85h-0.85zM799.7 99.0h0.85v0.85h-0.85zM829.4 72.9h0.85v0.85h-0.85zM784.1 102.3h0.85v0.85h-0.85zM792.4 104.0h0.85v0.85h-0.85zM833.8 65.8h0.85v0.85h-0.85zM816.4 80.8h0.85v0.85h-0.85zM799.8 101.4h0.85v0.85h-0.85zM859.5 46.0h0.85v0.85h-0.85zM858.5 47.4h0.85v0.85h-0.85zM825.1 85.8h0.85v0.85h-0.85zM834.1 70.8h0.85v0.85h-0.85zM828.9 67.8h0.85v0.85h-0.85zM826.0 79.7h0.85v0.85h-0.85zM813.1 99.3h0.85v0.85h-0.85zM789.5 108.1h0.85v0.85h-0.85zM847.6 52.2h0.85v0.85h-0.85zM859.9 48.0h0.85v0.85h-0.85zM814.2 86.9h0.85v0.85h-0.85zM807.4 89.6h0.85v0.85h-0.85zM794.0 107.4h0.85v0.85h-0.85zM831.2 66.5h0.85v0.85h-0.85zM802.9 93.2h0.85v0.85h-0.85zM818.0 97.9h0.85v0.85h-0.85zM789.0 106.3h0.85v0.85h-0.85zM852.0 47.8h0.85v0.85h-0.85zM854.0 46.9h0.85v0.85h-0.85zM835.0 80.0h0.85v0.85h-0.85zM782.1 108.9h0.85v0.85h-0.85zM805.2 120.4h0.85v0.85h-0.85zM841.1 58.9h0.85v0.85h-0.85zM834.5 66.8h0.85v0.85h-0.85zM844.9 58.1h0.85v0.85h-0.85zM839.3 59.8h0.85v0.85h-0.85zM812.1 77.9h0.85v0.85h-0.85zM800.5 102.3h0.85v0.85h-0.85zM826.7 84.6h0.85v0.85h-0.85zM812.2 92.9h0.85v0.85h-0.85zM852.3 51.3h0.85v0.85h-0.85zM819.4 80.8h0.85v0.85h-0.85zM793.8 102.9h0.85v0.85h-0.85zM856.0 43.5h0.85v0.85h-0.85zM820.1 82.4h0.85v0.85h-0.85zM814.9 86.9h0.85v0.85h-0.85zM838.1 76.5h0.85v0.85h-0.85zM851.0 50.4h0.85v0.85h-0.85zM834.7 64.1h0.85v0.85h-0.85zM820.7 75.8h0.85v0.85h-0.85zM820.2 76.0h0.85v0.85h-0.85zM822.9 90.7h0.85v0.85h-0.85zM847.0 54.0h0.85v0.85h-0.85zM822.4 79.8h0.85v0.85h-0.85zM811.3 95.1h0.85v0.85h-0.85zM818.6 124.0h0.85v0.85h-0.85zM805.9 95.9h0.85v0.85h-0.85zM859.3 46.2h0.85v0.85h-0.85zM852.3 39.7h0.85v0.85h-0.85zM808.9 89.3h0.85v0.85h-0.85zM851.8 48.3h0.85v0.85h-0.85zM814.0 85.8h0.85v0.85h-0.85zM852.0 53.5h0.85v0.85h-0.85zM848.5 60.3h0.85v0.85h-0.85zM854.4 47.3h0.85v0.85h-0.85zM798.6 97.2h0.85v0.85h-0.85zM843.8 57.2h0.85v0.85h-0.85zM811.9 87.9h0.85v0.85h-0.85zM841.2 58.1h0.85v0.85h-0.85zM848.0 49.5h0.85v0.85h-0.85zM798.9 112.9h0.85v0.85h-0.85zM790.5 113.4h0.85v0.85h-0.85zM857.8 52.8h0.85v0.85h-0.85zM792.4 115.9h0.85v0.85h-0.85zM816.5 80.5h0.85v0.85h-0.85zM817.1 83.4h0.85v0.85h-0.85zM793.9 103.5h0.85v0.85h-0.85zM826.6 73.7h0.85v0.85h-0.85zM852.6 46.6h0.85v0.85h-0.85zM798.5 97.0h0.85v0.85h-0.85zM841.6 64.6h0.85v0.85h-0.85zM837.6 55.8h0.85v0.85h-0.85zM842.6 60.5h0.85v0.85h-0.85zM801.1 99.5h0.85v0.85h-0.85zM844.2 54.8h0.85v0.85h-0.85zM850.8 51.3h0.85v0.85h-0.85zM820.6 81.9h0.85v0.85h-0.85zM851.0 50.9h0.85v0.85h-0.85zM823.6 80.9h0.85v0.85h-0.85zM818.8 77.5h0.85v0.85h-0.85zM831.3 73.6h0.85v0.85h-0.85zM808.0 89.2h0.85v0.85h-0.85zM847.5 58.4h0.85v0.85h-0.85zM817.5 78.4h0.85v0.85h-0.85zM785.7 110.2h0.85v0.85h-0.85zM813.3 92.5h0.85v0.85h-0.85zM847.2 53.5h0.85v0.85h-0.85zM830.5 72.7h0.85v0.85h-0.85zM798.7 95.8h0.85v0.85h-0.85zM816.9 81.9h0.85v0.85h-0.85zM836.5 81.3h0.85v0.85h-0.85zM808.9 97.9h0.85v0.85h-0.85zM853.3 46.0h0.85v0.85h-0.85zM800.2 106.6h0.85v0.85h-0.85zM812.4 80.5h0.85v0.85h-0.85zM814.8 83.8h0.85v0.85h-0.85zM799.2 97.5h0.85v0.85h-0.85zM838.6 71.3h0.85v0.85h-0.85zM848.8 63.8h0.85v0.85h-0.85zM820.1 72.1h0.85v0.85h-0.85zM823.6 79.6h0.85v0.85h-0.85zM853.7 46.2h0.85v0.85h-0.85zM819.3 83.5h0.85v0.85h-0.85zM853.5 41.9h0.85v0.85h-0.85zM835.1 62.9h0.85v0.85h-0.85zM853.4 57.4h0.85v0.85h-0.85zM857.0 52.6h0.85v0.85h-0.85zM842.9 56.5h0.85v0.85h-0.85zM846.9 55.5h0.85v0.85h-0.85zM817.9 79.9h0.85v0.85h-0.85zM844.3 57.7h0.85v0.85h-0.85zM850.6 56.1h0.85v0.85h-0.85zM849.3 50.8h0.85v0.85h-0.85zM845.0 57.2h0.85v0.85h-0.85zM803.5 93.1h0.85v0.85h-0.85zM844.8 69.1h0.85v0.85h-0.85zM793.8 104.2h0.85v0.85h-0.85zM815.4 84.0h0.85v0.85h-0.85zM833.3 80.8h0.85v0.85h-0.85zM810.9 84.8h0.85v0.85h-0.85zM865.2 52.0h0.85v0.85h-0.85zM857.7 51.9h0.85v0.85h-0.85zM823.0 75.9h0.85v0.85h-0.85zM846.4 64.0h0.85v0.85h-0.85zM789.2 109.0h0.85v0.85h-0.85zM796.8 100.6h0.85v0.85h-0.85zM792.6 114.5h0.85v0.85h-0.85zM848.9 51.1h0.85v0.85h-0.85zM824.7 76.3h0.85v0.85h-0.85zM791.7 115.3h0.85v0.85h-0.85zM838.5 80.8h0.85v0.85h-0.85zM842.0 62.3h0.85v0.85h-0.85zM795.6 105.7h0.85v0.85h-0.85zM852.1 49.3h0.85v0.85h-0.85zM828.5 82.4h0.85v0.85h-0.85zM792.8 107.4h0.85v0.85h-0.85zM855.6 48.9h0.85v0.85h-0.85zM824.3 72.2h0.85v0.85h-0.85zM794.8 108.8h0.85v0.85h-0.85zM827.5 70.5h0.85v0.85h-0.85zM798.9 100.5h0.85v0.85h-0.85zM806.1 88.2h0.85v0.85h-0.85zM785.4 112.0h0.85v0.85h-0.85zM847.8 49.9h0.85v0.85h-0.85zM850.3 53.9h0.85v0.85h-0.85zM846.0 51.9h0.85v0.85h-0.85zM807.3 100.1h0.85v0.85h-0.85zM790.2 116.8h0.85v0.85h-0.85zM841.1 62.4h0.85v0.85h-0.85zM817.5 87.5h0.85v0.85h-0.85zM810.5 99.6h0.85v0.85h-0.85zM817.9 80.7h0.85v0.85h-0.85zM810.3 88.2h0.85v0.85h-0.85zM851.5 46.0h0.85v0.85h-0.85zM799.2 97.9h0.85v0.85h-0.85zM806.8 90.4h0.85v0.85h-0.85zM818.8 76.0h0.85v0.85h-0.85zM852.4 48.5h0.85v0.85h-0.85zM794.6 100.1h0.85v0.85h-0.85zM855.4 41.8h0.85v0.85h-0.85zM836.7 63.2h0.85v0.85h-0.85zM823.4 75.8h0.85v0.85h-0.85zM822.6 74.8h0.85v0.85h-0.85zM845.3 54.1h0.85v0.85h-0.85zM799.9 116.1h0.85v0.85h-0.85zM792.2 108.5h0.85v0.85h-0.85zM861.3 52.9h0.85v0.85h-0.85zM794.9 101.8h0.85v0.85h-0.85zM799.5 95.8h0.85v0.85h-0.85zM792.0 109.9h0.85v0.85h-0.85zM842.4 60.1h0.85v0.85h-0.85zM795.0 101.0h0.85v0.85h-0.85zM812.4 84.0h0.85v0.85h-0.85zM844.6 66.2h0.85v0.85h-0.85zM808.8 101.2h0.85v0.85h-0.85zM819.7 89.6h0.85v0.85h-0.85zM793.4 104.4h0.85v0.85h-0.85zM829.7 68.6h0.85v0.85h-0.85zM792.0 112.2h0.85v0.85h-0.85zM820.8 78.4h0.85v0.85h-0.85zM783.3 110.6h0.85v0.85h-0.85zM858.0 41.3h0.85v0.85h-0.85zM786.4 107.2h0.85v0.85h-0.85zM834.7 61.4h0.85v0.85h-0.85zM804.5 101.8h0.85v0.85h-0.85zM830.1 65.9h0.85v0.85h-0.85zM800.5 103.1h0.85v0.85h-0.85zM849.8 48.5h0.85v0.85h-0.85zM844.0 62.2h0.85v0.85h-0.85zM857.3 42.8h0.85v0.85h-0.85zM859.4 43.9h0.85v0.85h-0.85zM789.2 116.6h0.85v0.85h-0.85zM815.9 80.9h0.85v0.85h-0.85zM811.4 91.5h0.85v0.85h-0.85zM846.3 57.4h0.85v0.85h-0.85zM811.9 104.2h0.85v0.85h-0.85zM822.9 75.3h0.85v0.85h-0.85zM788.6 107.1h0.85v0.85h-0.85zM792.6 110.8h0.85v0.85h-0.85zM807.9 86.3h0.85v0.85h-0.85zM852.8 49.9h0.85v0.85h-0.85zM796.8 106.0h0.85v0.85h-0.85zM805.8 88.3h0.85v0.85h-0.85zM796.4 116.0h0.85v0.85h-0.85zM834.7 62.2h0.85v0.85h-0.85zM820.0 75.8h0.85v0.85h-0.85zM834.3 71.9h0.85v0.85h-0.85zM811.1 86.2h0.85v0.85h-0.85zM809.9 88.3h0.85v0.85h-0.85zM811.0 89.7h0.85v0.85h-0.85zM829.7 61.6h0.85v0.85h-0.85zM851.7 46.3h0.85v0.85h-0.85zM841.4 55.6h0.85v0.85h-0.85zM841.9 61.1h0.85v0.85h-0.85zM799.6 101.3h0.85v0.85h-0.85zM806.0 89.3h0.85v0.85h-0.85zM807.1 98.0h0.85v0.85h-0.85zM803.3 97.6h0.85v0.85h-0.85zM823.6 83.9h0.85v0.85h-0.85zM808.3 93.4h0.85v0.85h-0.85zM809.7 89.0h0.85v0.85h-0.85zM838.9 59.7h0.85v0.85h-0.85zM823.3 82.9h0.85v0.85h-0.85zM800.8 95.4h0.85v0.85h-0.85zM822.5 77.9h0.85v0.85h-0.85zM839.4 68.2h0.85v0.85h-0.85zM827.7 70.5h0.85v0.85h-0.85zM824.0 69.4h0.85v0.85h-0.85zM829.0 88.5h0.85v0.85h-0.85zM794.6 108.8h0.85v0.85h-0.85zM796.3 105.1h0.85v0.85h-0.85zM797.5 102.1h0.85v0.85h-0.85zM805.0 92.7h0.85v0.85h-0.85zM830.1 70.4h0.85v0.85h-0.85zM822.2 83.5h0.85v0.85h-0.85zM817.7 85.4h0.85v0.85h-0.85zM801.6 94.4h0.85v0.85h-0.85zM837.4 68.9h0.85v0.85h-0.85zM821.8 76.3h0.85v0.85h-0.85zM803.1 94.4h0.85v0.85h-0.85zM822.4 80.0h0.85v0.85h-0.85zM788.4 104.5h0.85v0.85h-0.85zM803.9 106.0h0.85v0.85h-0.85zM813.2 84.3h0.85v0.85h-0.85zM839.9 63.0h0.85v0.85h-0.85zM826.5 72.9h0.85v0.85h-0.85zM795.0 105.1h0.85v0.85h-0.85zM833.3 66.4h0.85v0.85h-0.85zM832.5 66.2h0.85v0.85h-0.85zM803.9 95.1h0.85v0.85h-0.85zM833.3 62.9h0.85v0.85h-0.85zM856.8 43.2h0.85v0.85h-0.85zM808.1 102.3h0.85v0.85h-0.85zM840.4 58.7h0.85v0.85h-0.85zM802.1 100.6h0.85v0.85h-0.85zM803.1 95.3h0.85v0.85h-0.85zM860.5 48.7h0.85v0.85h-0.85zM815.4 85.4h0.85v0.85h-0.85zM839.1 56.8h0.85v0.85h-0.85zM826.5 74.3h0.85v0.85h-0.85zM812.1 85.5h0.85v0.85h-0.85zM814.8 88.6h0.85v0.85h-0.85zM783.6 109.2h0.85v0.85h-0.85zM836.4 62.0h0.85v0.85h-0.85zM801.6 105.4h0.85v0.85h-0.85zM799.3 111.4h0.85v0.85h-0.85zM844.8 54.5h0.85v0.85h-0.85zM798.5 99.1h0.85v0.85h-0.85zM849.3 51.5h0.85v0.85h-0.85zM791.3 104.8h0.85v0.85h-0.85zM854.2 47.2h0.85v0.85h-0.85zM835.8 64.9h0.85v0.85h-0.85zM833.6 65.1h0.85v0.85h-0.85zM814.6 89.1h0.85v0.85h-0.85zM836.1 68.4h0.85v0.85h-0.85zM785.6 110.6h0.85v0.85h-0.85zM793.1 102.1h0.85v0.85h-0.85zM816.9 81.6h0.85v0.85h-0.85zM832.5 63.9h0.85v0.85h-0.85zM847.7 49.3h0.85v0.85h-0.85zM816.0 89.3h0.85v0.85h-0.85zM807.8 90.4h0.85v0.85h-0.85zM800.5 113.0h0.85v0.85h-0.85zM837.9 57.5h0.85v0.85h-0.85zM827.4 72.1h0.85v0.85h-0.85zM842.0 68.7h0.85v0.85h-0.85zM858.5 43.1h0.85v0.85h-0.85zM791.0 104.5h0.85v0.85h-0.85zM840.8 56.0h0.85v0.85h-0.85zM844.9 57.9h0.85v0.85h-0.85zM857.8 44.0h0.85v0.85h-0.85zM857.2 43.8h0.85v0.85h-0.85zM835.5 68.0h0.85v0.85h-0.85zM830.1 70.7h0.85v0.85h-0.85zM791.8 108.6h0.85v0.85h-0.85zM856.3 44.8h0.85v0.85h-0.85zM791.0 109.0h0.85v0.85h-0.85zM819.9 93.1h0.85v0.85h-0.85zM827.7 70.2h0.85v0.85h-0.85zM831.7 80.0h0.85v0.85h-0.85zM796.5 97.8h0.85v0.85h-0.85zM835.3 68.1h0.85v0.85h-0.85zM818.5 82.7h0.85v0.85h-0.85zM841.2 61.5h0.85v0.85h-0.85zM821.3 90.7h0.85v0.85h-0.85zM852.2 49.3h0.85v0.85h-0.85zM806.5 92.2h0.85v0.85h-0.85zM814.6 82.7h0.85v0.85h-0.85zM837.3 88.1h0.85v0.85h-0.85zM793.0 104.4h0.85v0.85h-0.85zM851.4 48.9h0.85v0.85h-0.85zM806.3 86.7h0.85v0.85h-0.85zM791.7 100.1h0.85v0.85h-0.85zM820.9 76.2h0.85v0.85h-0.85zM816.0 81.4h0.85v0.85h-0.85zM831.1 67.9h0.85v0.85h-0.85zM807.6 91.2h0.85v0.85h-0.85zM802.2 94.0h0.85v0.85h-0.85zM834.6 63.5h0.85v0.85h-0.85zM841.9 62.4h0.85v0.85h-0.85zM836.3 62.1h0.85v0.85h-0.85zM790.9 112.2h0.85v0.85h-0.85zM795.7 99.2h0.85v0.85h-0.85zM848.8 49.5h0.85v0.85h-0.85zM801.7 96.9h0.85v0.85h-0.85zM857.7 42.5h0.85v0.85h-0.85zM845.4 55.1h0.85v0.85h-0.85zM801.4 106.7h0.85v0.85h-0.85zM826.2 71.4h0.85v0.85h-0.85zM797.4 104.3h0.85v0.85h-0.85zM780.9 106.1h0.85v0.85h-0.85zM847.7 52.1h0.85v0.85h-0.85zM846.1 56.0h0.85v0.85h-0.85zM835.8 73.0h0.85v0.85h-0.85zM820.3 76.8h0.85v0.85h-0.85zM837.7 67.3h0.85v0.85h-0.85zM817.3 94.9h0.85v0.85h-0.85zM842.2 57.5h0.85v0.85h-0.85zM790.6 104.9h0.85v0.85h-0.85zM831.4 88.2h0.85v0.85h-0.85zM791.0 98.2h0.85v0.85h-0.85zM811.4 86.6h0.85v0.85h-0.85zM809.5 84.8h0.85v0.85h-0.85zM796.2 102.6h0.85v0.85h-0.85zM801.2 107.4h0.85v0.85h-0.85zM826.7 81.8h0.85v0.85h-0.85zM845.5 55.2h0.85v0.85h-0.85zM805.2 92.0h0.85v0.85h-0.85zM789.3 109.9h0.85v0.85h-0.85zM856.1 45.3h0.85v0.85h-0.85zM821.3 76.3h0.85v0.85h-0.85zM827.3 70.1h0.85v0.85h-0.85zM847.4 58.6h0.85v0.85h-0.85zM818.3 81.2h0.85v0.85h-0.85zM805.2 92.2h0.85v0.85h-0.85zM850.1 44.1h0.85v0.85h-0.85zM799.7 94.9h0.85v0.85h-0.85zM851.1 46.1h0.85v0.85h-0.85zM793.0 111.4h0.85v0.85h-0.85zM831.7 66.8h0.85v0.85h-0.85zM784.0 103.4h0.85v0.85h-0.85zM812.3 97.0h0.85v0.85h-0.85zM804.4 105.7h0.85v0.85h-0.85zM805.6 86.2h0.85v0.85h-0.85zM781.5 106.7h0.85v0.85h-0.85zM837.7 64.4h0.85v0.85h-0.85zM820.5 81.9h0.85v0.85h-0.85zM811.4 83.7h0.85v0.85h-0.85zM846.3 57.7h0.85v0.85h-0.85zM790.5 102.9h0.85v0.85h-0.85zM802.1 97.4h0.85v0.85h-0.85zM858.3 48.9h0.85v0.85h-0.85zM785.8 112.2h0.85v0.85h-0.85zM850.9 48.5h0.85v0.85h-0.85zM829.9 68.5h0.85v0.85h-0.85zM810.5 120.2h0.85v0.85h-0.85zM795.1 105.6h0.85v0.85h-0.85zM831.7 68.1h0.85v0.85h-0.85zM797.3 96.7h0.85v0.85h-0.85zM802.0 114.6h0.85v0.85h-0.85zM817.7 85.6h0.85v0.85h-0.85zM856.7 46.7h0.85v0.85h-0.85zM834.7 63.1h0.85v0.85h-0.85zM802.1 105.9h0.85v0.85h-0.85zM814.0 80.2h0.85v0.85h-0.85zM814.6 77.0h0.85v0.85h-0.85zM804.9 90.0h0.85v0.85h-0.85zM813.8 89.8h0.85v0.85h-0.85zM793.2 103.0h0.85v0.85h-0.85zM827.0 72.6h0.85v0.85h-0.85zM830.0 74.9h0.85v0.85h-0.85zM800.8 99.8h0.85v0.85h-0.85zM815.9 82.6h0.85v0.85h-0.85zM811.0 89.9h0.85v0.85h-0.85zM841.9 65.2h0.85v0.85h-0.85zM821.8 78.0h0.85v0.85h-0.85zM786.3 109.5h0.85v0.85h-0.85zM847.8 51.0h0.85v0.85h-0.85zM836.9 55.6h0.85v0.85h-0.85zM834.5 65.6h0.85v0.85h-0.85zM859.6 46.4h0.85v0.85h-0.85zM832.8 65.1h0.85v0.85h-0.85zM825.2 82.6h0.85v0.85h-0.85zM834.2 62.6h0.85v0.85h-0.85zM854.1 48.0h0.85v0.85h-0.85zM822.7 76.9h0.85v0.85h-0.85zM839.4 61.3h0.85v0.85h-0.85zM855.3 44.5h0.85v0.85h-0.85zM837.5 61.7h0.85v0.85h-0.85zM821.5 77.5h0.85v0.85h-0.85zM840.6 62.3h0.85v0.85h-0.85zM796.8 99.6h0.85v0.85h-0.85zM840.0 58.5h0.85v0.85h-0.85zM813.6 75.5h0.85v0.85h-0.85zM808.1 99.3h0.85v0.85h-0.85zM855.9 42.1h0.85v0.85h-0.85zM848.4 69.0h0.85v0.85h-0.85zM810.2 99.8h0.85v0.85h-0.85zM854.7 45.8h0.85v0.85h-0.85zM849.7 57.0h0.85v0.85h-0.85zM804.9 90.7h0.85v0.85h-0.85zM816.0 81.4h0.85v0.85h-0.85zM815.8 80.9h0.85v0.85h-0.85zM849.7 48.3h0.85v0.85h-0.85zM803.3 94.7h0.85v0.85h-0.85zM828.4 74.3h0.85v0.85h-0.85zM796.5 110.3h0.85v0.85h-0.85zM828.3 66.0h0.85v0.85h-0.85zM796.2 105.6h0.85v0.85h-0.85zM809.8 89.2h0.85v0.85h-0.85zM806.3 101.8h0.85v0.85h-0.85zM802.5 94.3h0.85v0.85h-0.85zM805.5 98.4h0.85v0.85h-0.85zM815.1 101.2h0.85v0.85h-0.85zM813.4 84.5h0.85v0.85h-0.85zM795.7 101.7h0.85v0.85h-0.85zM791.4 114.2h0.85v0.85h-0.85zM810.0 85.8h0.85v0.85h-0.85zM822.6 76.1h0.85v0.85h-0.85zM818.0 79.2h0.85v0.85h-0.85zM856.9 51.4h0.85v0.85h-0.85zM832.7 72.9h0.85v0.85h-0.85zM807.5 117.0h0.85v0.85h-0.85zM790.2 102.3h0.85v0.85h-0.85zM818.7 97.5h0.85v0.85h-0.85zM803.4 103.7h0.85v0.85h-0.85zM830.4 68.6h0.85v0.85h-0.85zM829.7 66.9h0.85v0.85h-0.85zM798.4 93.4h0.85v0.85h-0.85zM823.8 72.4h0.85v0.85h-0.85zM856.8 47.3h0.85v0.85h-0.85zM832.6 72.5h0.85v0.85h-0.85zM786.4 106.2h0.85v0.85h-0.85zM825.2 73.4h0.85v0.85h-0.85zM790.7 107.1h0.85v0.85h-0.85zM823.2 63.4h0.85v0.85h-0.85zM837.7 64.5h0.85v0.85h-0.85zM787.9 106.7h0.85v0.85h-0.85zM813.3 85.3h0.85v0.85h-0.85zM851.3 47.4h0.85v0.85h-0.85zM847.5 58.3h0.85v0.85h-0.85zM822.7 70.2h0.85v0.85h-0.85zM819.9 86.4h0.85v0.85h-0.85zM818.5 78.5h0.85v0.85h-0.85zM843.3 55.4h0.85v0.85h-0.85zM812.0 90.9h0.85v0.85h-0.85zM841.3 55.8h0.85v0.85h-0.85zM808.0 90.1h0.85v0.85h-0.85zM802.0 95.9h0.85v0.85h-0.85zM830.8 74.8h0.85v0.85h-0.85zM838.6 62.5h0.85v0.85h-0.85zM793.5 104.7h0.85v0.85h-0.85zM790.9 108.1h0.85v0.85h-0.85zM812.1 91.3h0.85v0.85h-0.85zM793.3 117.5h0.85v0.85h-0.85zM847.1 52.3h0.85v0.85h-0.85zM810.1 92.0h0.85v0.85h-0.85zM828.6 68.7h0.85v0.85h-0.85zM850.8 48.5h0.85v0.85h-0.85zM846.3 53.5h0.85v0.85h-0.85zM852.3 49.4h0.85v0.85h-0.85zM861.0 45.2h0.85v0.85h-0.85zM854.8 51.1h0.85v0.85h-0.85zM799.4 105.1h0.85v0.85h-0.85zM801.5 95.4h0.85v0.85h-0.85zM841.2 51.1h0.85v0.85h-0.85zM806.2 92.1h0.85v0.85h-0.85zM820.2 94.9h0.85v0.85h-0.85zM818.0 81.3h0.85v0.85h-0.85zM844.1 70.1h0.85v0.85h-0.85zM808.7 98.2h0.85v0.85h-0.85zM834.5 70.2h0.85v0.85h-0.85zM845.6 51.8h0.85v0.85h-0.85zM829.5 70.7h0.85v0.85h-0.85zM846.3 62.4h0.85v0.85h-0.85zM836.0 64.3h0.85v0.85h-0.85zM788.2 106.8h0.85v0.85h-0.85zM844.8 55.6h0.85v0.85h-0.85zM843.1 65.8h0.85v0.85h-0.85zM855.7 46.1h0.85v0.85h-0.85zM845.6 55.8h0.85v0.85h-0.85zM849.7 52.9h0.85v0.85h-0.85zM838.5 59.8h0.85v0.85h-0.85zM846.3 60.8h0.85v0.85h-0.85zM802.3 100.7h0.85v0.85h-0.85zM817.5 83.1h0.85v0.85h-0.85zM852.0 48.6h0.85v0.85h-0.85zM836.8 59.2h0.85v0.85h-0.85zM800.3 95.3h0.85v0.85h-0.85zM790.9 113.2h0.85v0.85h-0.85zM833.9 61.6h0.85v0.85h-0.85zM787.8 109.7h0.85v0.85h-0.85zM823.9 89.0h0.85v0.85h-0.85zM843.2 54.8h0.85v0.85h-0.85zM800.7 99.5h0.85v0.85h-0.85zM831.2 73.0h0.85v0.85h-0.85zM830.4 67.2h0.85v0.85h-0.85zM830.3 73.6h0.85v0.85h-0.85zM839.2 61.3h0.85v0.85h-0.85zM807.8 87.5h0.85v0.85h-0.85zM793.5 101.1h0.85v0.85h-0.85zM823.6 79.0h0.85v0.85h-0.85zM847.4 47.3h0.85v0.85h-0.85zM836.1 60.9h0.85v0.85h-0.85zM847.3 49.7h0.85v0.85h-0.85zM818.2 115.8h0.85v0.85h-0.85zM807.0 80.2h0.85v0.85h-0.85zM824.2 75.8h0.85v0.85h-0.85zM852.0 47.4h0.85v0.85h-0.85zM847.8 83.6h0.85v0.85h-0.85zM828.9 66.1h0.85v0.85h-0.85zM818.1 81.6h0.85v0.85h-0.85zM859.2 45.0h0.85v0.85h-0.85zM860.8 59.3h0.85v0.85h-0.85zM795.0 113.9h0.85v0.85h-0.85zM791.8 107.2h0.85v0.85h-0.85zM795.3 97.7h0.85v0.85h-0.85zM806.4 93.6h0.85v0.85h-0.85zM850.4 50.5h0.85v0.85h-0.85zM793.0 107.2h0.85v0.85h-0.85zM813.4 85.2h0.85v0.85h-0.85zM833.0 67.3h0.85v0.85h-0.85zM854.8 49.4h0.85v0.85h-0.85zM818.4 85.3h0.85v0.85h-0.85zM807.4 90.7h0.85v0.85h-0.85zM804.1 95.1h0.85v0.85h-0.85zM859.5 47.2h0.85v0.85h-0.85zM820.9 92.9h0.85v0.85h-0.85zM849.7 47.6h0.85v0.85h-0.85zM804.9 100.6h0.85v0.85h-0.85zM832.6 66.9h0.85v0.85h-0.85zM791.9 106.0h0.85v0.85h-0.85zM812.8 84.4h0.85v0.85h-0.85zM819.7 77.0h0.85v0.85h-0.85zM815.5 81.6h0.85v0.85h-0.85zM820.2 75.2h0.85v0.85h-0.85zM828.4 81.9h0.85v0.85h-0.85zM807.0 93.9h0.85v0.85h-0.85zM805.5 94.5h0.85v0.85h-0.85zM832.6 68.3h0.85v0.85h-0.85zM802.8 94.4h0.85v0.85h-0.85zM846.4 53.2h0.85v0.85h-0.85zM801.7 97.2h0.85v0.85h-0.85zM839.9 62.4h0.85v0.85h-0.85zM826.7 76.1h0.85v0.85h-0.85zM832.2 68.6h0.85v0.85h-0.85zM843.8 63.1h0.85v0.85h-0.85zM837.5 54.1h0.85v0.85h-0.85zM842.5 61.7h0.85v0.85h-0.85zM834.3 71.0h0.85v0.85h-0.85zM822.1 77.1h0.85v0.85h-0.85zM805.2 91.3h0.85v0.85h-0.85zM837.3 66.3h0.85v0.85h-0.85zM851.9 50.4h0.85v0.85h-0.85zM818.4 79.1h0.85v0.85h-0.85zM847.0 49.3h0.85v0.85h-0.85zM844.8 61.6h0.85v0.85h-0.85zM822.2 83.8h0.85v0.85h-0.85zM810.6 95.7h0.85v0.85h-0.85zM839.7 59.9h0.85v0.85h-0.85zM831.2 74.6h0.85v0.85h-0.85zM816.3 74.7h0.85v0.85h-0.85zM830.6 83.0h0.85v0.85h-0.85zM797.1 99.2h0.85v0.85h-0.85zM839.2 59.7h0.85v0.85h-0.85zM801.6 96.1h0.85v0.85h-0.85zM822.0 80.9h0.85v0.85h-0.85zM832.1 77.8h0.85v0.85h-0.85zM846.6 62.2h0.85v0.85h-0.85zM809.5 89.5h0.85v0.85h-0.85zM849.2 51.6h0.85v0.85h-0.85zM840.8 58.5h0.85v0.85h-0.85zM834.7 63.3h0.85v0.85h-0.85zM835.4 67.4h0.85v0.85h-0.85zM849.9 65.3h0.85v0.85h-0.85zM815.4 89.6h0.85v0.85h-0.85zM818.9 81.6h0.85v0.85h-0.85zM792.8 112.5h0.85v0.85h-0.85zM844.6 61.6h0.85v0.85h-0.85zM807.1 92.1h0.85v0.85h-0.85zM824.1 70.9h0.85v0.85h-0.85zM848.2 52.2h0.85v0.85h-0.85zM811.9 83.0h0.85v0.85h-0.85zM790.4 109.3h0.85v0.85h-0.85zM852.9 47.2h0.85v0.85h-0.85zM806.5 90.9h0.85v0.85h-0.85zM851.8 53.9h0.85v0.85h-0.85zM856.3 53.5h0.85v0.85h-0.85zM801.6 96.3h0.85v0.85h-0.85zM803.0 93.6h0.85v0.85h-0.85zM855.0 44.0h0.85v0.85h-0.85zM821.9 72.5h0.85v0.85h-0.85zM828.1 67.5h0.85v0.85h-0.85zM835.4 69.2h0.85v0.85h-0.85zM850.9 50.1h0.85v0.85h-0.85zM823.6 74.1h0.85v0.85h-0.85zM813.8 86.5h0.85v0.85h-0.85zM808.7 113.4h0.85v0.85h-0.85zM821.9 95.1h0.85v0.85h-0.85zM853.8 44.8h0.85v0.85h-0.85zM804.2 98.7h0.85v0.85h-0.85zM813.9 97.6h0.85v0.85h-0.85zM815.3 79.1h0.85v0.85h-0.85zM818.8 78.5h0.85v0.85h-0.85zM804.1 99.0h0.85v0.85h-0.85zM793.2 119.0h0.85v0.85h-0.85zM810.0 91.0h0.85v0.85h-0.85zM835.8 67.0h0.85v0.85h-0.85zM818.0 84.1h0.85v0.85h-0.85zM848.6 56.5h0.85v0.85h-0.85zM794.1 99.5h0.85v0.85h-0.85zM787.1 107.4h0.85v0.85h-0.85zM853.8 61.3h0.85v0.85h-0.85zM789.4 98.8h0.85v0.85h-0.85zM796.4 103.4h0.85v0.85h-0.85zM822.2 73.9h0.85v0.85h-0.85zM826.8 79.0h0.85v0.85h-0.85zM801.4 94.0h0.85v0.85h-0.85zM821.3 88.2h0.85v0.85h-0.85zM852.1 49.1h0.85v0.85h-0.85zM829.2 72.3h0.85v0.85h-0.85zM825.2 71.8h0.85v0.85h-0.85zM831.0 75.7h0.85v0.85h-0.85zM844.6 54.5h0.85v0.85h-0.85zM837.9 60.2h0.85v0.85h-0.85zM809.9 86.5h0.85v0.85h-0.85zM824.6 71.4h0.85v0.85h-0.85zM844.0 59.0h0.85v0.85h-0.85zM828.2 66.6h0.85v0.85h-0.85zM790.3 103.0h0.85v0.85h-0.85zM831.3 66.5h0.85v0.85h-0.85zM801.5 100.5h0.85v0.85h-0.85zM859.8 54.8h0.85v0.85h-0.85zM809.7 117.0h0.85v0.85h-0.85zM848.1 54.8h0.85v0.85h-0.85zM799.4 100.1h0.85v0.85h-0.85zM851.3 71.7h0.85v0.85h-0.85zM823.8 89.4h0.85v0.85h-0.85zM818.8 79.1h0.85v0.85h-0.85zM844.1 87.2h0.85v0.85h-0.85zM802.6 121.6h0.85v0.85h-0.85zM858.6 43.9h0.85v0.85h-0.85zM832.6 66.4h0.85v0.85h-0.85zM826.2 70.8h0.85v0.85h-0.85zM794.8 102.3h0.85v0.85h-0.85zM812.5 85.9h0.85v0.85h-0.85zM843.1 56.1h0.85v0.85h-0.85zM809.3 96.2h0.85v0.85h-0.85zM816.1 85.3h0.85v0.85h-0.85zM826.8 73.3h0.85v0.85h-0.85zM813.7 97.2h0.85v0.85h-0.85zM815.3 92.3h0.85v0.85h-0.85zM797.7 119.2h0.85v0.85h-0.85zM800.0 105.2h0.85v0.85h-0.85zM841.4 71.1h0.85v0.85h-0.85zM846.8 56.6h0.85v0.85h-0.85zM854.9 48.2h0.85v0.85h-0.85zM825.6 73.1h0.85v0.85h-0.85zM840.4 57.8h0.85v0.85h-0.85zM789.8 108.1h0.85v0.85h-0.85zM794.2 118.4h0.85v0.85h-0.85zM817.3 85.8h0.85v0.85h-0.85zM811.9 85.9h0.85v0.85h-0.85zM842.9 60.6h0.85v0.85h-0.85zM854.4 46.7h0.85v0.85h-0.85zM853.2 49.4h0.85v0.85h-0.85zM795.7 102.3h0.85v0.85h-0.85zM796.7 118.5h0.85v0.85h-0.85zM794.4 103.9h0.85v0.85h-0.85zM827.2 88.8h0.85v0.85h-0.85zM845.7 70.8h0.85v0.85h-0.85zM854.3 52.0h0.85v0.85h-0.85zM800.3 96.9h0.85v0.85h-0.85zM800.7 96.8h0.85v0.85h-0.85zM803.6 91.6h0.85v0.85h-0.85zM855.3 44.6h0.85v0.85h-0.85zM826.8 70.0h0.85v0.85h-0.85zM817.7 85.4h0.85v0.85h-0.85zM850.9 51.5h0.85v0.85h-0.85zM853.6 46.8h0.85v0.85h-0.85zM859.4 50.6h0.85v0.85h-0.85zM788.0 99.2h0.85v0.85h-0.85zM804.4 89.6h0.85v0.85h-0.85zM784.6 109.6h0.85v0.85h-0.85zM800.5 100.4h0.85v0.85h-0.85zM810.8 92.5h0.85v0.85h-0.85zM817.5 80.2h0.85v0.85h-0.85zM786.5 112.5h0.85v0.85h-0.85zM815.6 88.4h0.85v0.85h-0.85zM826.3 101.6h0.85v0.85h-0.85zM795.3 103.7h0.85v0.85h-0.85zM801.6 90.5h0.85v0.85h-0.85zM841.8 56.9h0.85v0.85h-0.85zM849.0 51.0h0.85v0.85h-0.85zM789.5 109.8h0.85v0.85h-0.85zM846.3 55.9h0.85v0.85h-0.85zM836.2 62.7h0.85v0.85h-0.85zM841.7 60.1h0.85v0.85h-0.85zM829.7 70.4h0.85v0.85h-0.85zM841.8 63.3h0.85v0.85h-0.85zM830.0 68.0h0.85v0.85h-0.85zM784.9 110.6h0.85v0.85h-0.85zM845.3 72.6h0.85v0.85h-0.85zM816.9 79.3h0.85v0.85h-0.85zM841.6 69.7h0.85v0.85h-0.85zM817.9 78.5h0.85v0.85h-0.85zM795.0 100.6h0.85v0.85h-0.85zM795.3 101.1h0.85v0.85h-0.85zM845.4 53.1h0.85v0.85h-0.85zM819.3 96.3h0.85v0.85h-0.85zM797.6 104.8h0.85v0.85h-0.85zM785.8 111.4h0.85v0.85h-0.85zM831.7 71.0h0.85v0.85h-0.85zM801.1 94.8h0.85v0.85h-0.85zM841.6 67.1h0.85v0.85h-0.85zM832.3 69.9h0.85v0.85h-0.85zM807.8 88.0h0.85v0.85h-0.85zM812.4 97.6h0.85v0.85h-0.85zM806.1 97.9h0.85v0.85h-0.85zM803.5 93.3h0.85v0.85h-0.85zM800.6 117.3h0.85v0.85h-0.85zM829.5 77.1h0.85v0.85h-0.85zM808.2 89.1h0.85v0.85h-0.85zM815.2 89.7h0.85v0.85h-0.85zM807.8 114.1h0.85v0.85h-0.85zM857.4 44.7h0.85v0.85h-0.85zM825.4 73.8h0.85v0.85h-0.85zM822.0 75.8h0.85v0.85h-0.85zM827.5 75.8h0.85v0.85h-0.85zM813.6 83.7h0.85v0.85h-0.85zM809.9 100.7h0.85v0.85h-0.85zM827.7 90.6h0.85v0.85h-0.85zM825.9 71.5h0.85v0.85h-0.85zM782.4 107.9h0.85v0.85h-0.85zM838.9 62.6h0.85v0.85h-0.85zM845.7 49.4h0.85v0.85h-0.85zM806.5 91.1h0.85v0.85h-0.85zM813.7 83.8h0.85v0.85h-0.85zM830.3 58.0h0.85v0.85h-0.85zM809.4 90.7h0.85v0.85h-0.85zM819.8 79.8h0.85v0.85h-0.85zM843.8 74.3h0.85v0.85h-0.85zM855.3 41.7h0.85v0.85h-0.85zM811.4 102.6h0.85v0.85h-0.85zM825.7 82.9h0.85v0.85h-0.85zM822.7 74.6h0.85v0.85h-0.85zM819.8 75.7h0.85v0.85h-0.85zM833.8 63.3h0.85v0.85h-0.85zM811.6 92.7h0.85v0.85h-0.85zM855.1 47.7h0.85v0.85h-0.85zM842.0 58.0h0.85v0.85h-0.85zM820.1 84.6h0.85v0.85h-0.85zM833.1 69.0h0.85v0.85h-0.85zM798.4 116.7h0.85v0.85h-0.85zM786.8 110.8h0.85v0.85h-0.85zM835.9 83.5h0.85v0.85h-0.85zM793.7 104.5h0.85v0.85h-0.85zM791.8 118.0h0.85v0.85h-0.85zM847.7 51.1h0.85v0.85h-0.85zM819.5 78.0h0.85v0.85h-0.85zM842.4 62.0h0.85v0.85h-0.85zM831.8 66.1h0.85v0.85h-0.85zM835.0 60.8h0.85v0.85h-0.85zM818.1 89.1h0.85v0.85h-0.85zM852.0 59.2h0.85v0.85h-0.85zM805.2 87.3h0.85v0.85h-0.85zM857.1 44.4h0.85v0.85h-0.85zM844.2 56.0h0.85v0.85h-0.85zM801.4 99.5h0.85v0.85h-0.85zM849.5 49.0h0.85v0.85h-0.85zM788.7 106.4h0.85v0.85h-0.85zM805.2 125.0h0.85v0.85h-0.85zM818.8 84.4h0.85v0.85h-0.85zM853.5 47.2h0.85v0.85h-0.85zM858.0 48.0h0.85v0.85h-0.85zM786.9 114.0h0.85v0.85h-0.85zM822.7 86.1h0.85v0.85h-0.85zM816.5 80.1h0.85v0.85h-0.85zM785.5 109.6h0.85v0.85h-0.85zM843.8 57.4h0.85v0.85h-0.85zM847.3 54.0h0.85v0.85h-0.85zM797.3 100.5h0.85v0.85h-0.85zM803.3 94.9h0.85v0.85h-0.85zM817.2 79.4h0.85v0.85h-0.85zM788.2 112.9h0.85v0.85h-0.85zM804.4 95.1h0.85v0.85h-0.85zM839.3 65.0h0.85v0.85h-0.85zM789.2 105.1h0.85v0.85h-0.85zM803.4 92.0h0.85v0.85h-0.85zM849.1 54.5h0.85v0.85h-0.85zM807.4 93.5h0.85v0.85h-0.85zM852.5 51.8h0.85v0.85h-0.85zM841.4 60.5h0.85v0.85h-0.85zM793.8 103.0h0.85v0.85h-0.85zM821.7 84.4h0.85v0.85h-0.85zM820.3 91.0h0.85v0.85h-0.85zM822.0 79.4h0.85v0.85h-0.85zM807.9 92.8h0.85v0.85h-0.85zM807.2 89.8h0.85v0.85h-0.85zM793.0 112.0h0.85v0.85h-0.85zM813.5 82.7h0.85v0.85h-0.85zM810.6 84.9h0.85v0.85h-0.85zM862.2 45.9h0.85v0.85h-0.85zM793.2 107.3h0.85v0.85h-0.85zM833.4 64.2h0.85v0.85h-0.85zM846.9 51.7h0.85v0.85h-0.85zM831.4 67.8h0.85v0.85h-0.85zM843.7 54.8h0.85v0.85h-0.85zM822.0 79.9h0.85v0.85h-0.85zM867.4 32.9h0.85v0.85h-0.85zM863.7 34.4h0.85v0.85h-0.85zM854.3 44.1h0.85v0.85h-0.85zM862.8 43.2h0.85v0.85h-0.85zM856.3 43.7h0.85v0.85h-0.85zM864.5 42.6h0.85v0.85h-0.85zM862.9 38.0h0.85v0.85h-0.85zM854.9 45.7h0.85v0.85h-0.85zM865.9 35.3h0.85v0.85h-0.85zM865.4 33.7h0.85v0.85h-0.85zM854.9 44.6h0.85v0.85h-0.85zM862.8 37.3h0.85v0.85h-0.85zM857.0 44.3h0.85v0.85h-0.85zM865.3 37.4h0.85v0.85h-0.85zM866.2 34.9h0.85v0.85h-0.85zM866.5 35.4h0.85v0.85h-0.85zM855.5 45.1h0.85v0.85h-0.85zM862.6 34.8h0.85v0.85h-0.85zM863.1 35.9h0.85v0.85h-0.85zM866.7 33.1h0.85v0.85h-0.85zM856.4 46.8h0.85v0.85h-0.85zM855.2 41.5h0.85v0.85h-0.85zM863.4 42.1h0.85v0.85h-0.85zM860.5 39.5h0.85v0.85h-0.85zM855.2 46.8h0.85v0.85h-0.85zM852.6 41.5h0.85v0.85h-0.85zM861.0 38.7h0.85v0.85h-0.85zM866.8 37.6h0.85v0.85h-0.85zM863.0 42.5h0.85v0.85h-0.85zM858.7 38.8h0.85v0.85h-0.85zM864.8 33.0h0.85v0.85h-0.85zM867.0 31.7h0.85v0.85h-0.85zM864.1 37.1h0.85v0.85h-0.85zM867.6 37.4h0.85v0.85h-0.85zM860.2 36.0h0.85v0.85h-0.85zM856.9 43.6h0.85v0.85h-0.85zM789.0 131.9h0.85v0.85h-0.85zM783.8 127.5h0.85v0.85h-0.85zM780.1 112.5h0.85v0.85h-0.85zM783.5 120.0h0.85v0.85h-0.85zM784.4 120.0h0.85v0.85h-0.85zM771.8 110.6h0.85v0.85h-0.85zM782.6 112.8h0.85v0.85h-0.85zM784.1 110.4h0.85v0.85h-0.85zM785.2 120.7h0.85v0.85h-0.85zM777.2 127.6h0.85v0.85h-0.85zM782.5 134.0h0.85v0.85h-0.85zM773.8 117.5h0.85v0.85h-0.85zM768.2 142.0h0.85v0.85h-0.85zM778.5 128.1h0.85v0.85h-0.85zM787.6 119.7h0.85v0.85h-0.85zM770.1 110.4h0.85v0.85h-0.85zM795.4 136.9h0.85v0.85h-0.85zM779.2 117.5h0.85v0.85h-0.85zM781.0 118.4h0.85v0.85h-0.85zM785.2 116.8h0.85v0.85h-0.85zM775.8 121.3h0.85v0.85h-0.85zM761.7 121.4h0.85v0.85h-0.85zM766.7 135.3h0.85v0.85h-0.85zM784.1 103.3h0.85v0.85h-0.85zM783.5 117.1h0.85v0.85h-0.85zM781.4 131.4h0.85v0.85h-0.85zM776.1 123.6h0.85v0.85h-0.85zM781.8 126.9h0.85v0.85h-0.85zM790.6 101.4h0.85v0.85h-0.85zM786.1 121.7h0.85v0.85h-0.85zM780.3 129.6h0.85v0.85h-0.85zM775.0 120.2h0.85v0.85h-0.85zM798.7 121.5h0.85v0.85h-0.85zM782.4 105.7h0.85v0.85h-0.85zM781.5 114.2h0.85v0.85h-0.85zM773.0 118.9h0.85v0.85h-0.85zM779.2 122.4h0.85v0.85h-0.85zM780.4 141.1h0.85v0.85h-0.85zM779.7 130.4h0.85v0.85h-0.85zM780.3 124.1h0.85v0.85h-0.85z" fill="#3d50ff"/><path d="M843.9 55.3h0.85v0.85h-0.85zM851.2 49.2h0.85v0.85h-0.85zM790.7 111.9h0.85v0.85h-0.85zM831.6 70.8h0.85v0.85h-0.85zM812.8 97.5h0.85v0.85h-0.85zM835.5 58.4h0.85v0.85h-0.85zM804.0 100.4h0.85v0.85h-0.85zM812.3 91.1h0.85v0.85h-0.85zM807.9 98.7h0.85v0.85h-0.85zM826.4 70.9h0.85v0.85h-0.85zM863.5 52.5h0.85v0.85h-0.85zM857.2 42.1h0.85v0.85h-0.85zM857.8 49.1h0.85v0.85h-0.85zM797.0 111.3h0.85v0.85h-0.85zM814.4 91.1h0.85v0.85h-0.85zM816.6 81.3h0.85v0.85h-0.85zM859.0 48.6h0.85v0.85h-0.85zM840.7 63.5h0.85v0.85h-0.85zM791.7 108.4h0.85v0.85h-0.85zM855.6 39.0h0.85v0.85h-0.85zM830.6 69.8h0.85v0.85h-0.85zM821.2 76.6h0.85v0.85h-0.85zM795.7 104.7h0.85v0.85h-0.85zM847.2 57.2h0.85v0.85h-0.85zM812.3 80.4h0.85v0.85h-0.85zM808.9 92.2h0.85v0.85h-0.85zM794.1 101.3h0.85v0.85h-0.85zM785.8 104.3h0.85v0.85h-0.85zM843.2 54.4h0.85v0.85h-0.85zM796.1 99.0h0.85v0.85h-0.85zM806.3 90.4h0.85v0.85h-0.85zM831.6 67.2h0.85v0.85h-0.85zM799.1 120.4h0.85v0.85h-0.85zM808.8 93.2h0.85v0.85h-0.85zM824.0 73.0h0.85v0.85h-0.85zM828.9 73.8h0.85v0.85h-0.85zM826.8 77.1h0.85v0.85h-0.85zM857.1 47.6h0.85v0.85h-0.85zM805.5 92.6h0.85v0.85h-0.85zM837.2 57.7h0.85v0.85h-0.85zM806.4 90.8h0.85v0.85h-0.85zM811.4 92.1h0.85v0.85h-0.85zM810.5 95.1h0.85v0.85h-0.85zM831.9 69.6h0.85v0.85h-0.85zM845.7 60.9h0.85v0.85h-0.85zM834.3 66.1h0.85v0.85h-0.85zM808.2 89.4h0.85v0.85h-0.85zM857.9 47.1h0.85v0.85h-0.85zM803.3 102.9h0.85v0.85h-0.85zM849.5 48.3h0.85v0.85h-0.85zM834.1 67.3h0.85v0.85h-0.85zM811.9 86.9h0.85v0.85h-0.85zM850.6 49.6h0.85v0.85h-0.85zM847.9 53.0h0.85v0.85h-0.85zM813.2 116.1h0.85v0.85h-0.85zM803.5 94.5h0.85v0.85h-0.85zM843.7 65.8h0.85v0.85h-0.85zM798.6 103.1h0.85v0.85h-0.85zM808.9 84.1h0.85v0.85h-0.85zM829.2 71.0h0.85v0.85h-0.85zM834.2 67.0h0.85v0.85h-0.85zM796.2 111.6h0.85v0.85h-0.85zM832.1 69.8h0.85v0.85h-0.85zM792.4 99.0h0.85v0.85h-0.85zM804.7 92.8h0.85v0.85h-0.85zM800.0 101.8h0.85v0.85h-0.85zM785.7 111.4h0.85v0.85h-0.85zM847.0 50.3h0.85v0.85h-0.85zM793.3 106.8h0.85v0.85h-0.85zM809.0 88.3h0.85v0.85h-0.85zM853.0 46.9h0.85v0.85h-0.85zM833.1 68.3h0.85v0.85h-0.85zM819.3 80.7h0.85v0.85h-0.85zM791.6 96.2h0.85v0.85h-0.85zM839.6 58.4h0.85v0.85h-0.85zM810.8 87.3h0.85v0.85h-0.85zM858.0 44.5h0.85v0.85h-0.85zM854.2 45.0h0.85v0.85h-0.85zM785.3 108.6h0.85v0.85h-0.85zM841.8 61.9h0.85v0.85h-0.85zM821.0 79.3h0.85v0.85h-0.85zM798.2 108.7h0.85v0.85h-0.85zM854.0 45.1h0.85v0.85h-0.85zM805.9 91.8h0.85v0.85h-0.85zM786.6 113.4h0.85v0.85h-0.85zM807.0 87.5h0.85v0.85h-0.85zM795.6 101.7h0.85v0.85h-0.85zM835.6 61.7h0.85v0.85h-0.85zM839.3 62.5h0.85v0.85h-0.85zM837.1 58.5h0.85v0.85h-0.85zM816.6 84.5h0.85v0.85h-0.85zM814.1 81.0h0.85v0.85h-0.85zM816.2 78.2h0.85v0.85h-0.85zM851.1 52.9h0.85v0.85h-0.85zM823.4 78.0h0.85v0.85h-0.85zM833.9 68.2h0.85v0.85h-0.85zM815.5 85.0h0.85v0.85h-0.85zM812.9 91.3h0.85v0.85h-0.85zM798.7 98.6h0.85v0.85h-0.85zM785.4 110.5h0.85v0.85h-0.85zM798.6 97.8h0.85v0.85h-0.85zM845.6 68.8h0.85v0.85h-0.85zM799.4 98.8h0.85v0.85h-0.85zM809.9 88.3h0.85v0.85h-0.85zM806.9 89.8h0.85v0.85h-0.85zM815.6 84.7h0.85v0.85h-0.85zM827.7 78.1h0.85v0.85h-0.85zM828.1 67.9h0.85v0.85h-0.85zM836.7 63.0h0.85v0.85h-0.85zM797.3 110.6h0.85v0.85h-0.85zM793.5 101.8h0.85v0.85h-0.85zM804.1 94.4h0.85v0.85h-0.85zM835.6 64.7h0.85v0.85h-0.85zM822.8 75.6h0.85v0.85h-0.85zM830.4 75.6h0.85v0.85h-0.85zM842.2 58.5h0.85v0.85h-0.85zM794.7 105.3h0.85v0.85h-0.85zM852.9 48.6h0.85v0.85h-0.85zM802.8 95.8h0.85v0.85h-0.85zM799.2 102.7h0.85v0.85h-0.85zM848.8 47.6h0.85v0.85h-0.85zM848.7 49.4h0.85v0.85h-0.85zM816.8 81.9h0.85v0.85h-0.85zM809.3 90.5h0.85v0.85h-0.85zM800.3 108.0h0.85v0.85h-0.85zM853.3 49.3h0.85v0.85h-0.85zM792.3 117.0h0.85v0.85h-0.85zM831.8 74.6h0.85v0.85h-0.85zM814.6 83.2h0.85v0.85h-0.85zM860.8 47.8h0.85v0.85h-0.85zM830.3 68.1h0.85v0.85h-0.85zM821.9 74.9h0.85v0.85h-0.85zM815.4 98.9h0.85v0.85h-0.85zM846.0 53.9h0.85v0.85h-0.85zM786.7 108.3h0.85v0.85h-0.85zM803.9 94.9h0.85v0.85h-0.85zM850.3 45.1h0.85v0.85h-0.85zM812.3 84.7h0.85v0.85h-0.85zM807.4 95.0h0.85v0.85h-0.85zM816.6 80.7h0.85v0.85h-0.85zM831.4 86.2h0.85v0.85h-0.85zM793.6 98.4h0.85v0.85h-0.85zM861.1 53.1h0.85v0.85h-0.85zM855.3 41.7h0.85v0.85h-0.85zM842.5 58.9h0.85v0.85h-0.85zM840.3 59.7h0.85v0.85h-0.85zM810.6 122.8h0.85v0.85h-0.85zM830.9 66.8h0.85v0.85h-0.85zM849.0 53.7h0.85v0.85h-0.85zM810.6 91.6h0.85v0.85h-0.85zM791.5 107.9h0.85v0.85h-0.85zM802.8 94.7h0.85v0.85h-0.85zM840.1 57.0h0.85v0.85h-0.85zM784.6 111.3h0.85v0.85h-0.85zM856.0 39.5h0.85v0.85h-0.85zM849.5 54.8h0.85v0.85h-0.85zM858.7 55.2h0.85v0.85h-0.85zM827.9 78.1h0.85v0.85h-0.85zM852.1 49.5h0.85v0.85h-0.85zM833.1 65.4h0.85v0.85h-0.85zM786.7 111.6h0.85v0.85h-0.85zM805.3 94.4h0.85v0.85h-0.85zM803.0 101.8h0.85v0.85h-0.85zM806.7 92.9h0.85v0.85h-0.85zM789.6 107.4h0.85v0.85h-0.85zM821.7 88.5h0.85v0.85h-0.85zM822.9 76.7h0.85v0.85h-0.85zM853.3 47.2h0.85v0.85h-0.85zM809.2 89.7h0.85v0.85h-0.85zM862.4 38.1h0.85v0.85h-0.85zM862.3 40.5h0.85v0.85h-0.85zM860.3 42.6h0.85v0.85h-0.85zM856.0 45.4h0.85v0.85h-0.85zM867.6 32.9h0.85v0.85h-0.85zM867.4 31.2h0.85v0.85h-0.85zM861.1 42.8h0.85v0.85h-0.85zM856.0 46.6h0.85v0.85h-0.85zM863.4 37.8h0.85v0.85h-0.85zM861.7 36.2h0.85v0.85h-0.85zM858.5 40.1h0.85v0.85h-0.85zM857.2 44.8h0.85v0.85h-0.85zM859.4 39.5h0.85v0.85h-0.85zM864.7 35.4h0.85v0.85h-0.85zM857.3 44.9h0.85v0.85h-0.85zM862.3 36.1h0.85v0.85h-0.85zM860.7 38.7h0.85v0.85h-0.85zM858.5 44.6h0.85v0.85h-0.85zM865.3 42.2h0.85v0.85h-0.85zM867.7 32.1h0.85v0.85h-0.85zM866.9 32.5h0.85v0.85h-0.85zM869.0 37.8h0.85v0.85h-0.85zM867.5 33.7h0.85v0.85h-0.85zM865.7 34.7h0.85v0.85h-0.85zM863.9 41.6h0.85v0.85h-0.85zM865.2 34.6h0.85v0.85h-0.85zM862.3 35.2h0.85v0.85h-0.85zM855.4 44.9h0.85v0.85h-0.85zM777.8 131.5h0.85v0.85h-0.85zM776.7 130.0h0.85v0.85h-0.85zM777.5 122.0h0.85v0.85h-0.85zM778.6 101.4h0.85v0.85h-0.85zM787.9 135.0h0.85v0.85h-0.85zM788.4 147.0h0.85v0.85h-0.85zM783.0 111.8h0.85v0.85h-0.85zM784.7 132.9h0.85v0.85h-0.85zM781.0 117.7h0.85v0.85h-0.85zM785.4 122.3h0.85v0.85h-0.85zM783.1 124.0h0.85v0.85h-0.85zM772.2 122.9h0.85v0.85h-0.85zM780.0 112.9h0.85v0.85h-0.85zM785.6 106.3h0.85v0.85h-0.85zM777.6 103.4h0.85v0.85h-0.85zM779.5 125.2h0.85v0.85h-0.85zM786.8 123.4h0.85v0.85h-0.85zM784.3 110.5h0.85v0.85h-0.85zM787.0 112.8h0.85v0.85h-0.85zM786.3 125.5h0.85v0.85h-0.85zM783.5 122.1h0.85v0.85h-0.85zM774.5 122.6h0.85v0.85h-0.85zM784.2 124.3h0.85v0.85h-0.85zM786.0 132.3h0.85v0.85h-0.85zM789.5 140.8h0.85v0.85h-0.85zM775.0 104.3h0.85v0.85h-0.85zM773.3 127.8h0.85v0.85h-0.85zM779.6 114.3h0.85v0.85h-0.85zM771.2 112.9h0.85v0.85h-0.85zM784.1 125.1h0.85v0.85h-0.85zM780.6 106.4h0.85v0.85h-0.85zM789.9 118.0h0.85v0.85h-0.85zM781.8 125.2h0.85v0.85h-0.85zM777.3 122.7h0.85v0.85h-0.85zM787.8 119.7h0.85v0.85h-0.85zM772.5 135.5h0.85v0.85h-0.85zM775.5 116.7h0.85v0.85h-0.85zM765.6 138.5h0.85v0.85h-0.85zM778.9 114.3h0.85v0.85h-0.85zM781.5 107.6h0.85v0.85h-0.85zM786.6 111.7h0.85v0.85h-0.85zM789.7 115.0h0.85v0.85h-0.85zM785.4 134.5h0.85v0.85h-0.85zM772.6 114.5h0.85v0.85h-0.85zM786.2 110.8h0.85v0.85h-0.85zM776.7 127.9h0.85v0.85h-0.85zM797.9 137.4h0.85v0.85h-0.85zM777.5 122.8h0.85v0.85h-0.85zM785.1 126.0h0.85v0.85h-0.85zM785.4 124.8h0.85v0.85h-0.85zM791.3 124.8h0.85v0.85h-0.85zM786.9 134.1h0.85v0.85h-0.85zM788.9 127.3h0.85v0.85h-0.85zM791.7 115.0h0.85v0.85h-0.85zM790.0 119.6h0.85v0.85h-0.85zM768.7 123.3h0.85v0.85h-0.85zM781.0 132.9h0.85v0.85h-0.85zM771.2 131.5h0.85v0.85h-0.85zM772.9 112.2h0.85v0.85h-0.85zM766.2 112.7h0.85v0.85h-0.85zM783.9 126.3h0.85v0.85h-0.85zM767.0 118.2h0.85v0.85h-0.85zM761.0 126.8h0.85v0.85h-0.85zM761.2 98.6h0.85v0.85h-0.85zM778.6 128.7h0.85v0.85h-0.85zM769.1 123.6h0.85v0.85h-0.85zM772.5 122.5h0.85v0.85h-0.85zM770.4 110.7h0.85v0.85h-0.85zM757.9 116.4h0.85v0.85h-0.85zM759.3 96.0h0.85v0.85h-0.85zM783.6 109.1h0.85v0.85h-0.85zM788.0 103.7h0.85v0.85h-0.85zM771.5 114.2h0.85v0.85h-0.85zM777.9 117.8h0.85v0.85h-0.85zM749.9 107.8h0.85v0.85h-0.85zM758.2 124.2h0.85v0.85h-0.85zM769.8 110.2h0.85v0.85h-0.85zM767.6 124.9h0.85v0.85h-0.85zM766.6 100.9h0.85v0.85h-0.85zM776.1 119.3h0.85v0.85h-0.85z" fill="#8a96ff"/><g transform="rotate(-43.4 821.9 75.8)" filter="url(#b04)"><ellipse cx="820.9" cy="76.8" rx="47" ry="3.6" fill="#2336ff"/><ellipse cx="817.9" cy="75.8" rx="37" ry="2.5" fill="#1fb4f4"/><ellipse cx="816.9" cy="75.7" rx="31" ry="1.9" fill="#2fe04a"/><ellipse cx="822.9" cy="75.6" rx="15" ry="1.25" fill="#e8e822"/><ellipse cx="823.9" cy="75.55" rx="9.5" ry="0.8" fill="#ff4a12"/></g><path d="M765.5 179.8h1.1v0.9h-1zM803.1 179.8h1.5v0.9h-1zM747.8 179.8h1.3v0.9h-1zM801.3 179.8h0.8v0.9h-1zM787.6 179.8h1.5v0.9h-1zM747.7 179.8h1.1v0.9h-1zM801.8 179.8h1.2v0.9h-1zM790.2 179.8h0.7v0.9h-1zM775.2 179.8h1.1v0.9h-1zM755.8 179.8h0.7v0.9h-1zM801.7 179.8h1.1v0.9h-1zM781.3 179.8h1.5v0.9h-1zM756.4 179.8h1.2v0.9h-1zM763.1 179.8h1.1v0.9h-1zM757.7 179.8h0.9v0.9h-1zM749.3 179.8h0.8v0.9h-1zM769.1 179.8h1.5v0.9h-1zM754.0 179.8h1.4v0.9h-1zM755.0 179.8h1.2v0.9h-1zM775.2 179.8h1.2v0.9h-1zM744.9 179.8h1.3v0.9h-1zM777.2 179.8h1.3v0.9h-1zM761.9 179.8h0.8v0.9h-1zM758.8 179.8h1.4v0.9h-1zM742.0 179.8h1.4v0.9h-1zM793.0 179.8h1.4v0.9h-1zM787.0 179.8h1.5v0.9h-1zM789.2 179.8h0.7v0.9h-1zM751.2 179.8h1.3v0.9h-1zM783.3 179.8h0.7v0.9h-1zM786.8 179.8h1.1v0.9h-1zM794.8 179.8h1.0v0.9h-1zM800.8 179.8h1.2v0.9h-1zM743.9 179.8h1.2v0.9h-1zM805.9 179.8h0.6v0.9h-1zM750.2 179.8h1.0v0.9h-1zM765.8 179.8h0.7v0.9h-1zM802.2 179.8h1.2v0.9h-1zM791.2 179.8h0.9v0.9h-1zM745.8 179.8h1.4v0.9h-1z" fill="#3446ff"/><rect x="771.0" y="179.7" width="16.0" height="1.0" fill="#22c0e8" />
<rect x="775.0" y="179.7" width="9.0" height="1.0" fill="#46e04a" />
<rect x="778.0" y="179.7" width="3.5" height="1.0" fill="#e6e030" />
<rect x="712.2" y="20.9" width="159.6" height="159.8" fill="none" stroke="#9a9a9a" stroke-width="1.1" />
<line x1="776.4" y1="20.9" x2="776.4" y2="180.7" stroke="#111" stroke-width="1.1" />
<line x1="712.2" y1="119.8" x2="871.8" y2="119.8" stroke="#2a2a2a" stroke-width="1.4" />
<line x1="699.5" y1="189.6" x2="699.5" y2="36.0" stroke="#000" stroke-width="1.2" />
<path d="M699.5 31.4l2.7 6.6l-2.7 -1.5l-2.7 1.5Z" fill="#000"/><line x1="698.9" y1="189.3" x2="862.0" y2="189.3" stroke="#000" stroke-width="1.2" />
<path d="M866.8 189.3l-6.6 2.7l1.5 -2.7l-1.5 -2.7Z" fill="#000"/><text x="719.7" y="38.0" font-size="10.4" textLength="23.8" lengthAdjust="spacingAndGlyphs" fill="#1a1a1a">0.46</text>
<text x="840.4" y="38.0" font-size="10.4" textLength="19.3" lengthAdjust="spacing" fill="#1a1a1a">91.1</text>
<text x="719.7" y="170.8" font-size="10.4" textLength="18.0" lengthAdjust="spacing" fill="#1a1a1a">6.11</text>
<text x="840.4" y="170.8" font-size="10.4" textLength="22.0" lengthAdjust="spacingAndGlyphs" fill="#1a1a1a">2.29</text>
<text fill="#1a1a1a" font-size="10.4" text-anchor="middle" textLength="57" lengthAdjust="spacingAndGlyphs" transform="translate(687.8 70.2) rotate(-90)">Cy3-urease</text><text x="796.4" y="204.2" font-size="10.4" textLength="68.3" lengthAdjust="spacingAndGlyphs" fill="#1a1a1a">FITC-catalase</text>
</g>
<g id="panel_j"><g clip-path="url(#cl8)"><rect x="264.0" y="421.1" width="78.7" height="78.6" fill="url(#vig)" />
<g filter="url(#b03)"><path d="M319.3 478.4h1v1h-1zM326.7 463.0h1v1h-1zM338.1 447.6h1v1h-1zM324.2 437.4h1v1h-1zM277.0 471.9h1v1h-1zM335.5 440.0h1v1h-1zM314.1 491.6h1v1h-1zM291.2 487.9h1v1h-1zM333.7 472.2h1v1h-1zM319.4 431.0h1v1h-1zM310.8 438.6h1v1h-1zM308.7 447.5h1v1h-1zM320.5 437.8h1v1h-1zM306.9 476.0h1v1h-1zM326.6 489.3h1v1h-1zM279.9 440.9h1v1h-1zM275.4 471.4h1v1h-1zM269.7 495.0h1v1h-1zM306.5 458.4h1v1h-1zM284.0 432.9h1v1h-1zM340.7 452.7h1v1h-1zM294.8 442.7h1v1h-1zM307.9 439.6h1v1h-1zM291.9 473.9h1v1h-1zM266.3 469.5h1v1h-1zM303.9 435.1h1v1h-1zM299.2 438.1h1v1h-1zM330.0 464.2h1v1h-1zM313.1 470.7h1v1h-1zM309.9 466.9h1v1h-1zM319.5 488.4h1v1h-1zM268.1 455.9h1v1h-1zM276.5 429.8h1v1h-1zM325.1 448.6h1v1h-1zM274.2 470.6h1v1h-1zM301.6 461.2h1v1h-1zM267.6 466.5h1v1h-1zM341.2 422.4h1v1h-1zM332.9 430.9h1v1h-1zM337.1 436.5h1v1h-1zM337.2 476.9h1v1h-1zM289.0 437.4h1v1h-1zM265.7 492.1h1v1h-1zM322.2 487.1h1v1h-1zM306.6 497.3h1v1h-1zM303.1 454.6h1v1h-1zM279.6 435.6h1v1h-1zM338.2 441.8h1v1h-1zM285.2 488.1h1v1h-1zM315.9 428.8h1v1h-1zM277.7 469.4h1v1h-1zM324.6 461.8h1v1h-1zM266.2 486.7h1v1h-1zM292.1 493.8h1v1h-1zM286.9 452.5h1v1h-1zM335.9 478.9h1v1h-1zM324.6 469.5h1v1h-1zM303.3 429.2h1v1h-1zM329.0 486.4h1v1h-1zM331.4 479.5h1v1h-1zM340.6 452.9h1v1h-1zM322.8 475.6h1v1h-1zM307.5 489.3h1v1h-1zM317.7 492.2h1v1h-1zM313.6 462.7h1v1h-1z" fill="#484848"/><path d="M275.8 456.9h.9v.9h-.9zM299.9 425.3h.9v.9h-.9zM279.2 448.5h.9v.9h-.9zM339.3 438.0h.9v.9h-.9zM307.7 491.5h.9v.9h-.9zM264.9 452.3h.9v.9h-.9zM308.5 436.5h.9v.9h-.9zM307.5 496.8h.9v.9h-.9zM320.2 481.7h.9v.9h-.9zM287.0 467.4h.9v.9h-.9zM302.1 480.7h.9v.9h-.9zM330.3 492.2h.9v.9h-.9zM324.1 461.5h.9v.9h-.9zM309.8 433.0h.9v.9h-.9zM331.4 434.4h.9v.9h-.9zM312.8 472.1h.9v.9h-.9zM273.4 436.6h.9v.9h-.9zM337.3 452.7h.9v.9h-.9zM312.6 472.8h.9v.9h-.9zM299.8 436.7h.9v.9h-.9zM296.6 493.8h.9v.9h-.9zM319.7 436.4h.9v.9h-.9zM288.2 494.3h.9v.9h-.9zM270.7 444.7h.9v.9h-.9zM313.2 487.8h.9v.9h-.9zM321.1 435.9h.9v.9h-.9zM326.7 432.7h.9v.9h-.9zM264.8 478.7h.9v.9h-.9zM287.9 488.6h.9v.9h-.9zM281.8 452.1h.9v.9h-.9zM313.1 429.0h.9v.9h-.9zM339.6 432.5h.9v.9h-.9zM309.9 434.8h.9v.9h-.9zM321.7 451.0h.9v.9h-.9zM272.6 486.3h.9v.9h-.9zM273.5 492.6h.9v.9h-.9zM335.6 443.4h.9v.9h-.9zM265.6 460.9h.9v.9h-.9zM268.2 491.7h.9v.9h-.9zM310.2 423.9h.9v.9h-.9zM339.3 481.1h.9v.9h-.9zM288.3 490.0h.9v.9h-.9zM291.2 481.1h.9v.9h-.9zM316.3 456.0h.9v.9h-.9zM281.4 444.4h.9v.9h-.9zM303.3 498.3h.9v.9h-.9zM309.7 466.2h.9v.9h-.9zM270.5 427.9h.9v.9h-.9zM338.1 447.6h.9v.9h-.9zM310.8 458.6h.9v.9h-.9zM333.7 475.6h.9v.9h-.9zM339.4 494.7h.9v.9h-.9zM326.3 470.3h.9v.9h-.9zM301.7 443.2h.9v.9h-.9zM271.6 459.7h.9v.9h-.9z" fill="#8e8e8e"/></g></g><g clip-path="url(#cl9)"><rect x="345.0" y="421.1" width="79.0" height="78.6" fill="url(#vig)" />
<g filter="url(#b03)"><path d="M362.2 438.8h1v1h-1zM351.0 436.6h1v1h-1zM370.9 471.1h1v1h-1zM361.7 455.0h1v1h-1zM397.4 490.1h1v1h-1zM375.1 454.4h1v1h-1zM387.2 448.4h1v1h-1zM357.5 424.3h1v1h-1zM398.8 422.1h1v1h-1zM413.8 486.7h1v1h-1zM407.3 432.5h1v1h-1zM380.3 490.6h1v1h-1zM420.2 490.2h1v1h-1zM372.8 426.1h1v1h-1zM365.0 437.5h1v1h-1zM422.0 491.5h1v1h-1zM388.6 463.1h1v1h-1zM415.2 452.7h1v1h-1zM362.7 426.7h1v1h-1zM354.9 448.2h1v1h-1zM368.7 424.7h1v1h-1zM422.9 479.0h1v1h-1zM422.2 493.2h1v1h-1zM377.6 456.7h1v1h-1zM421.7 483.5h1v1h-1zM378.0 442.2h1v1h-1zM362.4 483.4h1v1h-1zM363.6 436.5h1v1h-1zM415.7 456.4h1v1h-1zM417.1 461.3h1v1h-1zM391.7 494.1h1v1h-1zM383.0 431.6h1v1h-1zM376.9 432.0h1v1h-1zM375.8 464.9h1v1h-1zM418.5 447.4h1v1h-1zM361.1 433.3h1v1h-1zM404.6 480.3h1v1h-1zM348.1 490.8h1v1h-1zM352.6 472.9h1v1h-1zM348.9 426.0h1v1h-1zM407.5 478.0h1v1h-1zM378.3 488.3h1v1h-1zM386.9 476.9h1v1h-1zM364.4 432.2h1v1h-1zM405.0 492.3h1v1h-1zM403.3 466.9h1v1h-1zM402.5 428.4h1v1h-1zM389.1 485.7h1v1h-1zM357.0 460.4h1v1h-1zM356.5 433.9h1v1h-1zM346.1 446.6h1v1h-1zM363.5 490.4h1v1h-1zM401.7 492.2h1v1h-1zM401.2 422.5h1v1h-1zM361.9 429.7h1v1h-1zM346.4 435.2h1v1h-1zM409.7 482.3h1v1h-1zM399.8 459.2h1v1h-1zM404.7 470.9h1v1h-1zM414.1 446.5h1v1h-1zM379.7 476.0h1v1h-1zM368.9 442.9h1v1h-1zM390.8 490.2h1v1h-1zM399.5 423.8h1v1h-1zM377.8 445.9h1v1h-1zM389.9 479.6h1v1h-1zM385.2 482.3h1v1h-1zM423.3 423.4h1v1h-1zM409.9 439.9h1v1h-1zM351.8 463.4h1v1h-1zM351.9 448.2h1v1h-1zM351.3 437.0h1v1h-1zM358.1 462.4h1v1h-1zM393.6 476.8h1v1h-1zM410.6 477.6h1v1h-1zM420.8 478.5h1v1h-1zM361.4 436.7h1v1h-1zM375.9 454.5h1v1h-1zM418.9 476.2h1v1h-1zM346.0 445.7h1v1h-1zM364.4 444.4h1v1h-1zM376.4 488.2h1v1h-1zM349.7 484.0h1v1h-1zM401.3 472.0h1v1h-1zM406.1 447.1h1v1h-1zM419.4 446.5h1v1h-1zM360.8 482.4h1v1h-1zM354.2 457.2h1v1h-1zM367.1 454.3h1v1h-1zM419.4 435.6h1v1h-1z" fill="#484848"/><path d="M390.8 436.7h.9v.9h-.9zM417.6 457.8h.9v.9h-.9zM399.5 438.1h.9v.9h-.9zM405.6 450.0h.9v.9h-.9zM354.1 485.5h.9v.9h-.9zM397.7 422.1h.9v.9h-.9zM400.5 422.3h.9v.9h-.9zM350.6 433.3h.9v.9h-.9zM402.3 449.8h.9v.9h-.9zM382.6 460.3h.9v.9h-.9zM369.8 489.1h.9v.9h-.9zM348.0 448.4h.9v.9h-.9zM400.5 481.7h.9v.9h-.9zM407.3 478.9h.9v.9h-.9zM350.8 464.2h.9v.9h-.9zM409.8 428.6h.9v.9h-.9zM353.0 472.3h.9v.9h-.9zM346.4 470.7h.9v.9h-.9zM381.3 465.8h.9v.9h-.9zM364.1 442.8h.9v.9h-.9zM418.6 444.0h.9v.9h-.9zM380.4 473.2h.9v.9h-.9zM399.1 449.9h.9v.9h-.9zM388.4 431.5h.9v.9h-.9zM370.3 474.1h.9v.9h-.9zM364.3 455.4h.9v.9h-.9zM397.5 442.5h.9v.9h-.9zM419.7 481.6h.9v.9h-.9zM393.6 432.7h.9v.9h-.9zM412.4 426.4h.9v.9h-.9zM366.2 471.1h.9v.9h-.9zM402.4 433.0h.9v.9h-.9zM402.4 467.2h.9v.9h-.9zM360.3 461.7h.9v.9h-.9zM418.1 491.7h.9v.9h-.9zM348.7 469.0h.9v.9h-.9zM423.0 468.4h.9v.9h-.9zM368.0 462.8h.9v.9h-.9zM368.7 439.9h.9v.9h-.9zM412.1 492.9h.9v.9h-.9zM369.3 491.3h.9v.9h-.9zM379.7 493.4h.9v.9h-.9zM406.1 439.0h.9v.9h-.9zM391.7 473.0h.9v.9h-.9zM398.7 450.3h.9v.9h-.9zM418.7 469.5h.9v.9h-.9zM411.8 425.9h.9v.9h-.9zM412.1 425.1h.9v.9h-.9zM355.3 498.1h.9v.9h-.9zM417.0 436.1h.9v.9h-.9zM421.2 478.1h.9v.9h-.9zM367.7 452.4h.9v.9h-.9zM385.8 459.5h.9v.9h-.9zM399.8 443.8h.9v.9h-.9zM394.1 432.2h.9v.9h-.9zM350.5 429.5h.9v.9h-.9zM353.1 463.6h.9v.9h-.9zM380.9 484.8h.9v.9h-.9zM358.3 427.5h.9v.9h-.9zM413.1 487.8h.9v.9h-.9zM385.3 495.9h.9v.9h-.9zM365.4 477.2h.9v.9h-.9zM389.4 443.9h.9v.9h-.9zM414.1 497.6h.9v.9h-.9zM407.3 434.9h.9v.9h-.9zM351.3 441.1h.9v.9h-.9zM412.8 446.5h.9v.9h-.9zM390.8 448.8h.9v.9h-.9zM399.8 446.4h.9v.9h-.9zM368.5 443.8h.9v.9h-.9zM421.6 433.9h.9v.9h-.9zM379.5 490.5h.9v.9h-.9zM365.1 456.2h.9v.9h-.9zM398.6 489.3h.9v.9h-.9zM392.0 453.1h.9v.9h-.9zM393.5 469.3h.9v.9h-.9zM361.5 491.0h.9v.9h-.9zM349.7 449.9h.9v.9h-.9zM361.2 489.0h.9v.9h-.9zM408.6 435.0h.9v.9h-.9zM395.3 459.4h.9v.9h-.9zM374.0 465.9h.9v.9h-.9zM350.0 483.1h.9v.9h-.9zM411.3 437.3h.9v.9h-.9zM385.8 443.7h.9v.9h-.9zM358.8 497.2h.9v.9h-.9zM346.9 438.8h.9v.9h-.9zM386.7 443.9h.9v.9h-.9zM409.8 451.3h.9v.9h-.9zM371.7 453.8h.9v.9h-.9zM365.7 464.1h.9v.9h-.9zM383.6 430.1h.9v.9h-.9zM403.9 484.9h.9v.9h-.9zM381.6 490.6h.9v.9h-.9zM371.7 497.7h.9v.9h-.9zM357.8 479.9h.9v.9h-.9zM348.0 434.7h.9v.9h-.9zM401.9 493.9h.9v.9h-.9zM409.5 469.2h.9v.9h-.9zM412.8 481.0h.9v.9h-.9zM377.4 463.2h.9v.9h-.9zM397.7 487.7h.9v.9h-.9zM365.3 465.4h.9v.9h-.9zM355.1 429.8h.9v.9h-.9zM417.0 477.8h.9v.9h-.9zM383.1 431.1h.9v.9h-.9zM393.2 471.3h.9v.9h-.9zM389.0 430.4h.9v.9h-.9zM413.2 487.7h.9v.9h-.9zM406.8 488.3h.9v.9h-.9zM392.3 483.6h.9v.9h-.9zM354.9 426.9h.9v.9h-.9zM421.2 477.2h.9v.9h-.9zM379.6 442.7h.9v.9h-.9zM372.2 455.7h.9v.9h-.9zM394.3 454.6h.9v.9h-.9zM397.1 464.1h.9v.9h-.9zM382.9 464.7h.9v.9h-.9zM361.6 474.8h.9v.9h-.9zM377.2 467.7h.9v.9h-.9z" fill="#8e8e8e"/></g></g><g clip-path="url(#cl10)"><rect x="264.0" y="503.1" width="78.7" height="78.5" fill="url(#vig)" />
<g filter="url(#b03)"><path d="M276.0 551.3h1v1h-1zM319.9 550.7h1v1h-1zM312.5 547.5h1v1h-1zM332.8 560.6h1v1h-1zM318.1 550.8h1v1h-1zM316.6 522.7h1v1h-1zM322.6 537.0h1v1h-1zM335.0 516.5h1v1h-1zM310.3 552.5h1v1h-1zM301.0 577.0h1v1h-1zM340.2 544.5h1v1h-1zM337.4 576.8h1v1h-1zM337.5 520.1h1v1h-1zM316.0 520.7h1v1h-1zM275.6 540.8h1v1h-1zM270.8 533.8h1v1h-1zM273.7 515.3h1v1h-1zM289.2 560.0h1v1h-1zM283.4 518.2h1v1h-1zM330.0 553.4h1v1h-1z" fill="#484848"/><path d="M305.7 551.6h.9v.9h-.9zM282.1 513.5h.9v.9h-.9zM303.4 520.8h.9v.9h-.9zM275.8 551.7h.9v.9h-.9zM290.4 556.9h.9v.9h-.9zM307.9 537.7h.9v.9h-.9zM333.6 567.5h.9v.9h-.9zM313.1 570.9h.9v.9h-.9zM294.9 561.2h.9v.9h-.9zM335.6 551.9h.9v.9h-.9zM270.1 570.1h.9v.9h-.9zM294.4 523.3h.9v.9h-.9zM322.3 519.2h.9v.9h-.9zM327.2 567.9h.9v.9h-.9z" fill="#8e8e8e"/></g></g><g clip-path="url(#cl11)"><rect x="345.0" y="503.1" width="79.0" height="78.5" fill="url(#vig)" />
<g filter="url(#b03)"><path d="M402.8 520.3h1v1h-1zM392.5 513.0h1v1h-1zM414.9 571.2h1v1h-1zM347.4 521.1h1v1h-1zM355.5 544.2h1v1h-1zM410.0 522.9h1v1h-1zM382.5 523.0h1v1h-1zM368.6 540.9h1v1h-1zM378.3 523.2h1v1h-1zM405.7 558.5h1v1h-1zM388.4 549.9h1v1h-1zM350.5 538.1h1v1h-1zM389.6 551.8h1v1h-1zM375.1 540.6h1v1h-1zM388.7 556.0h1v1h-1zM419.1 556.5h1v1h-1zM371.4 552.5h1v1h-1zM358.2 536.8h1v1h-1zM403.5 528.3h1v1h-1zM371.1 565.2h1v1h-1z" fill="#484848"/><path d="M421.9 539.0h.9v.9h-.9zM351.9 520.8h.9v.9h-.9zM377.4 560.4h.9v.9h-.9zM377.9 564.5h.9v.9h-.9zM390.8 576.9h.9v.9h-.9zM362.3 580.0h.9v.9h-.9zM415.3 544.6h.9v.9h-.9zM417.2 511.1h.9v.9h-.9zM400.1 510.6h.9v.9h-.9zM423.2 580.1h.9v.9h-.9zM409.4 538.0h.9v.9h-.9zM396.0 571.2h.9v.9h-.9zM375.6 548.4h.9v.9h-.9zM398.9 569.4h.9v.9h-.9zM422.0 527.6h.9v.9h-.9zM359.7 531.8h.9v.9h-.9zM348.0 551.2h.9v.9h-.9zM347.7 571.9h.9v.9h-.9zM413.3 525.8h.9v.9h-.9zM386.1 534.6h.9v.9h-.9zM356.1 563.6h.9v.9h-.9zM398.6 546.0h.9v.9h-.9z" fill="#8e8e8e"/></g></g><text x="303.0" y="415.5" font-size="10.6" text-anchor="middle" textLength="36.5" lengthAdjust="spacingAndGlyphs" fill="#1a1a1a">60 min</text>
<text x="384.0" y="415.5" font-size="10.6" text-anchor="middle" textLength="36.5" lengthAdjust="spacingAndGlyphs" fill="#1a1a1a">90 min</text>
<text fill="#1a1a1a" font-size="10.6" text-anchor="middle" textLength="26.5" lengthAdjust="spacingAndGlyphs" transform="translate(257.5 460.5) rotate(-90)">CBRs</text><text fill="#1a1a1a" font-size="10.6" text-anchor="middle" textLength="42" lengthAdjust="spacingAndGlyphs" transform="translate(257.5 541.5) rotate(-90)">Bubbles</text><rect x="406.7" y="573.0" width="11.2" height="3.0" fill="#000" />
</g>
<g id="panel_m"><g clip-path="url(#cl12)"><rect x="264.0" y="624.1" width="78.7" height="78.4" fill="url(#vig)" />
<g filter="url(#b03)"><path d="M275.6 691.2h1v1h-1zM265.4 658.7h1v1h-1zM279.5 690.6h1v1h-1zM319.0 651.8h1v1h-1zM314.4 634.0h1v1h-1zM294.3 688.1h1v1h-1zM300.7 701.6h1v1h-1zM334.2 667.6h1v1h-1zM291.3 664.5h1v1h-1zM266.0 659.3h1v1h-1zM314.6 652.7h1v1h-1zM287.2 655.0h1v1h-1zM312.9 628.4h1v1h-1zM299.8 626.9h1v1h-1zM274.9 686.5h1v1h-1zM298.9 681.0h1v1h-1zM279.4 675.7h1v1h-1zM328.7 627.6h1v1h-1zM283.4 684.5h1v1h-1zM300.1 677.0h1v1h-1zM319.5 651.2h1v1h-1zM314.3 664.3h1v1h-1zM337.9 684.1h1v1h-1zM326.2 683.9h1v1h-1zM269.1 662.5h1v1h-1zM317.1 637.1h1v1h-1zM294.0 701.0h1v1h-1zM338.6 670.5h1v1h-1zM272.0 658.7h1v1h-1zM338.7 679.1h1v1h-1zM319.3 636.0h1v1h-1zM325.2 652.3h1v1h-1zM317.9 699.0h1v1h-1zM335.3 663.0h1v1h-1zM341.3 662.5h1v1h-1zM323.0 672.9h1v1h-1zM314.5 651.9h1v1h-1zM316.6 693.0h1v1h-1zM270.9 674.1h1v1h-1zM277.4 696.4h1v1h-1zM266.3 627.1h1v1h-1zM315.9 681.3h1v1h-1zM292.7 682.4h1v1h-1zM300.2 666.4h1v1h-1zM271.7 673.9h1v1h-1zM315.4 671.7h1v1h-1zM277.9 644.8h1v1h-1zM321.6 667.0h1v1h-1zM295.4 652.8h1v1h-1zM278.7 662.1h1v1h-1zM341.9 648.2h1v1h-1zM281.3 664.7h1v1h-1zM311.2 657.8h1v1h-1zM266.9 698.1h1v1h-1zM326.9 647.1h1v1h-1zM303.6 697.2h1v1h-1z" fill="#484848"/><path d="M268.0 640.3h.9v.9h-.9zM265.8 646.1h.9v.9h-.9zM298.3 677.7h.9v.9h-.9zM274.6 662.7h.9v.9h-.9zM282.0 676.7h.9v.9h-.9zM326.2 635.9h.9v.9h-.9zM283.0 682.6h.9v.9h-.9zM318.0 685.3h.9v.9h-.9zM333.0 632.8h.9v.9h-.9zM328.7 687.6h.9v.9h-.9zM305.6 648.4h.9v.9h-.9zM291.4 700.4h.9v.9h-.9zM266.9 666.8h.9v.9h-.9zM321.7 641.0h.9v.9h-.9zM282.0 628.2h.9v.9h-.9zM299.4 629.9h.9v.9h-.9zM265.6 698.0h.9v.9h-.9zM275.2 625.5h.9v.9h-.9zM300.2 664.7h.9v.9h-.9zM266.1 701.1h.9v.9h-.9zM281.8 673.1h.9v.9h-.9zM268.8 655.7h.9v.9h-.9zM331.6 627.8h.9v.9h-.9zM296.8 685.9h.9v.9h-.9zM283.2 688.0h.9v.9h-.9zM290.5 637.2h.9v.9h-.9zM315.5 655.0h.9v.9h-.9zM272.0 693.1h.9v.9h-.9zM320.7 666.3h.9v.9h-.9zM333.3 631.8h.9v.9h-.9zM327.2 645.9h.9v.9h-.9zM309.9 687.1h.9v.9h-.9zM276.0 680.1h.9v.9h-.9zM311.5 701.6h.9v.9h-.9zM304.1 649.6h.9v.9h-.9zM341.2 668.3h.9v.9h-.9zM311.5 658.4h.9v.9h-.9zM276.3 693.4h.9v.9h-.9zM332.4 675.5h.9v.9h-.9zM296.0 659.1h.9v.9h-.9zM300.0 694.6h.9v.9h-.9zM279.5 664.2h.9v.9h-.9zM339.3 640.8h.9v.9h-.9zM336.2 678.7h.9v.9h-.9zM306.1 679.8h.9v.9h-.9zM305.8 655.7h.9v.9h-.9zM324.6 698.2h.9v.9h-.9zM314.0 627.8h.9v.9h-.9zM338.9 630.8h.9v.9h-.9zM266.0 654.1h.9v.9h-.9zM271.8 670.4h.9v.9h-.9zM328.7 686.5h.9v.9h-.9zM317.2 694.7h.9v.9h-.9zM284.5 626.9h.9v.9h-.9z" fill="#8e8e8e"/></g></g><g clip-path="url(#cl13)"><rect x="345.0" y="624.1" width="79.0" height="78.4" fill="url(#vig)" />
<g filter="url(#b03)"><path d="M350.7 649.8h1v1h-1zM412.9 671.8h1v1h-1zM362.3 678.4h1v1h-1zM368.9 643.1h1v1h-1zM347.9 669.1h1v1h-1zM378.2 699.4h1v1h-1zM370.4 678.5h1v1h-1zM386.4 625.1h1v1h-1zM383.6 624.8h1v1h-1zM373.2 685.6h1v1h-1zM419.1 700.2h1v1h-1zM409.3 633.3h1v1h-1zM414.6 658.2h1v1h-1zM420.7 651.0h1v1h-1zM392.3 674.3h1v1h-1zM375.8 637.5h1v1h-1zM399.6 626.9h1v1h-1zM411.6 666.0h1v1h-1zM382.7 696.6h1v1h-1zM414.7 679.3h1v1h-1zM397.4 665.6h1v1h-1zM353.4 662.2h1v1h-1zM368.5 626.7h1v1h-1zM388.5 686.9h1v1h-1zM368.9 650.3h1v1h-1zM377.3 624.7h1v1h-1zM366.1 690.9h1v1h-1zM373.6 648.3h1v1h-1zM350.0 671.4h1v1h-1zM350.2 650.8h1v1h-1zM416.6 694.9h1v1h-1zM397.7 681.7h1v1h-1zM364.1 677.0h1v1h-1zM415.7 680.5h1v1h-1zM398.0 699.0h1v1h-1zM419.8 680.7h1v1h-1zM410.9 636.9h1v1h-1zM411.8 682.7h1v1h-1zM349.2 660.5h1v1h-1zM357.8 655.5h1v1h-1zM422.4 657.5h1v1h-1zM412.0 698.6h1v1h-1zM368.2 649.4h1v1h-1zM364.8 624.8h1v1h-1zM423.2 650.9h1v1h-1zM350.9 654.9h1v1h-1zM384.2 627.1h1v1h-1zM362.2 647.5h1v1h-1zM347.9 657.7h1v1h-1zM377.3 684.3h1v1h-1zM348.1 671.5h1v1h-1zM363.5 673.5h1v1h-1zM418.2 694.4h1v1h-1zM376.5 628.1h1v1h-1zM411.9 674.6h1v1h-1zM364.1 655.7h1v1h-1zM404.7 658.5h1v1h-1zM359.5 634.9h1v1h-1zM377.7 670.8h1v1h-1zM381.1 630.7h1v1h-1zM404.9 675.5h1v1h-1zM407.8 649.6h1v1h-1zM377.7 683.3h1v1h-1zM362.9 686.1h1v1h-1zM384.9 625.0h1v1h-1zM349.2 640.2h1v1h-1zM347.4 660.2h1v1h-1zM354.7 694.5h1v1h-1zM400.8 696.1h1v1h-1zM385.3 690.1h1v1h-1zM388.3 665.3h1v1h-1zM372.2 651.3h1v1h-1zM367.8 688.3h1v1h-1zM408.1 700.0h1v1h-1zM361.5 628.3h1v1h-1z" fill="#484848"/><path d="M367.6 682.9h.9v.9h-.9zM382.1 682.9h.9v.9h-.9zM389.7 661.5h.9v.9h-.9zM359.6 682.9h.9v.9h-.9zM395.7 656.1h.9v.9h-.9zM404.9 684.9h.9v.9h-.9zM368.4 631.9h.9v.9h-.9zM387.2 693.7h.9v.9h-.9zM360.1 656.4h.9v.9h-.9zM377.8 689.8h.9v.9h-.9zM385.0 644.1h.9v.9h-.9zM360.5 670.1h.9v.9h-.9zM383.7 670.5h.9v.9h-.9zM413.6 664.2h.9v.9h-.9zM420.0 627.5h.9v.9h-.9zM384.0 660.3h.9v.9h-.9zM345.9 701.0h.9v.9h-.9zM399.0 628.4h.9v.9h-.9zM357.5 639.0h.9v.9h-.9zM364.1 701.1h.9v.9h-.9zM420.2 627.7h.9v.9h-.9zM387.1 671.2h.9v.9h-.9zM395.4 648.7h.9v.9h-.9zM386.8 667.1h.9v.9h-.9zM353.5 635.8h.9v.9h-.9zM399.3 683.8h.9v.9h-.9zM379.3 648.9h.9v.9h-.9zM384.6 667.2h.9v.9h-.9zM357.3 668.9h.9v.9h-.9zM364.4 659.6h.9v.9h-.9zM354.2 659.2h.9v.9h-.9zM416.8 649.2h.9v.9h-.9zM400.0 654.4h.9v.9h-.9zM354.6 670.6h.9v.9h-.9zM393.2 642.7h.9v.9h-.9zM400.7 654.9h.9v.9h-.9zM358.3 653.5h.9v.9h-.9zM390.9 656.8h.9v.9h-.9zM386.4 670.8h.9v.9h-.9zM382.2 689.0h.9v.9h-.9zM387.6 636.1h.9v.9h-.9zM370.6 682.5h.9v.9h-.9zM390.0 695.5h.9v.9h-.9zM395.9 626.4h.9v.9h-.9zM409.3 654.5h.9v.9h-.9zM410.5 633.7h.9v.9h-.9zM412.2 664.4h.9v.9h-.9zM346.9 696.8h.9v.9h-.9zM384.2 664.2h.9v.9h-.9zM393.8 627.7h.9v.9h-.9zM373.8 636.3h.9v.9h-.9zM364.8 662.8h.9v.9h-.9zM354.0 673.3h.9v.9h-.9zM411.3 700.0h.9v.9h-.9zM366.7 674.4h.9v.9h-.9zM421.7 638.6h.9v.9h-.9zM415.3 650.2h.9v.9h-.9zM383.5 641.4h.9v.9h-.9zM384.6 684.5h.9v.9h-.9zM377.9 701.3h.9v.9h-.9zM401.2 667.6h.9v.9h-.9zM355.3 635.5h.9v.9h-.9zM414.9 677.4h.9v.9h-.9zM416.5 694.9h.9v.9h-.9zM400.9 663.0h.9v.9h-.9zM391.1 701.6h.9v.9h-.9zM385.9 630.2h.9v.9h-.9zM384.2 666.2h.9v.9h-.9zM418.7 701.2h.9v.9h-.9zM388.6 656.5h.9v.9h-.9zM407.8 697.7h.9v.9h-.9zM404.4 671.1h.9v.9h-.9zM374.2 647.7h.9v.9h-.9zM389.2 630.4h.9v.9h-.9zM372.4 628.7h.9v.9h-.9zM376.0 657.4h.9v.9h-.9zM346.2 680.8h.9v.9h-.9zM379.5 700.9h.9v.9h-.9zM364.1 627.8h.9v.9h-.9zM423.5 692.2h.9v.9h-.9zM373.0 639.8h.9v.9h-.9zM347.3 676.9h.9v.9h-.9zM383.3 634.1h.9v.9h-.9zM369.4 675.4h.9v.9h-.9zM396.9 674.0h.9v.9h-.9zM370.5 667.9h.9v.9h-.9zM373.0 685.4h.9v.9h-.9zM393.4 701.6h.9v.9h-.9zM361.0 629.2h.9v.9h-.9zM411.0 650.6h.9v.9h-.9z" fill="#8e8e8e"/></g></g><g clip-path="url(#cl14)"><rect x="264.0" y="704.9" width="78.7" height="78.8" fill="url(#vig)" />
<g filter="url(#b03)"><path d="M323.9 755.6h1v1h-1zM297.7 771.6h1v1h-1zM332.0 730.8h1v1h-1zM267.4 724.7h1v1h-1zM301.1 772.4h1v1h-1zM324.4 708.4h1v1h-1zM278.2 776.6h1v1h-1zM279.9 781.9h1v1h-1zM315.0 720.3h1v1h-1zM331.7 783.0h1v1h-1zM291.7 709.9h1v1h-1zM272.7 776.9h1v1h-1z" fill="#484848"/><path d="M279.9 758.0h.9v.9h-.9zM305.5 721.1h.9v.9h-.9zM312.0 772.0h.9v.9h-.9zM300.6 761.0h.9v.9h-.9zM268.1 775.3h.9v.9h-.9zM274.4 722.6h.9v.9h-.9zM294.3 745.9h.9v.9h-.9zM291.7 717.7h.9v.9h-.9zM291.6 732.3h.9v.9h-.9zM310.1 706.6h.9v.9h-.9zM339.8 735.7h.9v.9h-.9zM331.6 758.1h.9v.9h-.9zM288.0 756.3h.9v.9h-.9zM274.5 719.8h.9v.9h-.9z" fill="#8e8e8e"/></g></g><g clip-path="url(#cl15)"><rect x="345.0" y="704.9" width="79.0" height="78.8" fill="url(#vig)" />
<g filter="url(#b03)"><path d="M406.0 732.2h1v1h-1zM422.8 732.7h1v1h-1zM365.7 719.3h1v1h-1zM383.0 773.0h1v1h-1zM394.9 770.0h1v1h-1zM379.3 731.6h1v1h-1zM348.9 766.2h1v1h-1zM407.1 710.5h1v1h-1zM384.9 709.0h1v1h-1zM375.3 775.9h1v1h-1zM413.9 741.5h1v1h-1zM389.0 724.1h1v1h-1zM386.0 711.5h1v1h-1zM379.0 765.3h1v1h-1zM387.6 707.4h1v1h-1zM374.5 735.9h1v1h-1zM359.4 729.0h1v1h-1z" fill="#484848"/><path d="M352.6 770.9h.9v.9h-.9zM362.1 766.1h.9v.9h-.9zM410.1 753.0h.9v.9h-.9zM415.5 714.5h.9v.9h-.9zM375.3 721.1h.9v.9h-.9zM368.8 711.1h.9v.9h-.9zM410.9 734.8h.9v.9h-.9zM419.2 723.2h.9v.9h-.9zM366.1 727.3h.9v.9h-.9zM378.2 760.7h.9v.9h-.9zM382.9 768.2h.9v.9h-.9zM419.6 782.5h.9v.9h-.9zM422.4 761.1h.9v.9h-.9zM391.0 735.8h.9v.9h-.9zM347.2 771.3h.9v.9h-.9zM345.9 769.0h.9v.9h-.9zM362.4 747.2h.9v.9h-.9zM421.4 783.0h.9v.9h-.9zM388.6 773.2h.9v.9h-.9zM353.9 776.7h.9v.9h-.9zM418.0 738.2h.9v.9h-.9zM415.4 725.0h.9v.9h-.9zM399.8 776.8h.9v.9h-.9z" fill="#8e8e8e"/></g></g><text x="304.5" y="618.5" font-size="10.6" text-anchor="middle" textLength="36.5" lengthAdjust="spacingAndGlyphs" fill="#1a1a1a">60 min</text>
<text x="385.5" y="618.5" font-size="10.6" text-anchor="middle" textLength="36.5" lengthAdjust="spacingAndGlyphs" fill="#1a1a1a">90 min</text>
<text fill="#1a1a1a" font-size="10.6" text-anchor="middle" textLength="64" lengthAdjust="spacingAndGlyphs" transform="translate(258.0 662.5) rotate(-90)">Cancer cells</text><text fill="#1a1a1a" font-size="10.6" text-anchor="middle" textLength="26.5" lengthAdjust="spacingAndGlyphs" transform="translate(258.0 743.5) rotate(-90)">Blank</text><rect x="406.7" y="775.5" width="11.2" height="3.0" fill="#000" />
</g>
<g id="panel_o"><g clip-path="url(#cl16)"><rect x="707.0" y="420.8" width="168.1" height="167.8" fill="#0a2607" />
<g filter="url(#b10)"><circle cx="794.4" cy="477.9" r="14.29" fill="#071c05" opacity="0.6"/>
<circle cx="757.4" cy="491.3" r="10.09" fill="#071c05" opacity="0.6"/>
<circle cx="831.4" cy="471.1" r="10.09" fill="#071c05" opacity="0.6"/>
<circle cx="860.0" cy="457.7" r="16.81" fill="#071c05" opacity="0.6"/>
<circle cx="801.1" cy="430.9" r="9.25" fill="#071c05" opacity="0.6"/>
<circle cx="816.3" cy="452.7" r="8.40" fill="#071c05" opacity="0.6"/>
<circle cx="774.2" cy="471.1" r="8.40" fill="#071c05" opacity="0.6"/>
</g><g filter="url(#b08)" fill="none" stroke-linecap="round"><path d="M785.6 542.6l1.6 4.2M723.5 563.7l1.6 1.3M770.6 530.4l2.9 2.0M866.3 438.0l-5.3 1.6M866.3 481.8l-2.3 0.7M741.5 426.7l-1.8 0.6M820.9 565.6l2.4 1.6M716.7 451.7l0.8 5.3M814.7 527.0l-1.8 4.6M863.9 561.1l1.9 1.2M781.5 448.7l-1.1 1.6M808.9 532.6l-1.8 3.4M742.1 469.5l4.6 1.1M839.5 459.6l2.9 4.1M771.0 535.2l4.7 1.7M744.5 569.2l3.0 0.3M855.2 563.2l3.5 2.1M777.2 458.7l4.0 3.1M732.9 487.6l4.5 1.8M865.8 580.2l0.4 1.7M840.6 451.5l3.0 3.6M725.0 512.4l0.4 2.3M770.0 450.4l0.6 1.5M791.9 427.7l-1.7 1.1M818.9 543.9l4.1 0.8M724.6 530.1l0.2 2.5M845.0 466.0l-2.9 4.1M798.4 579.2l-0.1 2.9M854.0 526.3l0.2 1.2M874.0 561.7l-4.5 0.8M834.8 553.5l-2.4 1.0M868.7 473.2l-0.7 4.6M719.0 476.0l1.9 2.7M787.0 576.9l-2.4 1.0M858.1 523.1l2.2 1.4M734.1 425.7l-0.8 3.7M728.5 549.2l4.0 2.0M761.0 520.7l1.0 2.7M731.5 564.2l-0.3 3.8M857.9 575.2l-1.6 1.8" stroke="#126311" stroke-width="3.0"/><path d="M842.2 474.9l-1.8 1.1M848.4 436.3l3.0 0.8M790.0 536.9l-0.4 1.4M773.5 451.9l4.6 0.7M874.6 571.4l-0.9 1.1M856.2 444.5l3.0 0.7M731.7 519.9l-2.4 1.7M773.9 484.1l0.8 1.0M770.0 541.3l2.3 4.9M726.1 501.6l-3.5 3.0M793.4 452.2l-1.7 0.5M725.1 471.7l1.2 0.2M850.3 557.8l-0.2 3.5M791.2 467.8l-4.2 1.5M763.2 528.1l-4.6 1.3M751.5 462.9l0.5 2.9M728.0 425.6l-0.8 0.7M768.1 570.8l1.0 3.1M759.5 469.9l-0.9 1.0M803.3 526.7l4.0 0.2M732.9 438.5l1.2 4.5M735.8 546.5l-1.9 0.6M723.0 490.8l2.9 0.0M736.7 472.8l-1.8 0.5M713.5 423.9l2.0 0.3M741.9 506.0l3.2 1.5M813.5 549.2l-2.0 5.0M823.6 459.8l-1.0 0.2M811.3 474.6l-2.5 3.4M728.0 543.7l-2.6 4.1M732.3 466.7l-3.0 3.6M789.8 422.6l2.5 1.1M808.6 586.9l2.4 0.1M825.4 480.3l2.1 0.7M755.1 459.0l-4.7 0.9M775.5 490.2l3.7 1.9M799.3 460.5l-1.1 0.9M782.7 437.8l-3.2 1.9M741.3 531.4l-1.3 0.7M798.0 444.7l-0.1 1.1M874.8 450.1l-3.6 1.8M848.4 430.4l-1.0 1.2" stroke="#126311" stroke-width="3.9"/><path d="M824.4 570.2l-0.4 3.7M713.2 543.7l-0.5 0.9M847.2 492.2l-1.9 0.9M729.1 480.8l4.5 0.7M853.9 504.7l-0.9 3.2M800.4 455.5l1.5 2.1M786.8 435.9l-2.2 0.4M711.9 473.1l3.1 0.2M783.3 486.2l-1.1 3.8M715.2 555.1l2.3 1.7M846.0 521.2l0.7 1.2M715.0 515.4l-1.2 1.5M795.0 579.3l-5.1 1.4M737.0 508.5l0.4 2.2M740.1 562.8l0.8 1.9M728.1 556.1l-1.8 1.8M779.2 431.6l4.1 2.1M801.4 531.6l-2.7 4.3M862.4 502.1l1.7 1.8M805.7 554.6l0.7 1.0M766.6 446.4l0.2 1.7M713.3 537.5l1.2 0.7M769.1 488.7l-0.4 2.3M763.0 452.1l3.5 1.2M733.1 584.3l1.7 3.2M765.8 420.5l2.0 3.3M797.4 514.2l2.1 1.0M723.2 461.4l2.4 2.5M839.4 432.8l2.9 0.0M821.5 529.7l2.5 1.9M828.4 553.1l-3.4 1.0M711.9 444.0l2.1 1.9M763.9 567.5l-2.0 1.2M751.7 468.7l-0.5 3.1M822.8 485.2l4.9 0.4M791.2 567.5l1.0 1.0M820.6 522.8l-1.1 3.0M856.1 554.2l3.2 0.8" stroke="#126311" stroke-width="4.8"/><path d="M720.3 550.4l2.7 2.0M867.8 567.6l-3.0 2.6M805.0 442.4l0.5 2.9M805.7 575.7l-0.1 3.7M869.1 538.8l-0.5 5.1M820.8 495.7l-1.3 2.7M811.2 500.5l-0.7 0.8M761.6 437.1l-0.1 2.1M775.9 578.3l1.0 0.9M736.0 429.7l2.6 2.8M742.6 489.1l-3.1 2.6M828.7 508.7l-2.7 1.5M840.5 481.3l2.1 0.4M738.1 458.2l3.2 0.1M755.5 558.7l0.0 1.2M707.4 439.0l2.6 1.9M744.3 551.7l-1.3 0.5M802.0 501.8l-0.4 1.9M759.2 504.3l-5.1 2.0M737.2 557.1l-2.1 1.6M847.0 541.2l3.9 0.2M827.2 467.7l0.6 4.0M751.6 507.6l-1.4 0.0M722.3 427.2l-3.1 4.0M761.7 552.5l1.8 3.1M802.0 449.0l2.8 2.7M753.5 420.8l1.5 0.6M816.1 474.7l-0.7 1.5M805.7 581.4l-2.8 4.0M819.0 546.9l-4.7 1.6M817.2 570.0l1.1 1.9M737.9 478.6l-1.8 0.9M781.0 464.9l1.4 2.7M755.8 532.1l-1.2 0.7M843.5 568.0l2.7 2.9M841.2 550.3l-5.3 1.0M798.2 484.7l0.7 2.0M711.3 550.7l-1.1 1.8M836.8 563.1l2.1 2.7M802.1 507.3l-2.5 1.5M842.4 558.8l-2.0 2.1M712.6 483.9l-1.5 0.1M748.5 457.6l-1.3 2.5" stroke="#167315" stroke-width="3.0"/><path d="M811.7 562.8l-0.9 0.9M821.7 490.8l-2.3 2.9M851.5 568.7l-1.0 0.6M756.4 476.4l0.2 2.2M766.9 521.3l4.4 2.4M737.2 567.5l-1.1 0.5M714.2 497.7l-1.6 2.9M875.4 494.1l-3.8 1.4M831.2 568.2l-0.1 4.5M707.0 585.9l3.1 0.0M759.9 538.2l1.2 1.9M719.0 463.2l-1.4 3.1M769.9 500.6l3.0 0.3M838.2 525.0l3.5 3.7M851.6 516.1l-2.8 0.7M757.1 452.8l-0.7 1.4M793.5 505.8l1.1 0.9M754.2 480.3l-3.2 2.9M817.5 502.5l-5.1 1.5M746.5 512.8l-3.0 1.7M732.4 578.6l-2.6 1.1M742.8 475.4l2.1 3.1M726.9 526.0l3.0 0.8M866.4 492.3l0.7 1.7M768.5 562.6l-0.7 1.5M826.4 436.1l-0.3 1.2M799.0 521.7l-0.5 2.5M730.9 448.3l-0.9 3.2M815.3 578.7l-1.9 2.6M755.8 429.7l2.8 0.5M818.8 575.3l3.8 0.8M843.7 563.8l0.2 1.0M790.3 516.7l0.4 1.2M840.7 510.4l2.0 4.1M851.4 495.7l0.4 2.4M719.0 420.8l3.4 3.6M774.0 426.5l2.8 4.4M800.6 438.3l2.2 4.2M862.7 486.7l1.2 1.3M805.8 537.3l1.2 5.1M711.5 428.5l1.6 1.5M786.6 440.4l2.6 2.7M792.3 511.4l4.1 1.7M838.6 490.1l-0.4 1.7M725.9 432.1l-1.0 1.0M707.3 563.0l1.2 0.4M732.9 453.4l2.1 2.3M875.3 537.5l-0.8 2.9" stroke="#167315" stroke-width="3.9"/><path d="M866.7 440.1l3.8 1.6M812.8 463.4l2.6 2.7M800.4 585.9l-1.7 2.1M710.8 517.9l0.7 3.2M860.3 497.5l4.7 1.6M784.8 461.2l0.7 2.1M801.1 557.8l3.5 3.2M848.2 441.5l5.1 2.0M736.0 578.1l-0.3 3.5M769.6 583.1l-1.4 0.3M744.2 444.6l1.9 0.8M711.2 461.2l0.8 1.2M709.4 450.0l1.6 0.3M745.0 575.8l-0.4 1.4M772.3 493.9l-1.9 0.1M791.7 558.9l1.0 2.7M752.9 500.5l-0.7 1.1M835.2 544.0l1.8 1.0M735.6 513.7l-2.2 3.1M726.4 439.9l4.7 2.1M827.8 459.4l1.6 0.3M855.8 486.7l-2.1 4.9M738.9 539.1l-1.4 0.8M820.2 477.8l0.5 0.9M758.9 572.7l-1.3 1.1M812.0 507.8l2.7 1.5M849.3 532.2l-5.2 1.5M820.3 428.9l-4.2 3.5M854.6 586.3l1.1 1.6M824.4 498.0l4.4 0.1M817.1 534.0l-0.5 1.1M718.1 511.3l1.9 0.7M857.4 478.8l-0.5 1.5M743.9 464.1l0.3 1.6M739.8 435.7l-3.5 1.5M707.2 566.8l0.5 2.7M717.1 458.5l-3.3 0.7M715.0 530.2l-2.7 1.5M852.7 428.3l-0.7 1.6M742.7 525.1l1.3 2.5M806.0 496.3l1.1 0.3M829.4 538.9l1.7 4.7M847.0 441.5l-2.3 3.1M852.5 521.0l-1.4 0.1" stroke="#167315" stroke-width="4.8"/><path d="M775.3 565.6l-1.9 1.9M791.1 524.8l5.1 1.4M821.4 469.7l-1.1 2.1M874.2 507.7l1.8 4.6M784.8 566.4l-0.6 5.1M826.1 447.8l-2.5 1.0M732.2 419.7l2.7 4.3M815.6 434.7l-1.8 1.0M869.2 427.9l3.5 3.2M748.6 445.8l1.6 5.1M719.6 437.1l2.4 3.7M772.1 558.3l2.6 1.0M846.1 424.7l-2.7 4.6M756.0 577.3l-3.8 0.5M791.0 499.6l-1.4 1.0M851.9 486.3l-5.0 1.6M808.0 459.2l1.7 5.0M733.7 521.8l4.6 0.1M835.5 485.6l-0.0 2.9M790.0 483.3l1.6 4.1M725.0 517.7l0.8 4.1M711.0 572.7l-3.9 1.7M801.1 565.3l-0.8 0.6M708.5 453.7l-0.9 3.1M716.8 573.7l-0.8 1.1M761.4 509.4l-4.8 2.3M783.3 443.3l2.4 3.9M773.3 445.5l-0.2 1.8M800.3 528.8l-5.1 1.1M831.6 451.5l2.8 0.9M839.4 421.6l0.8 4.2M716.1 506.2l1.1 1.1M740.9 535.7l3.3 1.2M814.5 559.4l1.0 0.9M857.8 474.2l-1.6 0.3M794.3 437.6l-1.1 0.0M803.4 511.5l-0.6 1.7M723.2 577.2l-0.1 3.0M745.8 583.5l4.1 3.4M714.5 478.2l-1.1 2.9M709.0 524.5l-0.4 1.0M833.8 468.4l-1.0 1.7M871.6 433.4l-1.0 1.8" stroke="#1a8419" stroke-width="3.0"/><path d="M856.0 498.5l-0.4 2.8M779.4 546.4l-0.3 1.1M822.2 582.2l3.3 0.2M772.4 441.1l2.3 0.8M729.5 432.0l1.3 0.0M810.6 423.4l3.0 1.2M767.4 439.7l-2.1 0.4M768.7 551.0l2.4 4.0M858.2 527.9l1.9 3.0M808.3 466.1l1.3 2.2M812.0 571.4l1.0 2.8M816.6 539.7l-2.1 1.0M853.9 421.6l0.7 1.7M832.9 503.6l3.6 3.3M708.7 444.9l-3.0 1.8M792.7 553.5l3.1 0.5M832.3 585.6l1.2 0.3M863.4 573.5l2.3 2.1M873.6 523.9l-0.5 1.0M751.0 443.5l2.1 0.3M789.9 571.9l-1.2 1.2M765.2 575.9l-1.4 4.1M861.7 425.0l-0.6 1.0M866.8 549.8l0.9 4.4M815.3 442.4l1.6 0.8M745.6 538.3l3.7 0.3M818.7 586.6l2.8 2.6M786.0 527.3l2.5 2.8M729.8 506.0l0.8 1.1M773.7 517.9l0.6 1.2M823.0 426.9l0.3 1.7M806.9 489.5l-1.9 2.9M845.9 549.3l-0.0 5.2M847.2 506.7l-2.3 1.1M741.1 518.9l2.7 1.7M780.4 421.6l-1.8 4.3M842.4 495.1l-4.2 0.5M743.5 431.4l-0.8 3.6M799.9 569.5l0.8 2.1M756.4 462.6l0.5 1.1M791.7 586.0l-0.1 1.3M776.2 540.0l1.1 1.6M846.2 577.9l0.0 1.4M814.4 490.8l-0.5 4.0M779.0 517.4l0.7 2.2M717.8 448.0l2.4 1.3M811.2 428.0l2.5 4.7M783.1 552.4l-0.5 2.3M801.7 492.5l-0.4 3.6M875.4 485.1l-3.6 0.5M780.0 563.0l-0.9 3.8M715.4 434.5l1.5 2.9" stroke="#1a8419" stroke-width="3.9"/><path d="M762.6 581.2l-0.0 2.9M839.7 577.7l2.3 1.1M711.7 433.5l-2.5 0.2M790.6 492.8l-3.9 0.8M793.1 574.4l4.1 1.3M850.4 577.3l1.5 2.5M723.3 536.2l-4.5 0.4M859.5 540.4l1.3 1.3M728.8 573.4l0.8 2.2M825.3 538.7l0.0 3.3M859.1 511.8l-2.0 2.5M714.8 487.7l-2.1 1.2M752.2 541.2l1.9 3.3M754.1 563.4l-4.0 1.1M784.3 498.5l-2.3 0.9M739.1 526.2l-4.0 1.5M827.1 420.3l3.7 1.4M809.0 513.3l-3.2 2.6M842.1 485.9l1.0 1.4M875.8 555.2l-5.3 1.1M870.3 528.6l-3.2 3.8M722.7 556.3l-2.4 3.3M859.0 433.5l-0.0 1.4M811.5 522.0l-1.3 0.9M774.2 584.8l-0.2 2.8M727.6 483.6l-0.9 2.2M741.1 484.7l2.2 0.4M777.2 554.1l-1.2 1.2M805.4 480.0l-0.8 3.2M777.8 559.1l1.8 1.5M811.4 437.6l-2.9 0.8M765.5 537.1l0.4 3.0M743.0 559.5l1.4 0.6M768.4 431.7l0.7 1.9M835.3 429.0l2.9 1.2M755.3 518.6l-2.9 0.7M850.9 477.7l2.5 2.2M815.5 512.2l2.4 2.3M798.5 419.8l-2.3 3.8M784.6 561.7l1.8 2.1M824.8 585.1l0.9 4.2" stroke="#1a8419" stroke-width="4.8"/><path d="M819.1 420.6l-2.0 1.1M831.4 547.3l2.0 2.1M833.6 425.1l1.0 0.3M795.2 557.9l2.8 1.0M802.3 549.7l-3.3 1.7M835.8 439.2l-0.7 2.4M837.7 586.7l4.5 1.4M740.0 552.6l-3.0 1.8M873.0 579.2l2.5 0.2M782.6 506.9l1.6 1.8M744.4 482.1l4.7 1.4M828.8 425.8l1.9 4.8M846.9 524.9l-2.6 4.3M866.3 515.2l0.8 0.9M750.6 430.9l-2.1 0.2M832.8 509.3l0.3 1.2M861.6 518.4l1.6 1.7M832.7 527.3l-4.5 0.3M730.8 530.3l-0.6 2.2M787.8 459.1l5.1 0.0M761.4 465.0l-0.3 1.5M752.8 547.9l-2.0 0.3M777.8 527.6l-1.0 2.4M756.7 445.5l4.3 1.5M737.1 497.9l-1.0 4.2M871.8 420.8l2.4 4.3M863.6 547.7l-3.0 2.0M756.1 545.8l2.9 1.0M765.6 511.7l4.6 2.4M828.4 532.3l0.4 1.9M714.1 581.4l-1.8 2.4M707.2 555.0l-0.1 2.8M771.1 459.7l3.0 0.8M753.3 587.0l-0.1 1.2M858.8 567.5l1.0 3.1M830.3 444.8l-1.6 4.3M875.0 582.6l-1.2 4.1M830.7 515.8l1.7 1.8" stroke="#1e931d" stroke-width="3.0"/><path d="M717.0 565.0l-3.0 2.7M837.0 446.1l1.9 4.9M842.1 533.8l-0.6 4.6M780.2 530.4l4.9 1.8M793.7 544.1l3.0 0.2M722.2 585.5l0.7 4.2M740.0 583.0l1.0 0.5M794.6 535.2l0.9 2.2M824.5 522.3l1.6 3.2M832.9 534.0l1.0 1.4M738.5 571.8l-1.1 1.1M762.7 505.4l0.1 3.1M713.1 508.9l1.2 3.6M744.5 437.6l-2.9 1.3M828.0 562.2l-0.6 2.5M752.7 536.1l1.3 1.4M844.8 498.3l0.3 2.3M762.4 545.9l1.8 0.2M769.3 477.8l1.4 2.8M855.4 491.8l1.6 4.4M808.4 486.6l2.8 0.7M818.6 481.9l-0.4 5.2M759.0 485.9l1.1 1.4M744.7 452.7l-1.6 0.8M804.0 428.1l-1.4 1.3M730.4 457.6l-0.2 2.6M709.0 577.6l-0.5 5.4M869.5 547.4l2.5 1.8M818.1 503.3l2.9 3.2" stroke="#1e931d" stroke-width="3.9"/><path d="M861.7 583.2l-0.2 2.6M711.0 501.6l-2.2 1.4M740.4 466.9l-1.7 2.0M801.5 543.7l1.8 1.6M708.6 469.0l-0.2 2.9M729.4 494.3l4.4 2.5M750.0 475.9l-0.7 3.9M820.2 553.6l-0.7 0.9M808.0 506.2l1.0 4.4M786.0 582.1l-3.3 0.3M863.7 528.9l0.1 4.4M721.0 495.4l2.6 2.4M763.9 585.4l4.1 3.5M787.3 424.9l-4.0 2.1M724.1 446.0l-0.0 4.1M746.8 489.7l-0.7 1.7M836.1 572.5l1.5 2.8M758.1 440.7l-0.3 1.1M785.1 556.5l3.0 1.3M824.2 518.7l-4.2 0.3M787.4 504.5l2.0 0.6M851.9 544.6l0.1 1.8M832.8 483.6l-4.4 0.9M828.0 544.1l-0.7 3.4M812.9 441.3l-3.2 3.4M847.1 472.3l-1.1 4.7M871.2 471.3l2.7 0.2M776.3 509.7l1.0 0.8M734.1 447.5l1.6 0.7M850.2 582.8l-1.2 1.0M746.6 554.4l5.3 0.3M765.8 458.1l2.7 0.1M828.4 579.0l0.7 1.4M835.2 494.7l-1.3 1.8M764.0 469.7l1.0 3.0M759.4 423.3l1.2 0.3M788.3 448.2l-2.4 2.5M720.4 540.2l2.6 2.0M825.5 440.1l2.8 2.9M712.6 490.8l-5.4 0.6M872.3 517.3l4.7 0.6M788.2 511.3l1.5 3.1" stroke="#1e931d" stroke-width="4.8"/></g><g filter="url(#b06)" fill="none" stroke-linecap="round" stroke-width="2.5" opacity="0.85"><path d="M721.1 551.0l1.2 0.9M710.4 502.0l-1.0 0.6M730.4 481.0l2.0 0.3M796.0 558.2l1.2 0.4M813.5 464.1l1.1 1.2M711.0 433.6l-1.1 0.1M710.9 518.8l0.3 1.4M864.8 438.4l-2.3 0.7M865.7 482.0l-1.0 0.3M785.0 461.8l0.3 0.9M851.2 568.9l-0.5 0.3M811.4 423.8l1.3 0.5M785.1 582.2l-1.5 0.1M821.6 566.0l1.1 0.7M849.6 442.1l2.2 0.9M869.0 540.2l-0.2 2.3M766.8 439.8l-0.9 0.2M735.9 579.1l-0.1 1.5M769.2 583.2l-0.6 0.1M769.4 552.1l1.0 1.8M713.7 498.5l-0.7 1.3M857.0 444.7l1.3 0.3M722.0 536.3l-2.0 0.2M859.9 540.8l0.6 0.6M786.2 425.5l-1.8 0.9M716.9 453.2l0.3 2.3M737.1 509.1l0.2 1.0M760.2 538.7l0.5 0.8M864.5 561.4l0.9 0.5M783.1 507.4l0.7 0.8M771.8 494.0l-0.8 0.1M732.9 420.9l1.2 1.9M772.8 558.6l1.1 0.4M845.3 426.0l-1.2 2.0M858.5 512.5l-0.9 1.1M752.7 500.8l-0.3 0.5M770.7 500.7l1.3 0.1M839.2 526.1l1.5 1.6M745.7 482.5l2.1 0.6M753.0 563.7l-1.8 0.5M713.4 509.9l0.5 1.6M789.5 572.3l-0.5 0.5M768.4 571.6l0.4 1.3M783.6 498.7l-1.0 0.4M780.3 432.2l1.8 0.9M823.0 518.8l-1.9 0.1M745.7 513.2l-1.3 0.8M731.7 578.9l-1.2 0.5M828.1 420.7l1.6 0.6M831.5 483.9l-1.9 0.4M750.0 431.0l-0.9 0.1M745.3 569.3l1.3 0.1M862.8 502.6l0.8 0.8M758.5 573.0l-0.6 0.5M826.4 436.4l-0.1 0.5M827.8 545.0l-0.3 1.5M766.6 446.8l0.1 0.8M842.4 486.3l0.4 0.6M730.0 506.3l0.4 0.5M846.8 473.6l-0.5 2.1M819.1 429.9l-1.9 1.5M827.8 562.9l-0.3 1.1M709.9 573.2l-1.7 0.8M866.0 580.7l0.2 0.8M722.0 557.3l-1.1 1.4M843.7 564.0l0.1 0.5M757.8 504.9l-2.2 0.9M744.0 464.6l0.1 0.7M733.6 585.2l0.8 1.4M789.2 459.1l2.2 0.0M813.0 550.6l-0.9 2.2M798.0 514.5l0.9 0.5M770.2 450.8l0.3 0.6M731.5 467.8l-1.3 1.6M734.6 447.7l0.7 0.3M849.9 583.1l-0.5 0.4M714.2 530.7l-1.2 0.7M757.9 445.9l1.9 0.7M765.6 538.0l0.2 1.3M815.8 475.2l-0.3 0.7M800.1 570.1l0.4 0.9M828.6 579.4l0.3 0.6M852.6 428.8l-0.3 0.7M817.7 547.4l-2.1 0.7M832.4 451.8l1.2 0.4M817.5 570.5l0.5 0.8M776.5 540.4l0.5 0.7M822.1 530.2l1.1 0.8M826.0 480.5l0.9 0.3M839.7 422.8l0.4 1.8M768.6 432.2l0.3 0.8M836.1 429.4l1.3 0.5M744.3 452.9l-0.7 0.4M787.7 448.9l-1.1 1.1M814.3 491.9l-0.2 1.8M743.0 525.8l0.6 1.1M872.7 561.9l-2.0 0.4M806.3 496.4l0.5 0.1M838.5 490.6l-0.2 0.7M794.0 437.6l-0.5 0.0M858.7 523.5l1.0 0.6M729.7 549.8l1.8 0.9M859.1 568.4l0.4 1.4M740.9 531.6l-0.6 0.3M870.2 547.9l1.1 0.8M852.1 521.0l-0.6 0.0M874.7 583.8l-0.5 1.8M785.1 562.3l0.8 0.9M833.5 468.9l-0.4 0.8M788.7 512.1l0.7 1.4M733.5 454.1l0.9 1.0" stroke="#1f9a1e"/><path d="M818.6 421.0l-0.9 0.5M824.3 571.2l-0.2 1.6M861.7 583.9l-0.1 1.1M724.0 564.0l0.7 0.6M855.9 499.3l-0.2 1.3M713.1 544.0l-0.2 0.4M762.6 582.1l-0.0 1.3M853.6 505.6l-0.4 1.4M800.8 456.1l0.7 0.9M801.3 550.2l-1.4 0.7M749.8 477.0l-0.3 1.7M773.0 441.3l1.0 0.3M805.2 443.2l0.2 1.3M741.0 426.9l-0.8 0.3M821.1 470.3l-0.5 0.9M802.1 558.7l1.5 1.4M874.7 509.0l0.8 2.0M756.5 477.0l0.1 1.0M739.2 553.1l-1.3 0.8M712.8 473.1l1.4 0.1M858.7 528.8l0.8 1.3M850.9 578.0l0.6 1.1M808.7 466.7l0.6 1.0M765.0 586.4l1.8 1.5M714.7 515.8l-0.5 0.6M816.0 540.0l-0.9 0.4M711.4 461.5l0.3 0.5M814.2 528.3l-0.8 2.0M793.6 553.7l1.4 0.2M776.1 578.5l0.4 0.4M792.0 559.6l0.4 1.2M722.4 586.6l0.3 1.8M720.2 438.1l1.1 1.6M724.1 447.2l-0.0 1.8M714.3 488.0l-0.9 0.5M835.7 544.3l0.8 0.4M755.0 577.4l-1.7 0.2M790.6 499.8l-0.6 0.4M873.5 524.2l-0.2 0.5M727.7 425.8l-0.4 0.3M739.0 458.2l1.4 0.0M764.8 577.0l-0.6 1.8M846.2 526.1l-1.1 1.9M855.2 488.1l-0.9 2.2M840.4 460.8l1.3 1.8M738.5 539.3l-0.6 0.4M743.7 438.0l-1.3 0.6M787.9 504.7l0.9 0.3M866.6 515.5l0.3 0.4M835.5 486.4l-0.0 1.3M862.1 518.9l0.7 0.8M819.5 587.3l1.2 1.1M812.8 508.2l1.2 0.7M854.9 586.7l0.5 0.7M814.8 579.4l-0.8 1.1M874.4 555.6l-2.3 0.5M744.0 551.9l-0.6 0.2M756.6 429.8l1.2 0.2M725.2 518.9l0.3 1.8M801.9 502.3l-0.2 0.8M831.5 527.4l-2.0 0.1M790.4 517.1l0.2 0.5M769.0 489.3l-0.2 1.0M846.6 507.0l-1.0 0.5M766.4 421.4l0.9 1.4M736.6 557.6l-0.9 0.7M761.4 465.5l-0.1 0.7M716.6 574.0l-0.3 0.5M779.9 422.8l-0.8 1.9M741.7 484.8l1.0 0.2M776.9 554.4l-0.5 0.5M784.0 444.4l1.1 1.7M778.3 559.5l0.8 0.6M725.2 513.1l0.2 1.0M727.2 544.8l-1.1 1.8M716.2 458.7l-1.5 0.3M774.8 427.7l1.2 1.9M754.0 421.0l0.7 0.2M773.2 446.0l-0.1 0.8M872.4 422.0l1.0 1.9M743.3 432.4l-0.4 1.6M724.7 530.8l0.1 1.1M801.2 439.5l0.9 1.9M756.5 462.9l0.2 0.5M798.9 529.1l-2.3 0.5M834.9 495.2l-0.6 0.8M804.9 582.5l-1.2 1.8M764.3 470.6l0.4 1.3M791.7 586.4l-0.0 0.6M766.9 512.3l2.0 1.0M755.5 532.3l-0.5 0.3M844.3 568.8l1.2 1.3M763.4 567.8l-0.9 0.5M798.4 580.0l-0.0 1.3M759.7 423.4l0.5 0.2M716.4 506.5l0.5 0.5M803.6 428.4l-0.6 0.6M824.1 485.4l2.1 0.2M798.4 485.2l0.3 0.9M854.0 526.6l0.1 0.5M857.3 474.3l-0.7 0.1M868.5 474.5l-0.3 2.0M707.2 555.8l-0.0 1.2M793.5 511.9l1.8 0.7M786.3 577.2l-1.0 0.4M721.2 540.8l1.2 0.9M837.3 563.8l0.9 1.2M781.8 438.3l-1.4 0.8M753.3 587.3l-0.0 0.5M829.9 540.3l0.7 2.1M801.4 507.7l-1.1 0.7M733.9 426.7l-0.4 1.6M730.4 458.3l-0.1 1.1M803.3 512.0l-0.2 0.8M712.2 483.9l-0.6 0.1M798.0 445.0l-0.1 0.5M831.1 516.3l0.7 0.8M873.6 517.5l2.1 0.3M874.4 485.3l-1.6 0.2M779.7 564.1l-0.4 1.7M731.5 565.3l-0.1 1.7M848.2 430.7l-0.4 0.5M857.4 575.7l-0.7 0.8M871.3 433.9l-0.5 0.8" stroke="#24ac23"/><path d="M716.2 565.7l-1.3 1.2M846.7 492.4l-0.9 0.4M774.7 566.1l-0.8 0.9M867.7 440.6l1.7 0.7M792.6 525.2l2.2 0.6M771.4 531.0l1.3 0.9M789.9 537.3l-0.2 0.6M730.6 495.0l1.9 1.1M867.0 568.4l-1.3 1.1M821.0 491.7l-1.0 1.3M861.6 497.9l2.1 0.7M805.6 576.8l-0.0 1.6M729.9 432.0l0.6 0.0M789.5 493.0l-1.7 0.3M820.4 496.4l-0.6 1.2M736.9 567.6l-0.5 0.2M811.0 500.7l-0.3 0.4M873.7 579.2l1.1 0.1M812.3 572.2l0.5 1.2M846.2 521.5l0.3 0.5M833.9 504.5l1.6 1.5M707.9 585.9l1.3 0.0M731.0 520.4l-1.1 0.7M774.2 484.4l0.3 0.4M707.8 445.4l-1.3 0.8M815.1 435.0l-0.8 0.5M832.6 585.7l0.5 0.1M740.3 583.2l0.5 0.2M718.6 464.1l-0.6 1.3M794.8 535.8l0.4 1.0M725.1 502.5l-1.5 1.3M741.7 489.8l-1.4 1.1M793.0 452.4l-0.7 0.2M850.2 558.8l-0.1 1.5M740.3 563.3l0.3 0.9M790.0 468.2l-1.8 0.6M836.5 573.3l0.6 1.2M752.7 542.1l0.8 1.4M735.0 514.6l-0.9 1.4M850.8 516.3l-1.2 0.3M756.9 453.2l-0.3 0.6M751.6 443.6l0.9 0.2M841.1 481.4l0.9 0.2M808.4 460.6l0.8 2.2M786.0 556.9l1.3 0.6M759.3 470.2l-0.4 0.4M829.3 427.1l0.8 2.1M735.0 521.8l2.0 0.0M743.4 476.3l0.9 1.4M727.7 526.2l1.3 0.3M772.3 535.7l2.1 0.7M768.3 563.0l-0.3 0.7M815.8 442.6l0.7 0.4M790.5 484.4l0.7 1.8M820.4 478.1l0.2 0.4M708.1 439.6l1.1 0.8M746.6 538.4l1.6 0.1M832.9 509.6l0.1 0.5M808.1 514.0l-1.4 1.1M735.3 546.7l-0.8 0.3M798.9 522.4l-0.2 1.1M778.3 459.6l1.7 1.3M805.8 554.9l0.3 0.4M786.7 528.0l1.1 1.2M730.6 449.2l-0.4 1.4M812.0 442.2l-1.4 1.5M847.9 532.7l-2.3 0.7M723.8 490.8l1.3 0.0M734.1 488.1l2.0 0.8M869.4 529.7l-1.4 1.7M871.9 471.4l1.2 0.1M806.3 490.3l-0.8 1.3M736.2 472.9l-0.8 0.2M819.9 575.5l1.7 0.4M841.4 452.5l1.3 1.6M811.1 522.2l-0.6 0.4M845.9 550.8l-0.0 2.3M857.2 479.2l-0.2 0.6M774.1 585.6l-0.1 1.2M776.6 509.9l0.5 0.4M742.8 506.4l1.4 0.6M848.1 541.2l1.7 0.1M752.2 547.9l-0.9 0.1M760.0 510.1l-2.1 1.0M777.5 528.3l-0.4 1.0M769.7 478.6l0.6 1.2M810.6 475.6l-1.1 1.5M719.9 421.8l1.5 1.6M707.4 567.6l0.2 1.2M748.1 554.5l2.4 0.1M844.2 467.1l-1.3 1.8M743.3 559.6l0.6 0.3M809.3 586.9l1.1 0.0M806.2 538.7l0.5 2.2M840.2 432.8l1.3 0.0M737.4 478.9l-0.8 0.4M753.8 459.3l-2.1 0.4M851.6 478.3l1.1 1.0M751.6 469.5l-0.2 1.4M776.6 490.8l1.6 0.8M713.6 582.1l-0.8 1.0M816.2 512.9l1.0 1.0M834.1 553.8l-1.1 0.4M741.8 536.0l1.5 0.5M787.3 441.2l1.1 1.2M719.6 476.7l0.8 1.2M718.5 448.4l1.1 0.6M801.6 493.5l-0.2 1.6M723.1 578.1l-0.0 1.3M708.9 579.1l-0.2 2.4M748.1 458.3l-0.6 1.1M761.3 521.5l0.4 1.2M711.1 490.9l-2.4 0.3M746.9 584.5l1.8 1.5M715.8 435.3l0.7 1.3M714.1 479.0l-0.5 1.3M857.0 554.4l1.4 0.4M707.6 563.1l0.5 0.2" stroke="#2abf28"/><path d="M841.7 475.2l-0.8 0.5M849.2 436.6l1.3 0.3M786.0 543.7l0.7 1.8M831.9 547.9l0.9 0.9M833.9 425.2l0.4 0.1M837.5 447.5l0.8 2.2M740.0 467.5l-0.8 0.9M811.4 563.0l-0.4 0.4M799.9 586.5l-0.8 0.9M802.0 544.2l0.8 0.7M840.4 578.0l1.0 0.5M708.6 469.8l-0.1 1.3M841.9 535.1l-0.3 2.0M779.3 546.7l-0.1 0.5M781.6 530.9l2.2 0.8M835.6 439.9l-0.3 1.1M774.8 452.1l2.0 0.3M786.2 436.0l-1.0 0.2M823.1 582.3l1.5 0.1M820.0 553.9l-0.3 0.4M808.2 507.4l0.4 1.9M794.5 544.2l1.3 0.1M839.0 587.1l2.0 0.6M768.1 522.0l1.9 1.1M863.7 530.1l0.1 1.9M721.8 496.0l1.1 1.1M874.4 571.7l-0.4 0.5M784.6 567.8l-0.3 2.3M874.3 494.5l-1.7 0.6M794.3 574.7l1.8 0.6M783.0 487.2l-0.5 1.7M831.1 569.4l-0.1 2.0M715.8 555.6l1.0 0.8M761.6 437.7l-0.0 0.9M744.7 444.8l0.8 0.3M709.8 450.1l0.7 0.1M854.1 422.0l0.3 0.8M793.6 579.7l-2.3 0.6M825.4 448.1l-1.1 0.4M729.0 574.0l0.4 1.0M744.9 576.2l-0.2 0.6M825.3 539.6l0.0 1.4M736.8 430.5l1.1 1.2M770.6 542.6l1.0 2.2M870.2 428.8l1.6 1.4M749.0 447.2l0.7 2.3M825.0 523.2l0.7 1.4M725.4 471.7l0.5 0.1M746.7 490.1l-0.3 0.7M827.9 509.1l-1.2 0.7M833.2 534.4l0.4 0.6M758.0 441.0l-0.1 0.5M864.0 574.1l1.0 0.9M727.6 556.6l-0.8 0.8M727.7 440.4l2.1 0.9M761.9 528.4l-2.0 0.6M850.5 486.8l-2.2 0.7M738.2 572.1l-0.5 0.5M751.6 463.7l0.2 1.3M781.2 449.1l-0.5 0.7M762.7 506.2l0.1 1.4M828.3 459.5l0.7 0.2M793.8 506.0l0.5 0.4M753.3 481.1l-1.4 1.3M861.5 425.3l-0.3 0.4M808.4 533.6l-0.8 1.5M804.4 526.8l1.8 0.1M738.0 526.6l-1.8 0.7M743.4 469.8l2.0 0.5M816.1 503.0l-2.2 0.7M733.2 439.8l0.5 2.0M800.7 532.8l-1.2 1.9M866.5 492.8l0.3 0.7M867.1 551.1l0.4 1.9M851.9 545.1l0.0 0.8M755.5 559.0l0.0 0.5M856.2 563.7l1.5 0.9M773.8 518.2l0.2 0.5M713.6 537.7l0.5 0.3M825.6 498.0l1.9 0.0M823.1 427.4l0.1 0.7M753.1 536.5l0.6 0.6M817.0 534.3l-0.2 0.5M718.7 511.5l0.9 0.3M858.9 433.9l-0.0 0.6M764.0 452.5l1.5 0.5M730.6 530.9l-0.3 1.0M714.0 424.0l0.9 0.1M741.9 519.3l1.2 0.7M841.3 511.6l0.9 1.8M844.9 499.0l0.1 1.0M800.9 565.4l-0.4 0.3M762.9 545.9l0.8 0.1M708.2 454.6l-0.4 1.3M738.9 436.1l-1.5 0.6M727.4 484.2l-0.4 1.0M823.3 459.9l-0.4 0.1M827.4 468.8l0.3 1.7M751.2 507.6l-0.6 0.0M851.5 496.4l0.2 1.1M805.2 481.0l-0.4 1.4M721.4 428.3l-1.4 1.7M762.2 553.4l0.8 1.4M855.8 493.0l0.7 1.9M810.6 437.8l-1.3 0.4M802.8 449.7l1.2 1.2M841.2 495.2l-1.8 0.2M791.5 428.1l-0.7 0.5M736.8 499.1l-0.4 1.9M820.1 544.2l1.8 0.3M766.6 458.1l1.2 0.0M809.2 486.8l1.2 0.3M790.5 422.9l1.1 0.5M818.5 483.3l-0.2 2.3M862.7 548.3l-1.3 0.9M756.9 546.1l1.3 0.4M863.0 487.1l0.5 0.6M723.9 462.1l1.1 1.1M759.3 486.3l0.5 0.6M711.9 428.9l0.7 0.7M827.5 553.4l-1.5 0.4M781.4 465.6l0.6 1.2M712.5 444.5l0.9 0.8M754.5 518.8l-1.3 0.3M839.7 550.6l-2.3 0.4M846.2 578.3l0.0 0.6M828.5 532.8l0.2 0.8M799.0 460.7l-0.5 0.4M711.0 551.2l-0.5 0.8M797.9 420.9l-1.0 1.7M814.8 559.7l0.5 0.4M779.2 518.0l0.3 1.0M772.0 459.9l1.3 0.4M811.9 429.3l1.1 2.1M791.5 567.8l0.4 0.4M782.9 553.0l-0.2 1.0M841.8 559.4l-0.9 0.9M829.8 446.0l-0.7 1.9M846.4 442.3l-1.0 1.4M826.3 440.9l1.2 1.3M725.6 432.4l-0.4 0.4M820.3 523.7l-0.5 1.3M818.9 504.3l1.3 1.4M873.8 450.6l-1.6 0.8M708.8 524.8l-0.2 0.4M875.0 538.3l-0.4 1.3M825.1 586.3l0.4 1.9" stroke="#31d22f"/></g><g filter="url(#b04)" fill="#58f548"><circle cx="855.8" cy="499.9" r="1.6"/><circle cx="802.8" cy="559.5" r="1.9"/><circle cx="730.5" cy="520.7" r="1.6"/><circle cx="724.4" cy="503.1" r="1.3"/><circle cx="746.5" cy="490.5" r="1.2"/><circle cx="781.0" cy="449.5" r="1.8"/><circle cx="736.0" cy="521.8" r="1.7"/><circle cx="815.0" cy="503.3" r="1.6"/><circle cx="708.7" cy="440.0" r="1.5"/><circle cx="730.4" cy="449.9" r="1.3"/><circle cx="830.5" cy="527.5" r="1.6"/><circle cx="756.7" cy="505.3" r="1.9"/><circle cx="777.3" cy="528.8" r="1.4"/><circle cx="821.0" cy="544.3" r="1.8"/><circle cx="752.8" cy="459.5" r="1.7"/><circle cx="868.3" cy="475.5" r="1.4"/><circle cx="785.5" cy="562.8" r="1.9"/><circle cx="733.9" cy="454.6" r="1.5"/><circle cx="849.0" cy="507.2" r="2.9"/><circle cx="854.1" cy="503.0" r="2.4"/><circle cx="850.7" cy="512.3" r="2.1"/><circle cx="728.9" cy="487.9" r="2.4"/><circle cx="734.7" cy="496.3" r="2.1"/><circle cx="735.6" cy="501.3" r="1.9"/><circle cx="781.0" cy="499.7" r="2.2"/><circle cx="856.6" cy="463.6" r="2.3"/><circle cx="852.4" cy="463.6" r="2.0"/><circle cx="796.1" cy="570.1" r="2.3"/><circle cx="799.5" cy="572.7" r="2.0"/><circle cx="782.6" cy="458.6" r="2.0"/><circle cx="759.1" cy="463.6" r="2.0"/><circle cx="817.9" cy="523.2" r="2.1"/><circle cx="823.0" cy="523.2" r="1.9"/><circle cx="868.4" cy="482.9" r="2.0"/><circle cx="792.7" cy="437.6" r="2.0"/><circle cx="757.4" cy="538.3" r="2.0"/><circle cx="770.9" cy="562.6" r="2.1"/><circle cx="760.8" cy="560.9" r="1.9"/><circle cx="717.1" cy="456.0" r="2.0"/><circle cx="802.8" cy="545.8" r="2.0"/><circle cx="777.6" cy="473.7" r="1.9"/><circle cx="740.6" cy="560.1" r="1.9"/></g></g><rect x="824.0" y="420.8" width="51.1" height="17.8" fill="#000" />
<text x="829.3" y="432.8" font-size="9.4" textLength="42.0" lengthAdjust="spacingAndGlyphs" fill="#4fd06a"><tspan fill="#4fd06a">Live</tspan><tspan fill="#a8a8a8">/</tspan><tspan fill="#d8401a">dead</tspan></text>
<rect x="843.0" y="577.6" width="23.3" height="3.6" fill="#fff" />
</g>

</svg>
</body></html>
